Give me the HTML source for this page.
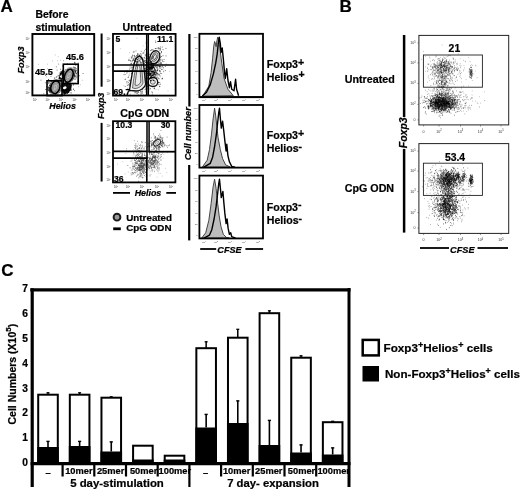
<!DOCTYPE html>
<html><head><meta charset="utf-8"><title>Figure</title>
<style>
html,body{margin:0;padding:0;background:#fff;}
body{width:520px;height:490px;overflow:hidden;}
svg{display:block;font-family:"Liberation Sans", Arial, Helvetica, sans-serif;}
text{stroke:#000;stroke-width:0.22px;}
text.t{stroke:none;}
</style></head><body>
<svg width="520" height="490" viewBox="0 0 520 490">
<rect width="520" height="490" fill="#fff"/>
<g id="panelC">
<text x="1.2" y="275.5" font-size="17" font-weight="bold" font-style="normal" text-anchor="start">C</text>
<line x1="32.2" y1="288.3" x2="32.2" y2="487" stroke="#000" stroke-width="3.2"/>
<line x1="30.3" y1="289.9" x2="350.5" y2="289.9" stroke="#000" stroke-width="3.2"/>
<line x1="349" y1="288" x2="349" y2="487" stroke="#000" stroke-width="3"/>
<line x1="30.6" y1="463.6" x2="350.5" y2="463.6" stroke="#000" stroke-width="3.3"/>
<text x="28.0" y="466.1" font-size="10.2" font-weight="bold" font-style="normal" text-anchor="end">0</text>
<text x="28.0" y="441.24" font-size="10.2" font-weight="bold" font-style="normal" text-anchor="end">1</text>
<text x="28.0" y="416.38" font-size="10.2" font-weight="bold" font-style="normal" text-anchor="end">2</text>
<text x="28.0" y="391.52000000000004" font-size="10.2" font-weight="bold" font-style="normal" text-anchor="end">3</text>
<text x="28.0" y="366.66" font-size="10.2" font-weight="bold" font-style="normal" text-anchor="end">4</text>
<text x="28.0" y="341.8" font-size="10.2" font-weight="bold" font-style="normal" text-anchor="end">5</text>
<text x="28.0" y="316.94000000000005" font-size="10.2" font-weight="bold" font-style="normal" text-anchor="end">6</text>
<text x="28.0" y="292.08000000000004" font-size="10.2" font-weight="bold" font-style="normal" text-anchor="end">7</text>
<text x="15.5" y="424.5" font-size="10.5" font-weight="bold" transform="rotate(-90 15.5 424.5)">Cell Numbers (X10<tspan font-size="8" dy="-4.4">5</tspan><tspan dy="4.4">)</tspan></text>
<line x1="48.0" y1="392.5" x2="48.0" y2="394.5" stroke="#000" stroke-width="1.5"/>
<line x1="46.5" y1="392.8" x2="49.5" y2="392.8" stroke="#000" stroke-width="1.3"/>
<rect x="38.20" y="394.70" width="19.60" height="68.80" fill="#fff" stroke="#000" stroke-width="2"/>
<rect x="37.20" y="447.00" width="21.60" height="16.50" fill="#000"/>
<line x1="48.0" y1="441" x2="48.0" y2="447" stroke="#000" stroke-width="1.6"/>
<line x1="46.4" y1="441.4" x2="49.6" y2="441.4" stroke="#000" stroke-width="1.4"/>
<line x1="79.63" y1="392.5" x2="79.63" y2="394.5" stroke="#000" stroke-width="1.5"/>
<line x1="78.13" y1="392.8" x2="81.13" y2="392.8" stroke="#000" stroke-width="1.3"/>
<rect x="69.83" y="394.70" width="19.60" height="68.80" fill="#fff" stroke="#000" stroke-width="2"/>
<rect x="68.83" y="446.00" width="21.60" height="17.50" fill="#000"/>
<line x1="79.63" y1="441" x2="79.63" y2="446" stroke="#000" stroke-width="1.6"/>
<line x1="78.03" y1="441.4" x2="81.22999999999999" y2="441.4" stroke="#000" stroke-width="1.4"/>
<line x1="111.26" y1="396.5" x2="111.26" y2="397.5" stroke="#000" stroke-width="1.5"/>
<line x1="109.76" y1="396.8" x2="112.76" y2="396.8" stroke="#000" stroke-width="1.3"/>
<rect x="101.46" y="397.70" width="19.60" height="65.80" fill="#fff" stroke="#000" stroke-width="2"/>
<rect x="100.46" y="451.50" width="21.60" height="12.00" fill="#000"/>
<line x1="111.26" y1="441.5" x2="111.26" y2="451.5" stroke="#000" stroke-width="1.6"/>
<line x1="109.66000000000001" y1="441.9" x2="112.86" y2="441.9" stroke="#000" stroke-width="1.4"/>
<rect x="133.09" y="445.70" width="19.60" height="17.80" fill="#fff" stroke="#000" stroke-width="2"/>
<rect x="132.09" y="459.50" width="21.60" height="4.00" fill="#000"/>
<rect x="164.72" y="455.70" width="19.60" height="7.80" fill="#fff" stroke="#000" stroke-width="2"/>
<rect x="163.72" y="459.50" width="21.60" height="4.00" fill="#000"/>
<line x1="206.15000000000003" y1="341.5" x2="206.15000000000003" y2="348" stroke="#000" stroke-width="1.5"/>
<line x1="204.65000000000003" y1="341.8" x2="207.65000000000003" y2="341.8" stroke="#000" stroke-width="1.3"/>
<rect x="196.35" y="348.20" width="19.60" height="115.30" fill="#fff" stroke="#000" stroke-width="2"/>
<rect x="195.35" y="427.50" width="21.60" height="36.00" fill="#000"/>
<line x1="206.15000000000003" y1="414" x2="206.15000000000003" y2="427.5" stroke="#000" stroke-width="1.6"/>
<line x1="204.55000000000004" y1="414.4" x2="207.75000000000003" y2="414.4" stroke="#000" stroke-width="1.4"/>
<line x1="237.78000000000003" y1="329" x2="237.78000000000003" y2="337.5" stroke="#000" stroke-width="1.5"/>
<line x1="236.28000000000003" y1="329.3" x2="239.28000000000003" y2="329.3" stroke="#000" stroke-width="1.3"/>
<rect x="227.98" y="337.70" width="19.60" height="125.80" fill="#fff" stroke="#000" stroke-width="2"/>
<rect x="226.98" y="423.00" width="21.60" height="40.50" fill="#000"/>
<line x1="237.78000000000003" y1="400.5" x2="237.78000000000003" y2="423" stroke="#000" stroke-width="1.6"/>
<line x1="236.18000000000004" y1="400.9" x2="239.38000000000002" y2="400.9" stroke="#000" stroke-width="1.4"/>
<line x1="269.41" y1="310.5" x2="269.41" y2="313" stroke="#000" stroke-width="1.5"/>
<line x1="267.91" y1="310.8" x2="270.91" y2="310.8" stroke="#000" stroke-width="1.3"/>
<rect x="259.61" y="313.20" width="19.60" height="150.30" fill="#fff" stroke="#000" stroke-width="2"/>
<rect x="258.61" y="445.00" width="21.60" height="18.50" fill="#000"/>
<line x1="269.41" y1="420" x2="269.41" y2="445" stroke="#000" stroke-width="1.6"/>
<line x1="267.81" y1="420.4" x2="271.01000000000005" y2="420.4" stroke="#000" stroke-width="1.4"/>
<line x1="301.04" y1="355.5" x2="301.04" y2="357.5" stroke="#000" stroke-width="1.5"/>
<line x1="299.54" y1="355.8" x2="302.54" y2="355.8" stroke="#000" stroke-width="1.3"/>
<rect x="291.24" y="357.70" width="19.60" height="105.80" fill="#fff" stroke="#000" stroke-width="2"/>
<rect x="290.24" y="452.50" width="21.60" height="11.00" fill="#000"/>
<line x1="301.04" y1="444.5" x2="301.04" y2="452.5" stroke="#000" stroke-width="1.6"/>
<line x1="299.44" y1="444.9" x2="302.64000000000004" y2="444.9" stroke="#000" stroke-width="1.4"/>
<line x1="332.67" y1="421" x2="332.67" y2="422" stroke="#000" stroke-width="1.5"/>
<line x1="331.17" y1="421.3" x2="334.17" y2="421.3" stroke="#000" stroke-width="1.3"/>
<rect x="322.87" y="422.20" width="19.60" height="41.30" fill="#fff" stroke="#000" stroke-width="2"/>
<rect x="321.87" y="454.50" width="21.60" height="9.00" fill="#000"/>
<line x1="332.67" y1="447.5" x2="332.67" y2="454.5" stroke="#000" stroke-width="1.6"/>
<line x1="331.07" y1="447.9" x2="334.27000000000004" y2="447.9" stroke="#000" stroke-width="1.4"/>
<line x1="62.6" y1="463" x2="62.6" y2="476.5" stroke="#000" stroke-width="2.2"/>
<line x1="94.3" y1="463" x2="94.3" y2="476.5" stroke="#000" stroke-width="2.2"/>
<line x1="126.0" y1="463" x2="126.0" y2="476.5" stroke="#000" stroke-width="2.2"/>
<line x1="157.7" y1="463" x2="157.7" y2="476.5" stroke="#000" stroke-width="2.2"/>
<line x1="189.4" y1="463" x2="189.4" y2="487" stroke="#000" stroke-width="2.2"/>
<line x1="221.1" y1="463" x2="221.1" y2="476.5" stroke="#000" stroke-width="2.2"/>
<line x1="252.79999999999998" y1="463" x2="252.79999999999998" y2="476.5" stroke="#000" stroke-width="2.2"/>
<line x1="284.5" y1="463" x2="284.5" y2="476.5" stroke="#000" stroke-width="2.2"/>
<line x1="316.2" y1="463" x2="316.2" y2="476.5" stroke="#000" stroke-width="2.2"/>
<text x="48.10" y="475.7" font-size="9.3" font-weight="bold" text-anchor="middle">–</text>
<text x="205.60" y="475.7" font-size="9.3" font-weight="bold" text-anchor="middle">–</text>
<text x="78.85" y="473.9" font-size="9.3" font-weight="bold" text-anchor="middle">10mer</text>
<text x="110.60" y="473.9" font-size="9.3" font-weight="bold" text-anchor="middle">25mer</text>
<text x="143.60" y="473.9" font-size="9.3" font-weight="bold" text-anchor="middle">50mer</text>
<text x="236.60" y="473.9" font-size="9.3" font-weight="bold" text-anchor="middle">10mer</text>
<text x="268.75" y="473.9" font-size="9.3" font-weight="bold" text-anchor="middle">25mer</text>
<text x="301.50" y="473.9" font-size="9.3" font-weight="bold" text-anchor="middle">50mer</text>
<text x="158.60" y="473.9" font-size="9.3" font-weight="bold">100mer</text>
<text x="317.40" y="473.9" font-size="9.3" font-weight="bold">100mer</text>
<text x="117" y="486.8" font-size="11.4" font-weight="bold" font-style="normal" text-anchor="middle">5 day-stimulation</text>
<text x="273" y="486.8" font-size="11.3" font-weight="bold" font-style="normal" text-anchor="middle">7 day- expansion</text>
<rect x="362.7" y="339.9" width="16.100000000000023" height="15.5" fill="#fff" stroke="#000" stroke-width="2.5"/>
<rect x="362.5" y="366" width="16.5" height="15.5" fill="#000"/>
<text x="383.5" y="351.5" font-size="11.7" font-weight="bold">Foxp3<tspan font-size="9" dy="-3.6">+</tspan><tspan dy="3.6">Helios</tspan><tspan font-size="9" dy="-3.6">+</tspan><tspan dy="3.6"> cells</tspan></text>
<text x="385" y="377.8" font-size="11.6" font-weight="bold">Non-Foxp3<tspan font-size="9" dy="-3.6">+</tspan><tspan dy="3.6">Helios</tspan><tspan font-size="9" dy="-3.6">+</tspan><tspan dy="3.6"> cells</tspan></text>
</g>
<g id="panelA">
<text x="0.4" y="12.4" font-size="17" font-weight="bold" font-style="normal" text-anchor="start">A</text>
<text x="35.5" y="17.8" font-size="10.4" font-weight="bold" font-style="normal" text-anchor="start">Before</text>
<text x="35.5" y="30.6" font-size="10.4" font-weight="bold" font-style="normal" text-anchor="start">stimulation</text>
<path d="M62.4 85.7h0.80M59.4 81.7h0.80M55.5 85.8h0.80M70.4 78.2h0.80M69.3 77.8h0.80M65.1 80.8h0.80M55.1 94.5h0.80M67.0 81.7h0.80M44.9 82.7h0.80M54.7 84.4h0.80M63.7 80.2h0.80M62.7 76.4h0.80M65.4 82.2h0.80M64.6 93.3h0.80M70.0 84.6h0.80M55.3 81.8h0.80M59.5 83.3h0.80M66.8 79.9h0.80M55.6 79.9h0.80M63.5 90.3h0.80M58.0 87.3h0.80M58.9 73.0h0.80M67.3 87.7h0.80M48.4 90.9h0.80M58.2 78.8h0.80M64.8 79.2h0.80M56.2 93.3h0.80M69.8 82.9h0.80M72.2 76.2h0.80M57.7 75.4h0.80M63.4 76.0h0.80M54.3 78.5h0.80M54.0 84.5h0.80M62.0 66.0h0.80M54.0 90.6h0.80M73.1 77.2h0.80M40.6 80.2h0.80M61.3 76.8h0.80M58.9 92.3h0.80M69.3 77.0h0.80M65.2 82.7h0.80M74.1 76.6h0.80M67.3 81.8h0.80M69.9 79.5h0.80M47.5 89.3h0.80M60.2 69.3h0.80M64.8 87.6h0.80M64.8 78.5h0.80M66.5 83.3h0.80M67.2 86.6h0.80M56.3 83.5h0.80M68.5 76.8h0.80M60.3 90.9h0.80M69.2 72.4h0.80M53.0 88.5h0.80M59.9 81.4h0.80M66.6 70.0h0.80M64.8 69.7h0.80M59.6 89.0h0.80M72.2 80.1h0.80M64.7 80.9h0.80M65.2 83.9h0.80M62.0 84.2h0.80M65.5 79.1h0.80M68.9 80.7h0.80M75.6 73.1h0.80M57.9 82.5h0.80M65.5 86.3h0.80M61.4 85.5h0.80M63.3 60.8h0.80M56.1 88.9h0.80M65.4 81.0h0.80M61.9 87.2h0.80M61.7 78.2h0.80M78.2 71.1h0.80M58.2 84.4h0.80M60.4 82.9h0.80M43.4 93.8h0.80M63.7 71.4h0.80M65.3 86.7h0.80M73.0 84.4h0.80M50.2 89.1h0.80M62.3 86.6h0.80M58.3 64.1h0.80M63.1 69.7h0.80M60.4 71.6h0.80M67.7 86.6h0.80M61.8 83.6h0.80M67.4 78.5h0.80M67.4 89.5h0.80M67.3 75.2h0.80M74.4 62.6h0.80M66.6 76.1h0.80M65.5 84.6h0.80M65.8 83.8h0.80M46.8 82.9h0.80M62.0 74.4h0.80M50.0 80.5h0.80M72.6 78.9h0.80M67.4 70.1h0.80M57.6 76.8h0.80M72.8 85.3h0.80M62.6 93.7h0.80M67.4 76.1h0.80M59.1 79.7h0.80M66.0 81.8h0.80M67.2 69.6h0.80M74.7 83.0h0.80M70.2 73.7h0.80M61.4 90.5h0.80M63.2 82.0h0.80M69.7 73.5h0.80M46.5 92.1h0.80M53.8 95.3h0.80M61.6 77.6h0.80M65.2 85.9h0.80M67.6 87.7h0.80M65.6 87.1h0.80M77.3 81.7h0.80M61.3 89.5h0.80M46.3 86.7h0.80M54.4 88.3h0.80M60.7 82.9h0.80M59.3 86.1h0.80M73.1 73.0h0.80M69.1 83.9h0.80M55.9 77.2h0.80M62.8 89.8h0.80M49.6 87.7h0.80M71.2 80.4h0.80M65.2 85.7h0.80M58.5 75.7h0.80M50.0 87.1h0.80M65.5 74.6h0.80M53.5 83.1h0.80M52.2 89.4h0.80M56.2 89.8h0.80M50.6 76.4h0.80M65.4 77.0h0.80M45.0 89.5h0.80M62.0 78.4h0.80M69.7 81.4h0.80M67.3 80.1h0.80M72.7 78.2h0.80M56.7 70.1h0.80M72.5 83.4h0.80M58.4 81.4h0.80M67.1 63.9h0.80M74.2 90.7h0.80M59.0 89.9h0.80M73.1 71.7h0.80M68.9 83.2h0.80M56.1 86.3h0.80M67.0 84.3h0.80M61.0 81.3h0.80M54.4 85.6h0.80M67.8 77.9h0.80M53.5 82.5h0.80M82.7 73.5h0.80M55.9 66.8h0.80M67.7 81.0h0.80M74.0 75.3h0.80M63.6 84.7h0.80M61.3 77.1h0.80M77.1 83.5h0.80M50.8 86.2h0.80M64.5 81.3h0.80M55.8 79.6h0.80M79.0 75.8h0.80M49.5 82.0h0.80M76.2 77.8h0.80M76.3 76.3h0.80M57.7 87.7h0.80M45.9 89.7h0.80M63.7 84.7h0.80M57.1 85.2h0.80M66.3 81.4h0.80M66.7 79.7h0.80M63.1 87.3h0.80M59.1 78.0h0.80M58.2 85.2h0.80M61.9 83.3h0.80M62.7 82.8h0.80M56.3 76.9h0.80M68.7 84.7h0.80M63.9 78.9h0.80M61.0 75.3h0.80M50.6 92.0h0.80M59.2 90.2h0.80M45.2 75.5h0.80M61.7 94.6h0.80M54.4 77.7h0.80M59.3 88.3h0.80M65.7 80.3h0.80" stroke="#444" stroke-width="0.80" stroke-opacity="1.0" fill="none"/>
<path d="M77.8 82.1h0.70M59.7 81.0h0.70M79.9 84.7h0.70M72.3 64.2h0.70M58.2 82.3h0.70M56.4 85.7h0.70M67.2 84.1h0.70M74.9 72.8h0.70M55.9 83.7h0.70M71.8 75.1h0.70M46.0 76.9h0.70M64.3 86.3h0.70M69.4 75.2h0.70M70.2 80.4h0.70M62.5 75.6h0.70M57.1 81.9h0.70M47.3 68.7h0.70M60.1 60.4h0.70M54.8 54.9h0.70M51.8 80.7h0.70M66.8 74.5h0.70M57.2 60.8h0.70M81.9 80.2h0.70M73.1 66.2h0.70M57.8 56.8h0.70M69.4 84.4h0.70M37.2 74.5h0.70M67.6 57.4h0.70M38.1 64.3h0.70M52.4 61.0h0.70M60.4 77.5h0.70M67.6 82.0h0.70M78.0 86.6h0.70M44.3 69.9h0.70M47.3 64.2h0.70M59.0 75.1h0.70M65.9 59.1h0.70M45.1 74.8h0.70" stroke="#888" stroke-width="0.70" stroke-opacity="1.0" fill="none"/>
<g transform="translate(55.4 87.2) rotate(15)"><ellipse rx="6.6" ry="8.4" fill="#555" opacity="0.55"/></g>
<g transform="translate(68.8 75.7) rotate(20)"><ellipse rx="6.0" ry="9.0" fill="#555" opacity="0.5"/></g>
<path d="M58.6 78.5 L60 73 L62.8 69.5 L64.4 71 L64 79.5 L61 80 Z" fill="#0a0a0a"/>
<path d="M61.5 83.5 L66 82.8 L72 84.5 L71.2 89 L68.5 93 L64 94.6 L61.6 91 Z" fill="#111"/>
<path d="M65.4 89.2h0.90M65.8 88.0h0.90M68.1 90.9h0.90M65.7 88.3h0.90M65.5 82.9h0.90M63.1 90.1h0.90M61.5 90.5h0.90M66.4 86.4h0.90M65.2 89.2h0.90M67.4 91.6h0.90M65.9 87.8h0.90M65.6 89.8h0.90M68.2 90.8h0.90M63.8 86.5h0.90M64.9 88.1h0.90M62.7 89.7h0.90M64.5 90.3h0.90M67.6 88.9h0.90M73.0 89.2h0.90M69.3 90.3h0.90M69.3 83.8h0.90M63.7 90.6h0.90M67.0 93.3h0.90M68.3 92.5h0.90M67.5 89.6h0.90M67.5 87.2h0.90M69.5 87.4h0.90M65.3 90.1h0.90M69.5 90.1h0.90M63.6 90.7h0.90M67.7 91.8h0.90M63.7 94.6h0.90M71.0 90.0h0.90M66.8 88.9h0.90M70.2 88.2h0.90M68.0 88.8h0.90M63.9 91.9h0.90M70.0 90.0h0.90M64.0 92.1h0.90M65.9 90.8h0.90M70.6 92.9h0.90M66.0 92.0h0.90M64.1 89.9h0.90M60.8 94.6h0.90M70.1 86.8h0.90M61.5 85.8h0.90M69.5 88.8h0.90M65.8 89.2h0.90M65.6 87.2h0.90M66.1 86.3h0.90M65.8 90.8h0.90M67.4 89.4h0.90M63.3 90.4h0.90M64.5 94.1h0.90M68.3 89.7h0.90M64.6 88.2h0.90M63.2 89.1h0.90" stroke="#000" stroke-width="0.90" stroke-opacity="1.0" fill="none"/>
<path d="M50.5 90.1h0.84M48.9 88.1h0.84M54.5 80.5h0.84M49.2 88.7h0.84M50.2 89.6h0.84M49.6 89.5h0.84M50.1 91.1h0.84M47.0 84.5h0.84M50.0 83.9h0.84M48.3 90.5h0.84M49.0 90.5h0.84M51.2 89.2h0.84M50.8 87.6h0.84M47.7 87.9h0.84M50.7 85.9h0.84M49.8 91.0h0.84M48.6 90.6h0.84M53.0 85.8h0.84M50.2 87.4h0.84M52.5 89.3h0.84M51.4 85.2h0.84M50.0 88.0h0.84M47.2 93.8h0.84M51.4 81.0h0.84M51.2 87.5h0.84M50.7 89.5h0.84M47.6 87.2h0.84M52.4 85.7h0.84M48.4 82.6h0.84M48.0 89.3h0.84M52.7 89.7h0.84M49.2 85.3h0.84M50.8 90.2h0.84M48.4 83.3h0.84M50.5 89.0h0.84M47.9 87.2h0.84M49.1 89.8h0.84M49.8 87.7h0.84M49.4 92.2h0.84M52.2 86.5h0.84M51.4 85.0h0.84M50.1 91.0h0.84M52.4 86.5h0.84M49.9 88.8h0.84M47.6 88.1h0.84M48.9 89.5h0.84M48.2 80.1h0.84M50.1 89.0h0.84M49.1 91.6h0.84M49.6 85.6h0.84M50.8 81.7h0.84M48.9 87.9h0.84M51.4 87.3h0.84M50.5 85.4h0.84M50.5 94.7h0.84M49.0 88.1h0.84M50.3 92.1h0.84M48.0 79.6h0.84M51.0 91.2h0.84M50.3 89.0h0.84M51.5 89.5h0.84M52.7 83.0h0.84M49.4 74.2h0.84M51.3 86.5h0.84M50.0 87.0h0.84" stroke="#111" stroke-width="0.84" stroke-opacity="1.0" fill="none"/>
<path d="M73.8 68.2h0.80M73.6 74.9h0.80M74.6 72.3h0.80M74.2 76.1h0.80M75.2 71.4h0.80M75.5 71.3h0.80M72.8 78.5h0.80M75.2 67.7h0.80M76.1 73.6h0.80M72.2 79.2h0.80M75.0 76.0h0.80M74.8 71.3h0.80M72.2 76.4h0.80M74.5 70.7h0.80M75.0 72.4h0.80M75.5 70.3h0.80M74.4 62.4h0.80M73.9 75.0h0.80M76.5 70.4h0.80M74.3 79.1h0.80M74.0 75.3h0.80M77.0 72.2h0.80M76.3 68.8h0.80M74.8 71.7h0.80M74.7 77.1h0.80M78.1 69.0h0.80M73.6 74.2h0.80M72.9 74.2h0.80M75.4 70.8h0.80M75.3 65.0h0.80M75.6 65.0h0.80M73.5 69.5h0.80M73.9 75.9h0.80M74.6 70.2h0.80M75.3 79.1h0.80M74.5 73.6h0.80M76.4 73.2h0.80M72.6 83.2h0.80M77.8 63.1h0.80M74.4 73.9h0.80M75.9 75.0h0.80M74.1 67.3h0.80M74.7 76.7h0.80M72.9 67.4h0.80M74.5 63.3h0.80M74.1 70.0h0.80M75.2 68.8h0.80M73.2 70.2h0.80M74.4 69.0h0.80M74.5 75.4h0.80" stroke="#222" stroke-width="0.80" stroke-opacity="1.0" fill="none"/>
<g transform="translate(55.4 87.2) rotate(15)">
<ellipse rx="4.4" ry="6.3" fill="#efefef" stroke="#000" stroke-width="1.7"/>
<ellipse rx="3.26" ry="4.79" fill="#a8a8a8" stroke="#555" stroke-width="0.5"/>
<ellipse rx="1.98" ry="3.15" fill="#c6c6c6" stroke="#666" stroke-width="0.4"/>
<ellipse rx="0.88" ry="1.64" fill="#9c9c9c"/>
</g>
<g transform="translate(68.8 75.7) rotate(20)">
<ellipse rx="3.9" ry="6.7" fill="#efefef" stroke="#000" stroke-width="1.7"/>
<ellipse rx="2.89" ry="5.09" fill="#a8a8a8" stroke="#555" stroke-width="0.5"/>
<ellipse rx="1.75" ry="3.35" fill="#c6c6c6" stroke="#666" stroke-width="0.4"/>
<ellipse rx="0.78" ry="1.74" fill="#9c9c9c"/>
</g>
<path d="M59.6 76.8 L61.6 74.2 L62 78.2 Z" fill="#fff"/>
<ellipse cx="64.8" cy="87.8" rx="1.9" ry="1.3" fill="#fff" transform="rotate(-20 64.8 87.8)"/>
<rect x="47.0" y="80.8" width="15.0" height="14.799999999999997" fill="none" stroke="#000" stroke-width="1.6"/>
<rect x="63.3" y="64.2" width="14.900000000000006" height="19.39999999999999" fill="none" stroke="#000" stroke-width="1.6"/>
<rect x="32.4" y="34.0" width="61.800000000000004" height="61.400000000000006" fill="none" stroke="#000" stroke-width="1.9"/>
<text x="66" y="60" font-size="9.2" font-weight="bold" font-style="normal" text-anchor="start">45.6</text>
<text x="35" y="74.6" font-size="9.2" font-weight="bold" font-style="normal" text-anchor="start">45.5</text>
<text x="29.5" y="40" font-size="2.6" text-anchor="end" fill="#222" class="t">10<tspan font-size="1.8" dy="-1">4</tspan></text>
<text x="29.5" y="54" font-size="2.6" text-anchor="end" fill="#222" class="t">10<tspan font-size="1.8" dy="-1">2</tspan></text>
<text x="29.5" y="68" font-size="2.6" text-anchor="end" fill="#222" class="t">10<tspan font-size="1.8" dy="-1">5</tspan></text>
<text x="29.5" y="82.5" font-size="2.6" text-anchor="end" fill="#222" class="t">10<tspan font-size="1.8" dy="-1">1</tspan></text>
<text x="29.5" y="94" font-size="2.6" text-anchor="end" fill="#222" class="t">10<tspan font-size="1.8" dy="-1">2</tspan></text>
<text x="35" y="100.5" font-size="2.6" text-anchor="middle" fill="#222" class="t">10<tspan font-size="1.8" dy="-1">1</tspan></text>
<text x="47.5" y="100.5" font-size="2.6" text-anchor="middle" fill="#222" class="t">10<tspan font-size="1.8" dy="-1">3</tspan></text>
<text x="61" y="100.5" font-size="2.6" text-anchor="middle" fill="#222" class="t">10<tspan font-size="1.8" dy="-1">3</tspan></text>
<text x="74.5" y="100.5" font-size="2.6" text-anchor="middle" fill="#222" class="t">10<tspan font-size="1.8" dy="-1">2</tspan></text>
<text x="88" y="100.5" font-size="2.6" text-anchor="middle" fill="#222" class="t">10<tspan font-size="1.8" dy="-1">2</tspan></text>
<text x="24.4" y="60" font-size="9.2" font-weight="bold" font-style="italic" text-anchor="middle" transform="rotate(-90 24.4 60)">Foxp3</text>
<text x="62.6" y="109.2" font-size="8.9" font-weight="bold" font-style="italic" text-anchor="middle">Helios</text>
<line x1="101.6" y1="33.5" x2="101.6" y2="86.7" stroke="#000" stroke-width="2"/>
<text x="103.8" y="105.8" font-size="8.9" font-weight="bold" font-style="italic" text-anchor="middle" transform="rotate(-90 103.8 105.8)">Foxp3</text>
<line x1="101.6" y1="122.9" x2="101.6" y2="181.5" stroke="#000" stroke-width="2"/>
<text x="147.3" y="31.2" font-size="10.6" font-weight="bold" font-style="normal" text-anchor="middle">Untreated</text>
<path d="M141.5 94.0h0.76M135.1 71.0h0.76M121.3 91.9h0.76M134.7 74.9h0.76M144.0 63.3h0.76M141.1 76.2h0.76M128.1 76.9h0.76M148.6 59.0h0.76M142.4 78.9h0.76M140.2 80.8h0.76M146.0 75.2h0.76M144.0 72.9h0.76M144.0 68.8h0.76M134.5 92.8h0.76M141.2 74.9h0.76M133.9 67.0h0.76M137.7 85.4h0.76M139.8 81.6h0.76M135.6 89.2h0.76M137.5 70.2h0.76M143.2 77.6h0.76M138.1 70.0h0.76M135.9 81.8h0.76M142.8 64.5h0.76M140.4 78.2h0.76M131.6 82.5h0.76M137.7 72.4h0.76M140.2 89.8h0.76M133.9 79.5h0.76M133.5 87.2h0.76M133.4 83.2h0.76M155.5 53.5h0.76M135.2 80.4h0.76M139.3 69.3h0.76M149.9 79.1h0.76M127.9 82.6h0.76M126.9 85.4h0.76M135.1 76.8h0.76M145.1 78.5h0.76M134.4 57.9h0.76M143.4 84.5h0.76M132.4 83.5h0.76M139.9 82.9h0.76M126.9 70.6h0.76M141.9 84.2h0.76M148.1 52.9h0.76M138.4 81.0h0.76M154.2 69.4h0.76M136.7 76.0h0.76M144.2 72.6h0.76M146.2 69.5h0.76M141.0 71.1h0.76M140.7 69.4h0.76M127.7 85.0h0.76M141.2 70.9h0.76M137.6 85.9h0.76M133.5 73.9h0.76M140.4 81.7h0.76M140.9 55.0h0.76M144.5 80.6h0.76M139.1 73.3h0.76M140.8 72.1h0.76M134.4 67.6h0.76M136.5 69.3h0.76M131.0 81.0h0.76M130.1 81.0h0.76M132.3 78.3h0.76M145.5 79.5h0.76M134.5 75.7h0.76M142.7 59.2h0.76M134.9 76.9h0.76M135.8 76.3h0.76M140.9 84.3h0.76M142.2 82.8h0.76M137.0 75.5h0.76M137.7 72.6h0.76M141.0 58.9h0.76M136.8 75.4h0.76M133.3 74.7h0.76M141.6 75.0h0.76M154.9 52.7h0.76M141.0 57.9h0.76M124.8 74.5h0.76M141.9 73.6h0.76M145.9 54.6h0.76M142.4 80.6h0.76M139.8 70.3h0.76M142.9 71.9h0.76M140.7 71.2h0.76M126.5 73.2h0.76M138.1 83.6h0.76M133.8 74.7h0.76M141.5 78.1h0.76M137.4 56.2h0.76M140.1 91.9h0.76M141.9 85.0h0.76M136.6 68.3h0.76M145.1 68.0h0.76M130.7 64.2h0.76M136.2 68.1h0.76M141.2 68.9h0.76M145.7 76.7h0.76M130.0 87.6h0.76M134.9 77.5h0.76M139.1 72.9h0.76M141.6 69.6h0.76M132.9 52.3h0.76M133.2 67.2h0.76M138.3 76.5h0.76M141.3 77.8h0.76M135.6 68.2h0.76M127.4 72.0h0.76M140.1 81.7h0.76M138.2 74.2h0.76M143.5 77.2h0.76M141.3 82.5h0.76M137.1 89.0h0.76M136.1 71.9h0.76M135.7 67.3h0.76M143.4 94.9h0.76M137.5 81.6h0.76M143.2 85.2h0.76M147.5 64.9h0.76M134.2 79.7h0.76M146.0 78.6h0.76M134.6 71.6h0.76M136.6 66.9h0.76M147.8 71.5h0.76M144.2 80.6h0.76M134.4 79.4h0.76M146.0 83.9h0.76M145.1 78.3h0.76M141.7 74.6h0.76M138.2 89.2h0.76M130.9 73.8h0.76M140.9 70.7h0.76M135.3 83.4h0.76M148.0 84.4h0.76M143.3 61.2h0.76M148.7 78.9h0.76M140.5 65.0h0.76M140.4 65.2h0.76M138.0 80.6h0.76M138.1 78.8h0.76M131.1 89.1h0.76M138.6 57.5h0.76M139.0 68.3h0.76M133.8 71.4h0.76M142.4 64.7h0.76M134.9 89.8h0.76M142.5 75.3h0.76M139.4 75.0h0.76M136.8 83.1h0.76M142.8 52.3h0.76M140.2 67.3h0.76M143.2 70.7h0.76M135.1 63.8h0.76M135.6 51.0h0.76M127.7 77.5h0.76M138.8 57.0h0.76M129.3 80.4h0.76M135.0 71.6h0.76M137.6 89.7h0.76M146.9 88.2h0.76M138.9 78.0h0.76M145.4 92.0h0.76M135.9 80.1h0.76M139.9 76.8h0.76M138.4 62.5h0.76M138.7 60.3h0.76M144.0 82.6h0.76M129.2 88.4h0.76M147.1 58.3h0.76M146.8 85.9h0.76M152.1 66.2h0.76M140.5 80.7h0.76M139.2 77.9h0.76M147.1 62.5h0.76M134.6 61.0h0.76M136.7 69.5h0.76M140.0 79.0h0.76M140.0 69.4h0.76M134.2 84.9h0.76M142.4 77.8h0.76M133.7 90.9h0.76M134.0 81.7h0.76M145.2 74.7h0.76M145.2 66.0h0.76M143.6 79.1h0.76M128.6 80.8h0.76M131.1 87.6h0.76M135.2 73.6h0.76M140.7 73.1h0.76M141.0 70.9h0.76M142.1 76.8h0.76M145.1 49.3h0.76M144.7 77.6h0.76M128.7 75.0h0.76M138.9 87.0h0.76M129.6 90.0h0.76M136.4 82.5h0.76M138.7 64.7h0.76M142.6 86.1h0.76M145.1 86.1h0.76M138.7 59.1h0.76M136.3 68.7h0.76M132.9 80.8h0.76M140.8 73.7h0.76M139.7 74.8h0.76M138.2 83.6h0.76M145.0 70.3h0.76M127.5 88.3h0.76M136.9 87.0h0.76M130.3 71.0h0.76M141.5 61.9h0.76M134.3 82.5h0.76M141.1 92.8h0.76M136.6 61.3h0.76M139.4 85.8h0.76M142.1 63.5h0.76M141.1 84.6h0.76M142.5 71.8h0.76M138.6 84.1h0.76M139.2 57.3h0.76M139.3 81.1h0.76M136.8 84.7h0.76M135.5 74.6h0.76M135.7 81.3h0.76M147.6 75.3h0.76M146.5 93.2h0.76M141.6 82.6h0.76M148.4 76.2h0.76M140.0 65.5h0.76M138.4 89.7h0.76M140.5 80.7h0.76M137.1 77.4h0.76M128.7 84.7h0.76M138.5 64.7h0.76M136.1 67.1h0.76M141.0 87.3h0.76M129.3 83.6h0.76M144.4 71.3h0.76M132.0 67.1h0.76M134.4 78.7h0.76M140.6 55.7h0.76M142.8 61.2h0.76M145.8 65.2h0.76M136.5 66.9h0.76M133.0 88.1h0.76M141.9 82.8h0.76M143.3 61.2h0.76M136.8 70.0h0.76M132.2 79.9h0.76M135.9 68.2h0.76M137.0 54.7h0.76M139.1 89.7h0.76M141.4 66.6h0.76M123.6 74.7h0.76M144.5 80.2h0.76M140.6 91.5h0.76M145.5 72.9h0.76M142.6 84.8h0.76M131.0 70.3h0.76M131.0 73.4h0.76M143.7 66.2h0.76M124.8 86.5h0.76M137.6 90.8h0.76M129.3 84.9h0.76M136.8 78.4h0.76M135.7 85.6h0.76M143.9 78.0h0.76M129.7 81.8h0.76M134.7 81.6h0.76M136.7 92.2h0.76M145.5 72.8h0.76M136.9 93.7h0.76M134.7 79.7h0.76M142.4 89.6h0.76M143.9 63.6h0.76M131.2 77.0h0.76M131.6 86.2h0.76M146.0 60.5h0.76M133.8 76.7h0.76M136.1 73.9h0.76M142.6 68.6h0.76M142.3 70.3h0.76M134.5 80.7h0.76M134.8 78.2h0.76M147.1 78.0h0.76M136.3 83.0h0.76M134.4 86.2h0.76M130.4 80.7h0.76M137.3 67.6h0.76M149.7 69.6h0.76M146.7 84.4h0.76M148.3 68.0h0.76M142.1 91.6h0.76M138.1 74.6h0.76M151.4 80.4h0.76M137.5 69.4h0.76M140.2 79.7h0.76M136.0 93.1h0.76M135.8 80.3h0.76M148.4 67.8h0.76M140.5 95.1h0.76M133.4 63.8h0.76M136.6 56.8h0.76M144.6 58.3h0.76M138.3 90.8h0.76M130.4 71.1h0.76M126.6 81.5h0.76M135.1 72.6h0.76M137.7 81.4h0.76M136.6 75.8h0.76M135.3 76.5h0.76M132.1 75.3h0.76M129.1 69.1h0.76M148.7 78.9h0.76M131.2 77.1h0.76M136.5 58.8h0.76M133.1 82.4h0.76M140.8 75.5h0.76M135.6 64.4h0.76M145.3 79.9h0.76M137.6 54.3h0.76M132.5 74.0h0.76M139.9 74.7h0.76M139.7 62.2h0.76M129.5 91.4h0.76M132.7 83.5h0.76M129.9 71.5h0.76M137.8 86.4h0.76M131.3 80.6h0.76M142.0 69.2h0.76M142.9 67.7h0.76M134.2 74.9h0.76M124.1 72.0h0.76M136.0 60.6h0.76M134.7 83.0h0.76M133.8 88.0h0.76M134.9 61.9h0.76M146.1 81.6h0.76M145.2 68.9h0.76M142.3 79.4h0.76M141.9 77.0h0.76M146.3 71.0h0.76M136.2 60.5h0.76M146.2 70.0h0.76M134.7 65.7h0.76M138.6 63.1h0.76M138.2 69.5h0.76M137.4 66.0h0.76M139.6 71.5h0.76M138.6 78.6h0.76M144.7 54.9h0.76M137.2 67.6h0.76M145.8 61.4h0.76M135.2 72.3h0.76M134.7 85.3h0.76M134.2 85.0h0.76M134.2 56.6h0.76M144.2 81.6h0.76M140.9 77.7h0.76M143.5 64.6h0.76M144.7 71.8h0.76M143.6 77.9h0.76M130.4 61.2h0.76M144.9 75.9h0.76M135.9 77.9h0.76M137.3 70.2h0.76M138.8 77.5h0.76M146.6 78.1h0.76M145.6 88.3h0.76M138.9 77.5h0.76M139.2 68.7h0.76M139.4 69.6h0.76M146.3 83.0h0.76M139.9 56.7h0.76M139.0 71.9h0.76M134.9 63.7h0.76M125.2 79.1h0.76M138.6 74.5h0.76M146.0 78.9h0.76M140.1 72.5h0.76M132.3 90.0h0.76M140.5 93.9h0.76M136.6 75.9h0.76M131.8 84.5h0.76M129.9 80.0h0.76M141.6 91.0h0.76M131.3 85.7h0.76M136.2 67.8h0.76M129.1 85.9h0.76M148.6 72.0h0.76M135.1 71.8h0.76M150.0 88.6h0.76M139.1 57.8h0.76M132.5 86.9h0.76M149.1 75.4h0.76M135.8 70.2h0.76M126.5 82.8h0.76M130.5 85.2h0.76M131.8 61.7h0.76M141.6 68.8h0.76M142.7 76.9h0.76M130.9 80.8h0.76M146.8 58.2h0.76M147.4 82.9h0.76M146.3 58.6h0.76M135.3 71.8h0.76M147.2 62.9h0.76M137.8 55.1h0.76M136.5 79.1h0.76M130.6 68.4h0.76M138.1 92.1h0.76M142.7 73.7h0.76M134.0 65.5h0.76M134.6 76.7h0.76M134.9 92.3h0.76M142.2 65.8h0.76M144.9 87.0h0.76M140.5 69.0h0.76M130.4 63.9h0.76M145.0 69.1h0.76M131.0 76.5h0.76M138.6 82.2h0.76M139.2 90.5h0.76M132.0 84.7h0.76M131.8 81.7h0.76M139.0 78.6h0.76M143.8 76.9h0.76M142.8 85.8h0.76M140.4 70.6h0.76M135.5 70.0h0.76M137.5 75.5h0.76M153.3 85.5h0.76M144.4 68.4h0.76M135.3 72.1h0.76M141.6 66.1h0.76M148.3 72.2h0.76M149.0 54.3h0.76M137.9 78.7h0.76M138.3 82.1h0.76M139.7 77.9h0.76M129.7 66.9h0.76M124.6 79.6h0.76M140.5 74.4h0.76M135.2 69.4h0.76M145.0 95.0h0.76M135.6 88.6h0.76M133.8 55.3h0.76M137.6 66.9h0.76M135.1 77.2h0.76M156.1 72.8h0.76M138.2 78.8h0.76M136.5 85.1h0.76M150.5 65.8h0.76M139.9 73.6h0.76M143.5 61.4h0.76M133.6 51.4h0.76M141.0 78.5h0.76M143.6 52.9h0.76M138.0 68.2h0.76M132.7 65.5h0.76M141.2 82.1h0.76M137.4 81.0h0.76M135.1 76.0h0.76M137.6 81.5h0.76M138.4 74.5h0.76M139.1 69.5h0.76M149.5 83.5h0.76M149.2 62.3h0.76M140.6 85.0h0.76M146.0 91.0h0.76M145.0 65.3h0.76M133.3 77.7h0.76M143.3 66.5h0.76M137.2 71.7h0.76M138.2 79.4h0.76M139.4 63.6h0.76M142.0 93.0h0.76M135.9 85.9h0.76M139.6 83.0h0.76M142.6 69.0h0.76M139.6 86.5h0.76M129.8 94.3h0.76" stroke="#333" stroke-width="0.76" stroke-opacity="1.0" fill="none"/>
<path d="M162.1 78.7h0.76M151.6 62.2h0.76M147.9 69.6h0.76M151.2 76.3h0.76M137.7 92.5h0.76M164.9 70.6h0.76M155.4 74.7h0.76M154.3 67.0h0.76M153.2 59.9h0.76M153.5 68.9h0.76M155.6 60.0h0.76M152.6 69.6h0.76M157.5 57.9h0.76M153.2 80.0h0.76M156.4 65.5h0.76M150.2 66.0h0.76M153.9 86.5h0.76M152.7 61.9h0.76M154.2 71.5h0.76M148.8 60.2h0.76M150.8 76.2h0.76M147.7 56.9h0.76M157.2 56.1h0.76M152.5 72.9h0.76M153.6 57.8h0.76M152.7 65.3h0.76M155.7 60.2h0.76M161.2 51.7h0.76M151.5 68.9h0.76M158.7 63.2h0.76M156.4 63.3h0.76M153.7 88.5h0.76M149.6 73.5h0.76M145.9 78.8h0.76M159.0 70.4h0.76M145.7 72.4h0.76M157.0 81.8h0.76M159.9 49.8h0.76M146.5 83.9h0.76M144.0 80.3h0.76M161.5 78.8h0.76M159.1 66.3h0.76M146.0 66.9h0.76M151.5 68.3h0.76M156.5 68.0h0.76M152.8 73.8h0.76M149.4 89.0h0.76M154.8 70.3h0.76M152.4 62.0h0.76M159.6 71.7h0.76M147.6 62.0h0.76M152.5 64.0h0.76M160.3 57.3h0.76M154.9 71.0h0.76M146.0 68.5h0.76M151.2 74.4h0.76M149.6 71.9h0.76M145.2 55.8h0.76M155.1 81.0h0.76M153.4 62.5h0.76M161.8 47.1h0.76M147.0 75.7h0.76M157.7 58.3h0.76M139.8 83.2h0.76M154.8 59.4h0.76M151.3 78.9h0.76M136.6 78.9h0.76M159.9 47.0h0.76M159.6 50.3h0.76M158.0 74.3h0.76M165.8 64.2h0.76M150.8 80.4h0.76M150.2 60.8h0.76M150.6 67.9h0.76M145.8 73.4h0.76M155.3 70.2h0.76M162.3 66.8h0.76M160.5 64.1h0.76M159.8 48.6h0.76M153.9 67.3h0.76M150.8 62.0h0.76M151.8 60.9h0.76M141.6 60.7h0.76M150.4 62.8h0.76M147.0 66.7h0.76M157.2 66.9h0.76M147.6 83.4h0.76M156.3 79.8h0.76M159.3 66.4h0.76M150.0 81.0h0.76M149.7 67.2h0.76M153.9 73.4h0.76M149.4 79.5h0.76M150.3 76.7h0.76M157.2 77.1h0.76M158.4 57.0h0.76M146.4 61.2h0.76M152.6 85.7h0.76M145.3 71.3h0.76M149.1 60.3h0.76M149.9 76.3h0.76M151.7 82.0h0.76M145.7 77.9h0.76M157.4 70.5h0.76M156.0 63.3h0.76M147.2 63.7h0.76M147.1 86.5h0.76M153.1 72.6h0.76M157.8 61.1h0.76M156.9 73.8h0.76M143.3 74.3h0.76M154.8 74.4h0.76M161.8 65.8h0.76M154.1 77.6h0.76M145.6 81.3h0.76M146.7 53.7h0.76M157.1 57.6h0.76M154.6 51.0h0.76M154.7 56.7h0.76M156.9 52.6h0.76M155.4 66.5h0.76M153.0 68.3h0.76M155.4 54.7h0.76M138.5 67.3h0.76M148.2 63.3h0.76M158.1 47.8h0.76M149.4 61.7h0.76M146.2 71.7h0.76M153.1 60.0h0.76M145.8 77.0h0.76M148.0 74.8h0.76M158.1 48.8h0.76M146.6 68.1h0.76M153.1 77.8h0.76M155.2 80.9h0.76M150.8 66.4h0.76M157.4 65.0h0.76M160.9 52.6h0.76M156.3 67.7h0.76M140.2 78.0h0.76M154.2 69.5h0.76M147.4 63.1h0.76M162.1 61.2h0.76M135.0 56.8h0.76M146.2 66.6h0.76M151.9 58.8h0.76M146.2 79.7h0.76M141.4 89.1h0.76M151.3 56.7h0.76M155.9 75.8h0.76M145.6 76.3h0.76M144.0 57.4h0.76M159.0 67.1h0.76M144.6 73.5h0.76M157.5 69.5h0.76M143.2 63.7h0.76M153.5 77.7h0.76M163.0 67.8h0.76M149.9 68.2h0.76M160.6 59.8h0.76M164.1 40.2h0.76M157.9 62.3h0.76M153.9 76.9h0.76M146.2 67.1h0.76M152.8 75.6h0.76M149.1 57.5h0.76M137.9 95.0h0.76M151.8 66.4h0.76M142.8 77.9h0.76M147.2 84.2h0.76M157.1 69.9h0.76M158.3 57.5h0.76M151.7 62.5h0.76M145.6 68.1h0.76M149.4 84.5h0.76M135.4 58.9h0.76M148.3 63.2h0.76M154.1 73.7h0.76M153.4 63.9h0.76M154.6 73.3h0.76M142.9 64.6h0.76M147.0 55.0h0.76M153.2 69.8h0.76M154.6 59.6h0.76M152.9 58.9h0.76M153.4 76.8h0.76M160.0 84.2h0.76M148.9 63.4h0.76M146.9 71.6h0.76M162.1 78.3h0.76M142.6 53.5h0.76M144.6 73.5h0.76M152.0 72.3h0.76M163.5 61.5h0.76M144.7 89.7h0.76M155.6 60.8h0.76M144.0 50.8h0.76M139.1 67.7h0.76M151.1 79.8h0.76M152.9 61.3h0.76M145.3 89.1h0.76M142.6 69.4h0.76M151.6 75.7h0.76M149.5 74.1h0.76M157.2 68.1h0.76M150.3 66.6h0.76M147.6 65.9h0.76M150.5 71.0h0.76M157.6 84.3h0.76M149.1 75.2h0.76M152.9 77.5h0.76M152.2 71.9h0.76M151.2 60.1h0.76M155.1 83.8h0.76M155.4 74.3h0.76M154.7 64.3h0.76M141.7 74.8h0.76M154.5 63.1h0.76M145.2 82.1h0.76M139.8 86.7h0.76M152.1 95.3h0.76M148.6 68.2h0.76M149.5 70.3h0.76M152.6 60.7h0.76M159.6 61.3h0.76M148.8 74.6h0.76M150.3 63.8h0.76M155.0 65.3h0.76M145.9 66.9h0.76M148.5 87.4h0.76M144.9 78.6h0.76M148.8 64.5h0.76M150.3 71.7h0.76M154.3 88.7h0.76M146.9 82.9h0.76M156.6 78.7h0.76M146.9 78.2h0.76M151.3 72.8h0.76M149.9 76.0h0.76M156.7 82.2h0.76M149.7 79.7h0.76M161.9 60.0h0.76M162.7 55.7h0.76M154.5 75.9h0.76M160.1 73.3h0.76M151.2 59.9h0.76M144.4 76.3h0.76M152.4 61.0h0.76M156.7 61.1h0.76M150.9 63.7h0.76M159.1 86.3h0.76M154.2 51.8h0.76M153.9 70.0h0.76M153.5 75.4h0.76M149.2 78.8h0.76M156.7 72.0h0.76M151.1 63.4h0.76M158.1 57.6h0.76M152.9 60.7h0.76M143.9 74.4h0.76M152.3 69.4h0.76M159.7 53.5h0.76M151.7 72.1h0.76M158.8 57.9h0.76M156.0 72.0h0.76M158.0 82.5h0.76M152.0 92.8h0.76M153.2 64.4h0.76M152.2 58.5h0.76M155.4 48.5h0.76M151.3 73.6h0.76M158.5 66.0h0.76M161.1 63.1h0.76M154.9 48.5h0.76M149.7 59.8h0.76M159.6 75.8h0.76M145.8 73.8h0.76M155.4 66.9h0.76M153.1 65.8h0.76M152.5 49.7h0.76M150.0 82.6h0.76M160.6 67.2h0.76M148.9 66.2h0.76M156.7 73.5h0.76M148.8 72.4h0.76M150.6 74.3h0.76M152.7 53.1h0.76M151.6 77.1h0.76M146.8 67.0h0.76M157.8 65.7h0.76M145.8 90.0h0.76M155.3 80.6h0.76M144.9 85.5h0.76M144.6 62.2h0.76M154.3 83.7h0.76M148.6 61.2h0.76M156.6 48.7h0.76M155.0 75.4h0.76M149.3 74.3h0.76M156.1 72.9h0.76M152.8 85.4h0.76M149.7 70.3h0.76M148.1 79.5h0.76M149.6 73.7h0.76M153.1 69.8h0.76M161.7 69.5h0.76M158.7 78.8h0.76M159.7 68.3h0.76M156.2 77.7h0.76M148.8 71.3h0.76M151.9 68.5h0.76M160.5 62.5h0.76M146.4 49.4h0.76M151.1 61.9h0.76M151.7 75.0h0.76M161.3 73.6h0.76M156.1 61.7h0.76M153.4 83.7h0.76M162.6 49.6h0.76M154.7 86.3h0.76M159.2 54.0h0.76M150.0 74.9h0.76M156.0 60.8h0.76M146.3 78.4h0.76M143.2 83.0h0.76M152.1 72.2h0.76M146.5 61.7h0.76M158.4 54.1h0.76M165.6 55.9h0.76M146.0 68.5h0.76M153.9 77.1h0.76M150.9 66.5h0.76M152.2 62.8h0.76M137.5 77.0h0.76M153.6 70.9h0.76M148.8 71.1h0.76M152.6 68.2h0.76M161.0 51.9h0.76M155.5 58.1h0.76M148.5 84.4h0.76M147.0 67.1h0.76M147.9 78.5h0.76M150.0 50.6h0.76M155.7 65.7h0.76M149.1 80.0h0.76M148.5 64.4h0.76M152.6 73.4h0.76M148.2 79.4h0.76M164.9 66.5h0.76M165.6 48.4h0.76M160.4 66.5h0.76M153.8 65.6h0.76M151.2 55.2h0.76M148.4 82.2h0.76M159.0 66.3h0.76M150.9 61.3h0.76M143.4 86.9h0.76M155.8 70.7h0.76M151.5 57.9h0.76M158.1 78.2h0.76M146.0 78.6h0.76M145.7 74.8h0.76M148.1 63.9h0.76M154.4 73.9h0.76M159.1 61.1h0.76M158.6 84.3h0.76M151.7 73.8h0.76M148.7 66.8h0.76M145.5 68.9h0.76M151.4 83.2h0.76M156.2 78.3h0.76M151.0 66.4h0.76M150.4 71.1h0.76M141.2 75.5h0.76M145.1 62.4h0.76M153.4 63.7h0.76M161.3 69.3h0.76M158.9 82.5h0.76M149.3 72.8h0.76M159.8 66.5h0.76M153.8 63.2h0.76M153.4 65.4h0.76M151.4 79.5h0.76M159.6 71.5h0.76M152.2 78.1h0.76M152.7 57.7h0.76M159.8 60.1h0.76M158.9 59.7h0.76M163.7 59.5h0.76M154.6 85.3h0.76M145.1 83.8h0.76M151.0 49.9h0.76M155.2 76.9h0.76M155.4 42.5h0.76M152.7 65.8h0.76M151.0 65.7h0.76M144.0 61.7h0.76M159.5 86.6h0.76M151.7 61.3h0.76M152.9 80.4h0.76M158.1 57.4h0.76M153.1 70.6h0.76M158.1 82.6h0.76M153.3 82.1h0.76M148.0 84.7h0.76M149.7 72.8h0.76M158.7 60.2h0.76M151.6 50.1h0.76M153.4 68.6h0.76M150.0 73.9h0.76M141.5 67.1h0.76M153.4 66.3h0.76M153.9 87.9h0.76M151.7 58.8h0.76M149.2 69.5h0.76M156.9 60.5h0.76M159.3 59.1h0.76M156.1 74.1h0.76M151.5 91.9h0.76M151.4 67.1h0.76M153.6 78.4h0.76M145.1 70.8h0.76M147.6 75.0h0.76M159.6 70.6h0.76M151.7 70.8h0.76M135.9 74.7h0.76M155.2 71.2h0.76M151.6 61.1h0.76M149.6 81.5h0.76M149.8 83.0h0.76M139.8 62.2h0.76M154.0 69.1h0.76M144.9 60.7h0.76M161.1 56.5h0.76M149.1 56.8h0.76M148.6 75.3h0.76M158.8 48.3h0.76M161.1 64.0h0.76M146.8 85.9h0.76M154.0 56.0h0.76M150.3 60.9h0.76M147.8 64.7h0.76M156.5 73.3h0.76M147.1 69.4h0.76M151.5 77.0h0.76M150.1 73.5h0.76M163.3 71.7h0.76M146.3 71.6h0.76M148.9 64.5h0.76M153.0 72.7h0.76M149.7 77.6h0.76M153.6 55.2h0.76M157.7 65.9h0.76M159.9 63.1h0.76M155.0 72.7h0.76M140.8 51.3h0.76M144.4 82.8h0.76M141.2 77.1h0.76M157.4 75.0h0.76M156.8 64.4h0.76M152.1 71.3h0.76M153.6 76.7h0.76M152.5 61.5h0.76M148.9 72.8h0.76M145.8 54.6h0.76M151.2 62.9h0.76M155.3 41.0h0.76M151.1 66.1h0.76M159.7 48.9h0.76M150.2 73.7h0.76M153.2 81.9h0.76M159.7 58.9h0.76M156.4 66.0h0.76M145.9 84.4h0.76M150.6 59.6h0.76M151.7 59.8h0.76M157.2 73.8h0.76M159.2 74.4h0.76M147.6 79.5h0.76M149.8 63.6h0.76M151.6 69.3h0.76M159.7 63.6h0.76M154.4 69.0h0.76M147.6 56.5h0.76M150.7 73.1h0.76M153.4 74.3h0.76M153.5 64.3h0.76M156.3 58.8h0.76M146.0 64.5h0.76M145.8 62.5h0.76M149.5 62.6h0.76M153.5 60.6h0.76M153.0 50.7h0.76M154.7 59.9h0.76M159.1 39.7h0.76M147.9 70.9h0.76M140.3 63.3h0.76M152.8 70.2h0.76" stroke="#222" stroke-width="0.76" stroke-opacity="1.0" fill="none"/>
<path d="M132.6 72.7h0.60M148.4 58.7h0.60M154.2 69.4h0.60M147.2 64.8h0.60M152.3 71.1h0.60M158.0 75.2h0.60M141.0 67.4h0.60M155.9 65.8h0.60M150.7 76.0h0.60M145.3 43.0h0.60M148.3 72.5h0.60M148.3 61.2h0.60M158.7 68.4h0.60M141.0 61.7h0.60M150.5 57.3h0.60M137.3 93.2h0.60M159.7 82.2h0.60M160.2 76.9h0.60M130.7 83.9h0.60M159.0 75.7h0.60M128.1 84.4h0.60M160.2 64.3h0.60M148.2 79.0h0.60M146.2 82.8h0.60M147.8 78.0h0.60M147.8 52.8h0.60M149.7 85.2h0.60M158.0 89.9h0.60M152.4 63.1h0.60M147.2 47.7h0.60M145.2 80.5h0.60M126.0 72.3h0.60M155.0 85.5h0.60M138.0 62.4h0.60M128.8 58.1h0.60M152.2 94.1h0.60M135.9 86.1h0.60M151.1 64.2h0.60M168.3 40.6h0.60M146.3 72.6h0.60M167.7 90.9h0.60M169.0 71.6h0.60M156.5 85.9h0.60M152.0 74.2h0.60M145.2 65.2h0.60M135.1 92.7h0.60M142.7 45.7h0.60M149.6 69.6h0.60M148.7 91.2h0.60M146.0 66.9h0.60M139.7 69.7h0.60M142.7 72.4h0.60M138.7 92.5h0.60M155.4 79.5h0.60M154.0 79.6h0.60M153.6 86.5h0.60M156.8 85.7h0.60M142.1 70.0h0.60M139.9 81.2h0.60M155.1 64.6h0.60M159.0 57.0h0.60M146.1 77.4h0.60M146.7 74.5h0.60M158.5 73.8h0.60M136.3 78.4h0.60M146.1 71.3h0.60M141.5 53.8h0.60M134.9 65.9h0.60M136.6 38.3h0.60M158.2 56.4h0.60M139.9 76.2h0.60M123.5 85.7h0.60M139.5 77.7h0.60M142.3 73.6h0.60M148.0 70.0h0.60M129.2 52.8h0.60M146.6 86.5h0.60M141.7 76.2h0.60M148.6 75.7h0.60M156.7 52.5h0.60M149.7 67.9h0.60M144.0 60.0h0.60M139.3 58.0h0.60M163.6 70.1h0.60M154.2 58.6h0.60M119.9 48.7h0.60M148.4 86.8h0.60M146.6 58.3h0.60M144.6 58.3h0.60M133.4 67.3h0.60M143.1 60.5h0.60M138.4 59.1h0.60M149.3 86.3h0.60M131.2 73.2h0.60M135.7 68.1h0.60M148.0 76.5h0.60M158.0 63.5h0.60M134.9 67.8h0.60M149.9 61.8h0.60M155.7 89.7h0.60M133.1 74.2h0.60M156.9 47.5h0.60M149.0 67.4h0.60M133.1 85.4h0.60M149.1 64.4h0.60M151.3 77.5h0.60M154.5 76.8h0.60M151.0 56.2h0.60M142.9 71.5h0.60M120.0 94.9h0.60M143.3 57.7h0.60M129.3 72.9h0.60M147.3 63.2h0.60M142.9 59.6h0.60M139.7 68.9h0.60M140.7 77.9h0.60M145.6 71.5h0.60M151.0 84.9h0.60M152.9 72.7h0.60M145.4 60.6h0.60M143.7 78.0h0.60M149.2 65.5h0.60M134.0 52.1h0.60M150.1 82.0h0.60M150.6 53.9h0.60M144.9 72.6h0.60M138.1 74.1h0.60M145.0 60.2h0.60M134.9 79.5h0.60M150.5 59.6h0.60M137.1 80.4h0.60M152.8 66.4h0.60M162.5 66.6h0.60M136.7 82.8h0.60M145.2 74.0h0.60" stroke="#777" stroke-width="0.60" stroke-opacity="1.0" fill="none"/>
<g fill="none" stroke="#333" stroke-width="0.7">
<path d="M129.5 90.5 C131 80 133 68 134.8 61.5 C136 56 140.5 54.5 142.6 59.5 C144.2 66 144.6 76 145.6 84 C145 88 140 91 136.5 91 Z" fill="#f4f4f4" stroke="#111" stroke-width="1.3"/>
<path d="M132.5 88 C133.5 80 135 70 136.4 64 C137.2 60 140 59.5 141 63 C142 69 142.4 77 143 83 C142 86.5 138 88.5 135 88.5 Z" fill="#d8d8d8"/>
<path d="M135 85 C135.6 79 136.6 72 137.6 67 C138.2 64.5 139.4 64.8 139.8 67 C140.4 72 140.6 78 140.8 82 C139.6 84.5 137.5 85.5 136 85.5 Z" fill="#eee"/>
<ellipse cx="154.8" cy="57.2" rx="4.7" ry="6.7" transform="rotate(22 154.8 57.2)" fill="#f4f4f4" stroke="#111" stroke-width="1.3"/>
<ellipse cx="154.8" cy="57" rx="2.8" ry="4.6" transform="rotate(22 154.8 57)" fill="#d4d4d4"/>
<ellipse cx="154.8" cy="57" rx="1.4" ry="2.6" transform="rotate(22 154.8 57)" fill="#eee"/>
<ellipse cx="152.9" cy="82" rx="4.8" ry="4.5" fill="#f8f8f8" stroke="#111" stroke-width="1.3"/>
<ellipse cx="152.8" cy="82" rx="2.5" ry="2.2" fill="#e4e4e4"/>
<ellipse cx="152" cy="71" rx="3" ry="4.4" fill="#ccc" stroke="#222" stroke-width="0.9"/>
</g>
<path d="M150.9 65.1h0.90M148.5 69.1h0.90M153.5 65.1h0.90M153.4 71.1h0.90M148.6 71.3h0.90M151.9 65.6h0.90M146.7 71.7h0.90M148.6 72.1h0.90M147.1 69.3h0.90M149.2 62.8h0.90M150.3 70.8h0.90M149.7 64.3h0.90M151.2 61.5h0.90M151.8 72.4h0.90M154.1 74.3h0.90M151.5 71.3h0.90M150.9 63.6h0.90M153.6 72.6h0.90M150.2 64.4h0.90M153.7 72.6h0.90M148.5 73.3h0.90M154.5 69.9h0.90M151.6 68.0h0.90M149.6 75.2h0.90M156.8 70.6h0.90M150.6 73.9h0.90M150.2 73.5h0.90M152.4 65.1h0.90M148.7 69.6h0.90M152.4 71.3h0.90M153.2 63.3h0.90M151.8 67.0h0.90M151.0 71.6h0.90M148.9 68.9h0.90M148.5 71.3h0.90M149.1 67.6h0.90M151.2 66.8h0.90M153.0 66.9h0.90M152.4 71.4h0.90M148.8 68.9h0.90M149.2 68.2h0.90M150.3 78.8h0.90M150.0 77.6h0.90M151.7 63.7h0.90M146.3 73.3h0.90M146.9 73.5h0.90M152.8 71.9h0.90M150.4 68.8h0.90M151.3 68.5h0.90M149.8 68.2h0.90M153.1 67.0h0.90M151.5 64.4h0.90M149.4 63.3h0.90M150.4 73.3h0.90M151.4 67.6h0.90M152.0 68.3h0.90M151.5 71.3h0.90M151.8 58.0h0.90M148.3 73.7h0.90M150.6 80.9h0.90M150.3 67.3h0.90M153.7 72.7h0.90M154.5 72.5h0.90M150.4 73.5h0.90M149.3 67.8h0.90M149.7 68.9h0.90M152.3 67.7h0.90M151.4 67.6h0.90M152.5 56.7h0.90M150.4 70.8h0.90M148.7 74.9h0.90M151.2 76.2h0.90M152.7 73.1h0.90M150.5 64.7h0.90M150.4 67.8h0.90M151.3 67.8h0.90M156.7 62.3h0.90M153.1 67.7h0.90M150.3 74.5h0.90M150.8 64.1h0.90M151.6 69.1h0.90M146.8 71.0h0.90M148.8 66.4h0.90M151.7 71.4h0.90M150.2 80.5h0.90M151.6 67.0h0.90M151.3 69.4h0.90M146.5 62.4h0.90M148.1 80.0h0.90M150.4 68.7h0.90M149.7 74.7h0.90M150.9 78.2h0.90M152.3 77.9h0.90M150.6 71.8h0.90M150.0 69.2h0.90M147.5 67.2h0.90M149.0 66.9h0.90M153.1 71.3h0.90M153.2 74.1h0.90M152.6 74.8h0.90M149.6 73.9h0.90M150.2 67.4h0.90M153.1 80.4h0.90M148.9 78.4h0.90M152.4 65.9h0.90M151.3 71.8h0.90M151.5 68.3h0.90M148.3 70.2h0.90M152.5 73.8h0.90M152.1 75.3h0.90" stroke="#000" stroke-width="0.90" stroke-opacity="1.0" fill="none"/>
<path d="M132.7 59.9h0.80M137.1 62.9h0.80M136.5 61.5h0.80M136.5 66.1h0.80M128.6 59.9h0.80M144.3 60.7h0.80M129.8 60.4h0.80M131.2 58.0h0.80M136.8 65.0h0.80M137.6 61.9h0.80M139.4 60.6h0.80M133.1 59.7h0.80M137.1 59.2h0.80M133.7 59.0h0.80M130.9 57.0h0.80M135.7 59.0h0.80M136.1 64.1h0.80M137.0 59.9h0.80M132.0 56.9h0.80M137.3 57.5h0.80M137.4 56.9h0.80M136.5 59.8h0.80M139.4 58.9h0.80M134.7 60.7h0.80M136.2 64.9h0.80M135.1 58.5h0.80M134.9 61.4h0.80M136.8 62.0h0.80M131.3 67.2h0.80M142.2 59.9h0.80M131.9 60.4h0.80M137.4 53.6h0.80M136.0 55.7h0.80M137.5 64.0h0.80M139.5 55.7h0.80M140.7 62.6h0.80M134.8 61.4h0.80M141.1 59.0h0.80M135.9 58.4h0.80M139.9 53.8h0.80M140.8 57.2h0.80M139.1 55.3h0.80M132.8 58.3h0.80M138.8 55.3h0.80M138.0 58.2h0.80M140.2 59.1h0.80M137.6 59.5h0.80M142.0 59.0h0.80M135.9 65.7h0.80M136.3 62.0h0.80M133.5 60.6h0.80M128.4 60.3h0.80M133.8 55.7h0.80M131.2 63.3h0.80M137.4 55.6h0.80M142.1 58.0h0.80M134.8 60.7h0.80M132.2 55.3h0.80M133.5 63.4h0.80M139.2 55.4h0.80" stroke="#111" stroke-width="0.80" stroke-opacity="1.0" fill="none"/>
<line x1="146.7" y1="33.9" x2="146.7" y2="95.6" stroke="#000" stroke-width="1.5"/>
<line x1="148.3" y1="33.9" x2="148.3" y2="95.6" stroke="#000" stroke-width="1.5"/>
<line x1="113.0" y1="65.0" x2="175.6" y2="65.0" stroke="#000" stroke-width="1.7"/>
<line x1="113.0" y1="71.2" x2="146.7" y2="71.2" stroke="#000" stroke-width="1.7"/>
<rect x="113.0" y="33.9" width="62.599999999999994" height="61.699999999999996" fill="none" stroke="#000" stroke-width="1.8"/>
<text x="115.4" y="41.7" font-size="8.6" font-weight="bold" font-style="normal" text-anchor="start">5</text>
<text x="173.2" y="41.7" font-size="8.6" font-weight="bold" font-style="normal" text-anchor="end">11.1</text>
<text x="113.6" y="95.0" font-size="8.6" font-weight="bold" font-style="normal" text-anchor="start">69.7</text>
<text x="110.5" y="40" font-size="2.6" text-anchor="end" fill="#222" class="t">10<tspan font-size="1.8" dy="-1">4</tspan></text>
<text x="110.5" y="54" font-size="2.6" text-anchor="end" fill="#222" class="t">10<tspan font-size="1.8" dy="-1">2</tspan></text>
<text x="110.5" y="68" font-size="2.6" text-anchor="end" fill="#222" class="t">10<tspan font-size="1.8" dy="-1">5</tspan></text>
<text x="110.5" y="82" font-size="2.6" text-anchor="end" fill="#222" class="t">10<tspan font-size="1.8" dy="-1">3</tspan></text>
<text x="110.5" y="95" font-size="2.6" text-anchor="end" fill="#222" class="t">10<tspan font-size="1.8" dy="-1">4</tspan></text>
<text x="116" y="101" font-size="2.6" text-anchor="middle" fill="#222" class="t">10<tspan font-size="1.8" dy="-1">3</tspan></text>
<text x="128" y="101" font-size="2.6" text-anchor="middle" fill="#222" class="t">10<tspan font-size="1.8" dy="-1">2</tspan></text>
<text x="142" y="101" font-size="2.6" text-anchor="middle" fill="#222" class="t">10<tspan font-size="1.8" dy="-1">5</tspan></text>
<text x="157" y="101" font-size="2.6" text-anchor="middle" fill="#222" class="t">10<tspan font-size="1.8" dy="-1">5</tspan></text>
<text x="171" y="101" font-size="2.6" text-anchor="middle" fill="#222" class="t">10<tspan font-size="1.8" dy="-1">3</tspan></text>
<text x="144.8" y="117" font-size="10.6" font-weight="bold" font-style="normal" text-anchor="middle">CpG ODN</text>
<path d="M145.2 166.1h0.72M142.4 165.7h0.72M143.2 160.0h0.72M137.7 160.6h0.72M138.4 168.0h0.72M134.0 172.4h0.72M138.6 161.4h0.72M142.8 167.9h0.72M140.3 159.1h0.72M138.2 155.8h0.72M143.9 171.6h0.72M147.4 169.1h0.72M141.0 169.3h0.72M144.5 164.4h0.72M139.6 176.7h0.72M135.3 156.2h0.72M135.9 168.2h0.72M145.6 164.2h0.72M143.2 165.3h0.72M142.3 162.4h0.72M140.4 165.0h0.72M142.6 177.7h0.72M132.7 166.4h0.72M139.4 170.1h0.72M143.9 170.0h0.72M144.7 160.6h0.72M132.0 172.5h0.72M146.3 160.9h0.72M144.9 169.6h0.72M129.8 167.8h0.72M135.3 170.4h0.72M138.6 160.5h0.72M134.6 162.6h0.72M145.3 162.3h0.72M130.8 174.8h0.72M147.1 170.1h0.72M139.7 158.2h0.72M133.4 166.6h0.72M146.8 160.4h0.72M140.8 163.5h0.72M138.9 167.4h0.72M149.5 163.3h0.72M142.7 171.4h0.72M139.5 164.0h0.72M134.0 169.6h0.72M139.1 161.1h0.72M141.7 160.5h0.72M136.7 162.6h0.72M146.6 165.1h0.72M144.2 157.7h0.72M130.8 173.1h0.72M140.6 156.5h0.72M139.4 168.1h0.72M134.6 158.9h0.72M142.5 160.3h0.72M142.6 170.7h0.72M142.7 163.1h0.72M141.0 161.6h0.72M139.6 166.6h0.72M138.3 169.9h0.72M151.4 164.2h0.72M141.0 169.6h0.72M143.3 164.3h0.72M137.5 169.9h0.72M142.4 168.2h0.72M136.6 167.7h0.72M143.9 164.7h0.72M140.7 177.0h0.72M132.4 166.7h0.72M137.3 156.8h0.72M139.0 167.7h0.72M142.0 158.9h0.72M135.4 160.9h0.72M141.4 160.6h0.72M132.6 173.1h0.72M137.3 163.5h0.72M138.9 161.5h0.72M141.0 163.5h0.72M144.2 159.2h0.72M132.5 174.2h0.72M139.4 169.0h0.72M144.6 168.9h0.72M142.3 156.8h0.72M133.1 168.9h0.72M142.6 168.6h0.72M136.2 152.3h0.72M137.6 157.9h0.72M142.2 159.7h0.72M147.5 163.0h0.72M137.3 169.1h0.72M142.8 160.5h0.72M141.7 175.9h0.72M135.9 162.7h0.72M138.3 153.8h0.72M142.2 169.2h0.72M143.9 168.1h0.72M132.5 163.2h0.72M139.1 158.2h0.72M135.3 168.2h0.72M137.2 175.2h0.72M144.4 155.2h0.72M142.7 172.4h0.72M141.9 158.6h0.72M149.0 159.4h0.72M142.2 154.8h0.72M137.3 154.9h0.72M143.6 172.2h0.72M140.3 157.4h0.72M139.8 167.0h0.72M135.6 157.6h0.72M139.3 168.7h0.72M140.3 167.5h0.72M138.2 150.7h0.72M142.7 160.3h0.72M140.4 162.9h0.72M143.3 161.3h0.72M146.3 166.3h0.72M141.9 168.8h0.72M144.2 168.0h0.72M134.2 160.2h0.72M147.5 169.0h0.72M142.2 168.0h0.72M138.7 160.8h0.72M136.6 170.7h0.72M140.0 174.8h0.72M140.4 175.6h0.72M143.6 159.0h0.72M147.1 168.2h0.72M145.1 167.1h0.72M139.0 165.6h0.72M137.3 157.7h0.72M137.5 161.5h0.72M135.1 163.3h0.72M139.5 176.2h0.72M148.0 166.2h0.72M144.3 164.5h0.72M142.1 165.1h0.72M138.2 165.0h0.72M134.0 166.2h0.72M140.5 158.9h0.72M138.4 167.7h0.72M137.2 167.0h0.72M141.1 173.9h0.72M136.2 163.5h0.72M140.9 173.5h0.72M140.7 169.3h0.72M135.2 160.6h0.72M147.5 164.8h0.72M150.1 162.8h0.72M141.1 156.2h0.72M142.8 167.0h0.72M148.5 167.6h0.72M141.0 157.2h0.72M139.1 170.1h0.72M142.2 172.3h0.72M144.1 165.5h0.72M142.8 166.4h0.72M133.2 173.2h0.72M143.2 159.6h0.72M141.7 166.9h0.72M143.0 173.7h0.72M127.5 165.5h0.72M147.8 161.1h0.72M132.6 165.0h0.72M141.5 167.2h0.72M136.5 161.5h0.72M140.5 169.2h0.72M149.1 168.4h0.72M140.6 151.7h0.72M145.0 165.2h0.72M141.1 159.5h0.72M145.5 155.9h0.72M140.8 165.7h0.72M140.3 172.3h0.72M140.0 165.4h0.72M145.7 157.3h0.72M139.2 165.1h0.72M145.3 161.4h0.72M143.4 167.8h0.72M136.1 155.7h0.72M134.5 164.6h0.72M140.5 169.1h0.72M144.5 162.7h0.72M144.0 170.3h0.72M141.9 168.0h0.72M134.8 165.9h0.72M137.6 157.6h0.72M138.9 165.5h0.72M140.6 163.2h0.72M136.2 165.2h0.72M139.0 156.7h0.72M139.3 173.0h0.72M140.0 158.9h0.72M144.3 175.5h0.72M139.5 163.6h0.72M138.1 181.3h0.72M139.9 170.5h0.72M144.3 155.4h0.72M137.4 157.4h0.72M142.2 165.9h0.72M148.1 165.0h0.72M141.7 165.7h0.72M138.5 177.8h0.72M140.0 173.3h0.72M146.5 162.8h0.72M143.7 163.5h0.72M140.8 166.0h0.72M141.1 162.5h0.72M147.2 164.8h0.72M141.5 174.8h0.72M141.9 171.1h0.72M145.0 172.1h0.72M149.1 158.6h0.72M148.5 166.8h0.72M134.0 160.0h0.72M134.8 163.7h0.72M135.5 158.3h0.72M141.5 166.1h0.72M137.5 163.1h0.72M140.0 165.3h0.72M140.7 163.8h0.72M145.9 156.9h0.72M138.3 165.3h0.72M139.5 161.6h0.72M138.5 165.8h0.72M145.8 165.0h0.72M139.0 166.7h0.72M141.7 154.2h0.72M142.0 163.2h0.72M137.4 168.0h0.72M141.3 161.9h0.72M133.5 153.8h0.72M140.7 164.4h0.72M142.1 166.6h0.72M139.9 157.7h0.72M136.2 163.3h0.72M134.9 168.2h0.72M137.0 154.1h0.72M141.7 155.1h0.72M148.3 160.9h0.72M140.6 163.6h0.72M139.1 154.6h0.72M131.9 168.2h0.72M142.3 177.7h0.72M133.9 166.9h0.72M139.5 169.6h0.72M137.6 168.5h0.72M143.5 169.1h0.72M146.6 165.2h0.72M147.6 162.4h0.72M150.4 151.3h0.72M141.4 160.6h0.72M139.4 170.7h0.72M143.4 166.1h0.72M149.1 158.3h0.72M135.5 172.6h0.72M144.2 153.9h0.72M143.2 158.8h0.72M145.3 172.5h0.72M136.8 171.6h0.72M136.0 169.4h0.72M143.0 164.8h0.72M135.0 162.3h0.72M131.7 160.0h0.72M131.5 170.1h0.72M139.2 150.8h0.72M142.5 167.5h0.72M136.1 176.2h0.72M143.6 166.0h0.72M141.1 148.2h0.72M141.4 170.7h0.72M139.6 156.8h0.72M142.2 155.8h0.72M139.7 169.2h0.72M146.4 167.7h0.72M140.5 169.3h0.72M146.6 164.4h0.72M136.3 159.6h0.72M136.3 159.1h0.72M139.6 166.8h0.72M141.1 165.5h0.72M138.6 167.0h0.72M143.3 169.9h0.72M147.0 164.7h0.72M137.6 174.1h0.72M140.9 167.4h0.72M138.0 170.0h0.72M140.0 159.1h0.72M140.7 162.5h0.72M144.4 163.6h0.72M141.2 163.9h0.72M142.6 161.8h0.72M146.6 158.1h0.72M139.7 160.8h0.72M143.1 165.8h0.72M142.9 163.6h0.72M138.8 158.3h0.72M139.7 161.8h0.72M141.3 167.2h0.72M144.6 165.2h0.72M138.6 158.6h0.72M140.4 167.0h0.72M148.3 167.6h0.72M145.7 176.7h0.72M134.8 170.8h0.72M143.7 173.3h0.72M139.4 170.2h0.72M138.6 164.2h0.72M138.6 174.8h0.72M138.6 170.1h0.72M141.6 161.2h0.72M140.8 168.8h0.72M136.9 167.9h0.72M138.5 159.6h0.72M141.7 163.9h0.72M138.3 155.2h0.72M140.3 166.4h0.72M138.4 165.6h0.72M133.8 165.9h0.72M141.9 166.9h0.72M137.9 164.9h0.72M139.8 171.0h0.72M141.4 166.6h0.72M136.6 169.1h0.72M145.9 163.3h0.72M142.8 167.2h0.72M141.7 157.9h0.72M149.8 156.2h0.72M142.2 163.2h0.72M145.7 163.6h0.72" stroke="#333" stroke-width="0.72" stroke-opacity="1.0" fill="none"/>
<path d="M142.3 167.9h0.60M145.6 158.8h0.60M147.4 166.1h0.60M149.9 158.9h0.60M141.6 159.9h0.60M135.3 165.0h0.60M145.3 174.3h0.60M139.4 166.1h0.60M151.1 162.1h0.60M142.5 164.1h0.60M136.5 155.1h0.60M150.9 164.4h0.60M141.4 153.1h0.60M142.9 172.4h0.60M132.8 155.9h0.60M150.8 174.4h0.60M154.4 158.6h0.60M146.8 157.0h0.60M146.1 160.1h0.60M143.6 173.7h0.60M144.7 161.1h0.60M142.4 165.1h0.60M137.9 164.6h0.60M146.8 175.4h0.60M125.6 153.5h0.60M132.2 170.0h0.60M161.4 164.5h0.60M143.0 172.1h0.60M122.6 161.6h0.60M117.2 164.2h0.60M138.0 159.1h0.60M144.7 158.4h0.60M150.8 163.0h0.60M138.4 170.4h0.60M135.4 172.9h0.60M149.7 164.1h0.60M149.9 175.8h0.60M152.9 163.0h0.60M141.6 171.8h0.60M130.3 158.2h0.60M145.8 167.5h0.60M156.8 177.0h0.60M144.6 166.5h0.60M131.5 161.5h0.60M144.1 161.2h0.60M142.5 167.8h0.60M134.5 158.5h0.60M127.9 172.1h0.60M133.6 149.5h0.60M148.1 161.3h0.60M149.7 160.1h0.60M158.8 168.7h0.60M143.2 163.9h0.60M140.4 169.4h0.60M157.8 159.7h0.60M133.4 167.7h0.60M150.4 151.2h0.60M136.5 155.1h0.60M146.4 167.0h0.60M136.2 154.1h0.60M147.4 146.8h0.60M147.1 161.8h0.60M157.2 170.9h0.60M137.4 160.8h0.60M139.8 157.3h0.60M142.6 170.6h0.60M130.1 161.2h0.60M153.8 168.9h0.60M135.6 156.6h0.60M135.3 150.3h0.60M151.1 163.5h0.60M136.5 151.7h0.60M139.0 159.0h0.60M155.6 159.4h0.60M142.9 171.4h0.60M147.3 161.6h0.60M124.8 174.0h0.60M146.7 159.6h0.60M141.3 155.5h0.60M134.9 151.3h0.60M145.9 167.1h0.60M143.4 169.1h0.60M146.2 164.0h0.60M135.1 167.6h0.60M151.3 168.0h0.60M151.8 159.3h0.60M134.3 172.8h0.60M137.4 164.9h0.60M140.5 163.2h0.60" stroke="#777" stroke-width="0.60" stroke-opacity="1.0" fill="none"/>
<path d="M153.1 157.4h0.72M146.2 167.3h0.72M155.8 151.6h0.72M151.6 154.5h0.72M153.4 148.3h0.72M153.7 167.6h0.72M152.0 163.1h0.72M156.4 154.9h0.72M158.7 153.3h0.72M152.0 158.1h0.72M157.2 161.3h0.72M153.7 156.4h0.72M153.6 160.2h0.72M154.4 166.6h0.72M155.7 160.5h0.72M151.5 167.0h0.72M154.0 160.1h0.72M157.5 168.0h0.72M155.2 159.9h0.72M150.5 164.3h0.72M151.1 164.0h0.72M150.9 160.0h0.72M154.5 160.9h0.72M153.8 161.8h0.72M150.9 154.4h0.72M151.3 167.9h0.72M153.8 155.8h0.72M151.3 159.7h0.72M157.5 158.2h0.72M155.0 161.2h0.72M153.2 155.6h0.72M153.6 156.7h0.72M156.6 152.6h0.72M156.2 164.0h0.72M153.8 167.0h0.72M156.8 152.8h0.72M153.2 162.0h0.72M152.3 154.6h0.72M154.3 162.5h0.72M152.3 158.7h0.72M152.4 157.2h0.72M152.3 164.7h0.72M148.8 157.5h0.72M158.1 162.4h0.72M153.1 163.8h0.72M151.4 154.1h0.72M149.6 152.6h0.72M153.4 163.9h0.72M152.7 156.8h0.72M154.1 162.9h0.72M155.9 151.8h0.72M154.0 148.5h0.72M154.9 156.4h0.72M150.1 166.2h0.72M157.0 162.9h0.72M154.1 160.9h0.72M151.7 159.4h0.72M160.0 157.3h0.72M151.2 160.3h0.72M155.4 164.2h0.72M150.6 158.8h0.72M153.7 154.4h0.72M154.1 157.9h0.72M155.8 162.5h0.72M150.9 159.9h0.72M152.9 157.0h0.72M151.0 164.4h0.72M153.7 152.2h0.72M150.3 163.1h0.72M160.9 156.7h0.72M152.6 158.3h0.72M148.8 160.9h0.72M153.0 161.2h0.72M160.5 160.2h0.72M155.1 164.1h0.72M152.0 157.0h0.72M157.5 164.1h0.72M154.8 155.3h0.72M155.6 162.9h0.72M158.8 167.8h0.72M155.6 161.7h0.72M154.1 157.6h0.72M154.1 161.3h0.72M154.4 165.2h0.72M154.8 157.8h0.72M154.5 167.3h0.72M150.5 161.3h0.72M154.6 162.7h0.72M155.0 159.9h0.72M151.6 167.3h0.72M159.9 154.9h0.72M145.3 160.4h0.72M151.8 157.3h0.72M148.2 160.6h0.72M153.7 157.6h0.72M154.0 171.2h0.72M156.9 166.1h0.72M151.6 162.6h0.72M152.3 165.0h0.72M155.2 160.2h0.72M155.7 157.2h0.72M154.5 167.1h0.72M151.8 162.2h0.72M147.5 163.1h0.72M157.0 156.1h0.72M158.6 161.6h0.72M149.3 152.9h0.72M156.3 159.3h0.72M158.1 153.9h0.72M152.2 164.2h0.72M150.7 162.6h0.72M152.0 161.3h0.72M152.4 170.0h0.72M148.9 162.6h0.72M158.4 155.9h0.72M151.6 170.2h0.72M159.2 147.7h0.72M154.2 152.4h0.72M155.0 157.0h0.72M152.4 156.0h0.72M154.7 158.1h0.72M150.8 158.4h0.72M155.4 156.5h0.72M158.3 153.4h0.72M155.0 158.5h0.72M158.8 158.2h0.72M152.6 153.7h0.72M158.9 163.9h0.72M150.4 157.9h0.72M149.1 166.1h0.72M156.5 151.3h0.72M153.2 164.1h0.72M153.0 162.1h0.72M152.9 160.8h0.72M154.7 157.0h0.72M154.3 160.9h0.72M153.9 157.0h0.72M150.1 160.5h0.72M158.1 149.9h0.72M150.6 165.6h0.72M156.8 157.4h0.72M158.4 156.5h0.72M149.3 168.0h0.72M152.3 158.8h0.72M149.3 154.6h0.72M149.9 158.7h0.72M146.9 163.5h0.72M152.9 157.1h0.72M150.8 162.9h0.72M158.4 159.2h0.72M156.9 168.1h0.72M157.2 162.1h0.72M148.3 162.0h0.72M152.0 160.6h0.72M147.9 157.6h0.72M154.9 156.0h0.72M152.8 167.5h0.72M154.7 157.1h0.72M162.6 152.0h0.72M150.2 161.2h0.72M153.6 149.6h0.72M153.5 163.8h0.72M149.7 165.9h0.72M153.9 165.5h0.72M148.7 159.0h0.72M156.5 169.8h0.72M157.4 160.8h0.72M154.5 157.4h0.72M157.4 157.6h0.72M155.6 151.0h0.72M147.2 166.9h0.72M153.4 161.0h0.72M146.7 158.5h0.72M161.1 154.7h0.72M146.3 157.8h0.72M152.0 158.7h0.72M150.8 153.3h0.72M149.0 162.1h0.72M152.5 163.6h0.72M149.6 161.9h0.72M152.0 160.1h0.72M156.2 160.7h0.72M153.8 152.5h0.72M152.9 163.5h0.72M151.5 159.3h0.72M149.2 153.0h0.72M153.5 166.0h0.72M153.9 152.4h0.72M153.6 152.9h0.72M150.8 168.3h0.72" stroke="#333" stroke-width="0.72" stroke-opacity="1.0" fill="none"/>
<path d="M156.8 161.8h0.60M161.1 160.0h0.60M157.0 164.6h0.60M157.6 151.5h0.60M159.2 169.9h0.60M141.6 141.7h0.60M149.7 174.7h0.60M155.1 168.3h0.60M158.3 170.0h0.60M151.2 158.4h0.60M157.2 167.8h0.60M158.4 165.7h0.60M152.1 171.7h0.60M157.8 171.4h0.60M140.0 170.9h0.60M140.6 164.7h0.60M151.1 163.9h0.60M152.2 160.6h0.60M156.1 165.7h0.60M150.3 143.1h0.60M150.4 167.3h0.60M150.0 166.4h0.60M152.8 155.6h0.60M161.9 176.1h0.60M154.4 162.6h0.60M160.7 152.5h0.60M149.8 171.9h0.60M160.3 159.1h0.60M150.4 165.8h0.60M146.7 159.1h0.60M153.6 143.5h0.60M158.5 169.0h0.60M161.3 151.6h0.60M147.4 156.6h0.60M147.3 179.3h0.60M149.2 160.5h0.60M156.2 166.6h0.60M163.6 154.4h0.60M160.2 164.2h0.60M148.0 164.2h0.60M146.7 175.9h0.60M150.7 171.0h0.60M162.7 158.1h0.60M149.7 164.0h0.60M148.8 170.1h0.60M156.0 156.9h0.60M150.9 168.8h0.60M146.4 176.4h0.60M150.3 161.4h0.60M149.5 175.9h0.60M159.9 173.3h0.60M158.9 163.7h0.60M165.1 168.3h0.60M157.6 167.6h0.60M159.4 165.2h0.60M154.0 150.3h0.60M167.3 152.6h0.60M142.1 157.3h0.60M166.6 172.7h0.60M151.4 165.1h0.60M154.9 147.2h0.60M153.0 165.3h0.60M162.0 153.4h0.60M141.5 150.4h0.60M157.0 163.6h0.60M155.9 164.2h0.60M152.8 152.1h0.60M157.7 166.1h0.60M158.5 173.0h0.60M147.6 144.3h0.60" stroke="#777" stroke-width="0.60" stroke-opacity="1.0" fill="none"/>
<path d="M146.9 147.0h0.72M153.5 142.6h0.72M155.2 145.5h0.72M167.2 147.4h0.72M157.9 140.6h0.72M156.5 145.3h0.72M151.2 145.7h0.72M159.2 146.7h0.72M157.3 142.0h0.72M150.8 142.1h0.72M155.5 139.4h0.72M162.0 141.7h0.72M153.5 145.0h0.72M163.8 144.2h0.72M161.6 142.9h0.72M156.9 145.4h0.72M151.4 144.4h0.72M161.9 146.6h0.72M160.5 139.5h0.72M161.9 146.7h0.72M151.6 143.2h0.72M154.5 137.8h0.72M147.8 143.7h0.72M164.7 145.0h0.72M156.5 139.7h0.72M154.1 143.8h0.72M163.5 142.3h0.72M162.5 137.6h0.72M161.5 145.6h0.72M151.4 147.0h0.72M153.5 147.5h0.72M156.1 150.8h0.72M154.6 141.7h0.72M158.5 143.0h0.72M163.0 143.4h0.72M156.6 149.6h0.72M153.8 135.9h0.72M155.8 139.4h0.72M158.5 143.1h0.72M158.3 141.6h0.72M155.6 144.5h0.72M160.9 141.7h0.72M158.5 140.1h0.72M159.9 137.7h0.72M158.1 147.2h0.72M158.3 140.4h0.72M157.3 139.8h0.72M148.8 145.7h0.72M169.1 145.1h0.72M152.4 142.8h0.72M162.4 138.7h0.72M150.3 141.2h0.72M148.0 144.1h0.72M155.4 142.3h0.72M158.3 141.1h0.72M157.3 141.7h0.72M160.7 145.1h0.72M158.2 141.1h0.72M157.0 139.2h0.72M152.7 149.4h0.72M159.6 146.0h0.72M159.3 149.7h0.72M158.0 142.8h0.72M153.3 141.8h0.72M159.9 136.9h0.72M148.8 147.2h0.72M156.4 145.1h0.72M158.7 141.8h0.72M155.7 147.6h0.72M154.9 144.2h0.72M161.0 143.3h0.72M159.2 140.8h0.72M159.6 142.9h0.72M162.0 142.6h0.72M162.5 145.2h0.72M156.8 138.3h0.72M160.9 141.3h0.72M159.0 150.9h0.72M161.8 139.1h0.72M158.7 140.4h0.72M150.9 141.0h0.72M164.4 145.4h0.72M156.2 149.0h0.72M155.1 140.0h0.72M156.6 145.2h0.72M153.3 141.6h0.72M154.4 146.1h0.72M153.9 138.0h0.72M156.3 140.9h0.72M160.5 142.2h0.72M166.4 145.8h0.72M156.9 148.1h0.72M160.2 144.1h0.72M155.3 140.5h0.72M158.6 144.7h0.72M157.3 146.1h0.72M156.7 138.1h0.72M162.2 144.1h0.72M148.1 146.4h0.72M156.9 138.2h0.72M162.4 140.9h0.72M152.1 145.0h0.72M148.8 150.1h0.72M150.9 152.5h0.72M157.2 143.4h0.72M155.7 141.0h0.72M155.7 142.0h0.72M162.2 140.1h0.72M159.4 134.0h0.72M161.4 145.6h0.72M157.1 142.8h0.72M159.1 146.0h0.72M159.8 144.1h0.72M156.8 142.6h0.72M149.2 143.2h0.72M154.9 136.5h0.72M158.8 144.5h0.72M155.2 150.5h0.72M158.9 151.4h0.72M151.5 149.7h0.72M154.7 141.0h0.72M160.3 144.2h0.72M157.5 141.5h0.72M166.7 137.1h0.72M158.1 149.1h0.72M155.5 144.8h0.72M151.7 145.0h0.72M167.8 145.7h0.72M161.1 145.5h0.72M157.2 140.7h0.72M159.4 138.3h0.72M149.2 146.2h0.72M155.6 144.9h0.72M156.7 145.2h0.72M155.0 136.8h0.72M156.4 147.7h0.72M155.2 138.8h0.72M152.5 143.2h0.72M157.9 143.8h0.72M154.4 142.9h0.72M158.9 140.5h0.72M159.5 141.3h0.72M158.2 147.0h0.72M153.7 143.7h0.72M158.9 140.7h0.72M158.4 135.5h0.72M153.0 142.0h0.72M161.9 143.1h0.72M156.6 144.5h0.72M158.1 146.0h0.72M158.6 148.0h0.72M153.9 142.9h0.72M150.9 137.9h0.72M155.7 145.0h0.72M154.2 145.3h0.72M162.7 142.6h0.72M154.9 142.9h0.72M158.0 144.4h0.72M162.1 140.5h0.72M156.4 148.5h0.72M159.1 146.6h0.72M155.4 143.9h0.72M160.6 137.4h0.72M155.4 141.7h0.72M157.8 138.8h0.72M157.2 141.3h0.72M157.3 143.0h0.72M155.1 146.8h0.72M156.4 144.7h0.72M160.6 130.4h0.72M154.3 144.6h0.72M157.5 140.2h0.72M151.4 143.7h0.72M154.9 142.8h0.72M158.9 147.0h0.72M163.6 146.8h0.72M158.0 147.2h0.72M155.0 141.9h0.72M157.8 138.4h0.72M159.7 140.9h0.72M163.5 143.7h0.72M155.3 142.3h0.72M155.4 142.2h0.72M158.7 136.9h0.72M153.3 133.9h0.72M160.2 147.5h0.72M158.5 141.7h0.72M155.9 143.8h0.72M155.0 137.6h0.72M151.5 145.7h0.72M151.3 145.0h0.72M149.2 151.6h0.72M156.7 143.0h0.72M158.7 148.6h0.72M162.2 141.1h0.72M156.2 151.0h0.72M157.9 141.1h0.72M151.5 144.4h0.72M157.8 143.6h0.72M149.7 146.2h0.72M159.5 144.6h0.72M163.4 142.5h0.72M161.8 141.2h0.72M161.6 144.8h0.72M161.4 143.9h0.72M155.4 147.7h0.72M154.2 141.6h0.72M152.6 144.3h0.72M156.2 140.5h0.72M153.7 146.6h0.72M154.1 140.9h0.72M157.4 140.5h0.72M155.2 140.9h0.72M161.2 138.0h0.72M160.5 139.3h0.72M151.6 150.9h0.72M154.4 140.9h0.72M154.0 145.9h0.72M159.9 135.9h0.72M152.1 140.5h0.72" stroke="#333" stroke-width="0.72" stroke-opacity="1.0" fill="none"/>
<path d="M140.6 150.7h0.66M137.1 149.5h0.66M134.7 151.4h0.66M139.2 145.5h0.66M140.3 152.7h0.66M135.7 143.8h0.66M134.9 144.0h0.66M139.3 148.6h0.66M138.8 148.1h0.66M144.8 146.6h0.66M133.9 140.6h0.66M140.6 145.5h0.66M138.4 148.7h0.66M141.6 142.8h0.66M135.2 147.7h0.66M138.9 150.9h0.66M137.2 141.3h0.66M144.8 142.6h0.66M135.1 148.7h0.66M134.7 155.0h0.66M140.6 149.1h0.66M137.5 154.2h0.66M141.9 145.3h0.66M145.1 142.4h0.66M136.9 148.4h0.66M140.1 144.6h0.66M146.6 151.9h0.66M135.3 148.6h0.66M136.6 146.2h0.66M143.9 147.9h0.66M139.0 147.8h0.66M134.2 151.2h0.66M136.1 151.4h0.66M137.4 146.1h0.66M146.2 148.1h0.66M136.6 145.9h0.66M142.2 153.1h0.66M142.3 146.3h0.66M134.5 145.5h0.66M139.0 148.2h0.66M136.6 151.3h0.66M135.2 145.4h0.66M141.7 148.9h0.66M137.7 150.4h0.66M133.2 152.4h0.66M149.3 153.4h0.66M140.0 153.4h0.66M139.7 151.5h0.66M138.6 148.1h0.66M141.9 142.3h0.66M138.6 152.7h0.66M126.4 148.7h0.66M143.6 148.5h0.66M140.4 151.7h0.66M141.0 141.8h0.66M135.3 146.6h0.66M140.1 146.2h0.66M139.0 152.5h0.66M126.3 151.0h0.66M143.7 149.3h0.66M139.6 147.7h0.66M141.1 148.2h0.66M136.2 149.8h0.66M135.8 147.4h0.66M137.9 144.0h0.66M142.2 147.3h0.66M134.3 147.3h0.66M133.3 151.8h0.66M141.8 153.5h0.66M137.0 149.6h0.66" stroke="#555" stroke-width="0.66" stroke-opacity="1.0" fill="none"/>
<ellipse cx="157.1" cy="142.8" rx="3.9" ry="2.5" transform="rotate(-40 157.1 142.8)" fill="#fff" stroke="#222" stroke-width="1.0"/>
<ellipse cx="157.1" cy="142.8" rx="2.1" ry="1.2" transform="rotate(-40 157.1 142.8)" fill="#e2e2e2" stroke="#555" stroke-width="0.5"/>
<line x1="147.0" y1="121.2" x2="147.0" y2="158" stroke="#000" stroke-width="1.5"/>
<line x1="149.1" y1="121.2" x2="149.1" y2="152.2" stroke="#000" stroke-width="1.5"/>
<line x1="113.0" y1="151.4" x2="147.6" y2="151.4" stroke="#000" stroke-width="1.7"/>
<line x1="113.0" y1="158.1" x2="147.6" y2="158.1" stroke="#000" stroke-width="1.6"/>
<line x1="146.8" y1="158" x2="146.8" y2="182.4" stroke="#000" stroke-width="1.6"/>
<line x1="148.4" y1="151.7" x2="175.4" y2="151.7" stroke="#000" stroke-width="1.8"/>
<rect x="113.0" y="121.2" width="62.400000000000006" height="61.2" fill="none" stroke="#000" stroke-width="1.8"/>
<text x="115.6" y="128.3" font-size="8.6" font-weight="bold" font-style="normal" text-anchor="start">10.3</text>
<text x="170.4" y="128.3" font-size="8.6" font-weight="bold" font-style="normal" text-anchor="end">30</text>
<text x="114.0" y="181.8" font-size="8.6" font-weight="bold" font-style="normal" text-anchor="start">36</text>
<text x="110.5" y="127" font-size="2.6" text-anchor="end" fill="#222" class="t">10<tspan font-size="1.8" dy="-1">3</tspan></text>
<text x="110.5" y="140" font-size="2.6" text-anchor="end" fill="#222" class="t">10<tspan font-size="1.8" dy="-1">4</tspan></text>
<text x="110.5" y="154" font-size="2.6" text-anchor="end" fill="#222" class="t">10<tspan font-size="1.8" dy="-1">2</tspan></text>
<text x="110.5" y="168" font-size="2.6" text-anchor="end" fill="#222" class="t">10<tspan font-size="1.8" dy="-1">5</tspan></text>
<text x="110.5" y="181" font-size="2.6" text-anchor="end" fill="#222" class="t">10<tspan font-size="1.8" dy="-1">1</tspan></text>
<text x="116" y="187.5" font-size="2.6" text-anchor="middle" fill="#222" class="t">10<tspan font-size="1.8" dy="-1">3</tspan></text>
<text x="128" y="187.5" font-size="2.6" text-anchor="middle" fill="#222" class="t">10<tspan font-size="1.8" dy="-1">2</tspan></text>
<text x="142" y="187.5" font-size="2.6" text-anchor="middle" fill="#222" class="t">10<tspan font-size="1.8" dy="-1">5</tspan></text>
<text x="157" y="187.5" font-size="2.6" text-anchor="middle" fill="#222" class="t">10<tspan font-size="1.8" dy="-1">5</tspan></text>
<text x="171" y="187.5" font-size="2.6" text-anchor="middle" fill="#222" class="t">10<tspan font-size="1.8" dy="-1">3</tspan></text>
<line x1="113" y1="192.9" x2="130" y2="192.9" stroke="#000" stroke-width="1.8"/>
<line x1="166.3" y1="192.9" x2="176" y2="192.9" stroke="#000" stroke-width="1.8"/>
<text x="148" y="196.2" font-size="8.9" font-weight="bold" font-style="italic" text-anchor="middle">Helios</text>
<circle cx="117.0" cy="217.2" r="3.4" fill="#999" stroke="#1a1a1a" stroke-width="1.9"/>
<text x="126.3" y="220.6" font-size="9.8" font-weight="bold" font-style="normal" text-anchor="start">Untreated</text>
<line x1="113.2" y1="228.8" x2="120.8" y2="228.8" stroke="#000" stroke-width="2.8"/>
<text x="126.3" y="230.9" font-size="9.8" font-weight="bold" font-style="normal" text-anchor="start">CpG ODN</text>
<line x1="189.4" y1="34" x2="189.4" y2="106.5" stroke="#000" stroke-width="2.2"/>
<text x="191.0" y="133.8" font-size="9.2" font-weight="bold" font-style="italic" text-anchor="middle" transform="rotate(-90 191.0 133.8)">Cell number</text>
<line x1="189.2" y1="165" x2="189.2" y2="240.4" stroke="#000" stroke-width="2.2"/>
<path d="M202.7 96.1 L208.8 86.2 L211.1 72.4 L212.6 58.6 L213.7 46.4 L214.6 41.5 L215.4 43.3 L216.1 46.7 L216.9 41.0 L217.7 37.2 L218.6 39.5 L219.5 44.8 L220.6 54.0 L221.8 63.2 L224.1 78.5 L227.9 89.2 L233.3 95.7 Z" fill="#bdbdbd" stroke="#333" stroke-width="0.9" stroke-linejoin="round"/>
<path d="M202.3 96.1 L206.5 92.3 L210.3 84.6 L213.4 73.9 L215.7 63.2 L217.2 54.0 L218.3 43.3 L219.2 37.2 L220.3 43.3 L221.0 52.5 L222.2 47.9 L223.3 58.6 L224.4 70.9 L225.3 78.5 L226.7 68.6 L227.9 80.0 L229.4 87.7 L230.5 81.6 L231.7 89.2 L234.0 90.8 L235.6 79.3 L236.6 89.2 L238.6 95.7" fill="none" stroke="#000" stroke-width="1.4" stroke-linejoin="round"/>
<line x1="199.4" y1="96.56878922393999" x2="263.0" y2="96.56878922393999" stroke="#000" stroke-width="0.9"/>
<rect x="199.4" y="33.8" width="63.599999999999994" height="63.400000000000006" fill="none" stroke="#000" stroke-width="1.8"/>
<text x="197.6" y="37.6" font-size="2.4" text-anchor="end" fill="#333" class="t">100</text>
<text x="197.6" y="49.1" font-size="2.4" text-anchor="end" fill="#333" class="t">80</text>
<text x="197.6" y="60.6" font-size="2.4" text-anchor="end" fill="#333" class="t">60</text>
<text x="197.6" y="72.0" font-size="2.4" text-anchor="end" fill="#333" class="t">40</text>
<text x="197.6" y="83.5" font-size="2.4" text-anchor="end" fill="#333" class="t">20</text>
<text x="197.6" y="95.0" font-size="2.4" text-anchor="end" fill="#333" class="t">0</text>
<text x="204" y="101.4" font-size="2.4" text-anchor="middle" fill="#222" class="t">10<tspan font-size="1.7" dy="-1">4</tspan></text>
<text x="216" y="101.4" font-size="2.4" text-anchor="middle" fill="#222" class="t">10<tspan font-size="1.7" dy="-1">3</tspan></text>
<text x="230" y="101.4" font-size="2.4" text-anchor="middle" fill="#222" class="t">10<tspan font-size="1.7" dy="-1">1</tspan></text>
<text x="244" y="101.4" font-size="2.4" text-anchor="middle" fill="#222" class="t">10<tspan font-size="1.7" dy="-1">4</tspan></text>
<text x="258" y="101.4" font-size="2.4" text-anchor="middle" fill="#222" class="t">10<tspan font-size="1.7" dy="-1">2</tspan></text>
<path d="M202.3 167.1 L207.2 160.2 L209.5 149.5 L211.5 134.2 L213.1 118.9 L214.6 108.2 L215.7 115.8 L216.9 126.6 L218.0 137.3 L220.3 149.5 L222.6 158.7 L225.6 164.8 L230.2 167.1 Z" fill="#bdbdbd" stroke="#333" stroke-width="0.9" stroke-linejoin="round"/>
<path d="M203.9 167.1 L210.3 163.3 L212.6 157.2 L214.6 146.5 L216.4 134.2 L217.7 122.0 L218.7 112.8 L219.5 108.2 L220.4 118.9 L221.3 128.1 L222.6 121.2 L223.8 131.1 L224.8 140.3 L226.1 151.0 L226.8 144.2 L227.9 155.6 L229.4 161.8 L231.7 166.4 L235.1 167.1" fill="none" stroke="#000" stroke-width="1.4" stroke-linejoin="round"/>
<line x1="199.4" y1="167.56878922394" x2="263.0" y2="167.56878922394" stroke="#000" stroke-width="0.9"/>
<rect x="199.4" y="105.0" width="63.599999999999994" height="62.599999999999994" fill="none" stroke="#000" stroke-width="1.8"/>
<text x="197.6" y="108.8" font-size="2.4" text-anchor="end" fill="#333" class="t">100</text>
<text x="197.6" y="120.1" font-size="2.4" text-anchor="end" fill="#333" class="t">80</text>
<text x="197.6" y="131.4" font-size="2.4" text-anchor="end" fill="#333" class="t">60</text>
<text x="197.6" y="142.8" font-size="2.4" text-anchor="end" fill="#333" class="t">40</text>
<text x="197.6" y="154.1" font-size="2.4" text-anchor="end" fill="#333" class="t">20</text>
<text x="197.6" y="165.4" font-size="2.4" text-anchor="end" fill="#333" class="t">0</text>
<text x="204" y="171.79999999999998" font-size="2.4" text-anchor="middle" fill="#222" class="t">10<tspan font-size="1.7" dy="-1">4</tspan></text>
<text x="216" y="171.79999999999998" font-size="2.4" text-anchor="middle" fill="#222" class="t">10<tspan font-size="1.7" dy="-1">3</tspan></text>
<text x="230" y="171.79999999999998" font-size="2.4" text-anchor="middle" fill="#222" class="t">10<tspan font-size="1.7" dy="-1">1</tspan></text>
<text x="244" y="171.79999999999998" font-size="2.4" text-anchor="middle" fill="#222" class="t">10<tspan font-size="1.7" dy="-1">4</tspan></text>
<text x="258" y="171.79999999999998" font-size="2.4" text-anchor="middle" fill="#222" class="t">10<tspan font-size="1.7" dy="-1">2</tspan></text>
<path d="M201.6 238.1 L205.7 232.8 L208.8 220.5 L211.1 203.7 L213.1 186.8 L214.6 179.2 L216.1 188.4 L217.7 203.7 L219.2 215.9 L221.0 226.6 L223.3 234.3 L226.4 237.4 L229.4 238.1 Z" fill="#bdbdbd" stroke="#333" stroke-width="0.9" stroke-linejoin="round"/>
<path d="M203.9 238.1 L209.5 235.1 L211.8 229.7 L214.1 219.0 L216.1 206.7 L217.7 193.0 L218.7 183.8 L219.5 179.2 L220.4 188.4 L221.3 197.6 L222.9 191.4 L223.8 202.1 L224.8 212.9 L226.1 223.6 L227.1 219.0 L228.1 228.2 L229.4 234.3 L230.7 232.8 L231.7 236.6 L235.6 238.1" fill="none" stroke="#000" stroke-width="1.4" stroke-linejoin="round"/>
<line x1="199.4" y1="238.56878922394" x2="263.0" y2="238.56878922394" stroke="#000" stroke-width="0.9"/>
<rect x="199.4" y="175.6" width="63.599999999999994" height="62.80000000000001" fill="none" stroke="#000" stroke-width="1.8"/>
<text x="197.6" y="179.4" font-size="2.4" text-anchor="end" fill="#333" class="t">100</text>
<text x="197.6" y="190.8" font-size="2.4" text-anchor="end" fill="#333" class="t">80</text>
<text x="197.6" y="202.1" font-size="2.4" text-anchor="end" fill="#333" class="t">60</text>
<text x="197.6" y="213.5" font-size="2.4" text-anchor="end" fill="#333" class="t">40</text>
<text x="197.6" y="224.8" font-size="2.4" text-anchor="end" fill="#333" class="t">20</text>
<text x="197.6" y="236.2" font-size="2.4" text-anchor="end" fill="#333" class="t">0</text>
<text x="204" y="242.6" font-size="2.4" text-anchor="middle" fill="#222" class="t">10<tspan font-size="1.7" dy="-1">4</tspan></text>
<text x="216" y="242.6" font-size="2.4" text-anchor="middle" fill="#222" class="t">10<tspan font-size="1.7" dy="-1">3</tspan></text>
<text x="230" y="242.6" font-size="2.4" text-anchor="middle" fill="#222" class="t">10<tspan font-size="1.7" dy="-1">1</tspan></text>
<text x="244" y="242.6" font-size="2.4" text-anchor="middle" fill="#222" class="t">10<tspan font-size="1.7" dy="-1">4</tspan></text>
<text x="258" y="242.6" font-size="2.4" text-anchor="middle" fill="#222" class="t">10<tspan font-size="1.7" dy="-1">2</tspan></text>
<text x="266.8" y="67.7" font-size="10.6" font-weight="bold">Foxp3<tspan dy="-2.2">+</tspan></text>
<text x="266.8" y="80.5" font-size="10.6" font-weight="bold">Helios<tspan dy="-2.2">+</tspan></text>
<text x="266.8" y="138.9" font-size="10.6" font-weight="bold">Foxp3<tspan dy="-2.2">+</tspan></text>
<text x="266.8" y="151.70000000000002" font-size="10.6" font-weight="bold">Helios<tspan dy="-2.2">-</tspan></text>
<text x="266.8" y="210.5" font-size="10.6" font-weight="bold">Foxp3<tspan dy="-2.2">-</tspan></text>
<text x="266.8" y="223.70000000000002" font-size="10.6" font-weight="bold">Helios<tspan dy="-2.2">-</tspan></text>
<line x1="200.2" y1="249" x2="216.2" y2="249" stroke="#000" stroke-width="1.8"/>
<line x1="245.4" y1="249" x2="263.1" y2="249" stroke="#000" stroke-width="1.8"/>
<text x="229.5" y="252.9" font-size="9.1" font-weight="bold" font-style="italic" text-anchor="middle">CFSE</text>
</g>
<g id="panelB">
<text x="339.6" y="12.4" font-size="17" font-weight="bold" font-style="normal" text-anchor="start">B</text>
<text x="344.8" y="83.2" font-size="10.7" font-weight="bold" font-style="normal" text-anchor="start">Untreated</text>
<text x="344.8" y="191.7" font-size="10.7" font-weight="bold" font-style="normal" text-anchor="start">CpG ODN</text>
<line x1="404.1" y1="35" x2="404.1" y2="117.1" stroke="#000" stroke-width="2.5"/>
<text x="406.6" y="132.8" font-size="10.5" font-weight="bold" font-style="italic" text-anchor="middle" transform="rotate(-90 406.6 132.8)">Foxp3</text>
<line x1="404.1" y1="148.9" x2="404.1" y2="232.6" stroke="#000" stroke-width="2.5"/>
<path d="M435.2 100.4h0.72M440.9 105.0h0.72M447.5 102.5h0.72M448.7 107.0h0.72M435.8 102.9h0.72M435.6 109.6h0.72M437.9 106.7h0.72M447.4 102.6h0.72M438.3 104.7h0.72M436.5 99.0h0.72M435.2 104.7h0.72M442.7 109.8h0.72M429.7 105.3h0.72M434.0 107.6h0.72M446.0 104.0h0.72M451.0 102.2h0.72M438.1 99.7h0.72M437.3 103.9h0.72M445.9 108.1h0.72M439.8 100.9h0.72M439.3 102.0h0.72M438.5 102.1h0.72M435.9 103.3h0.72M438.2 102.9h0.72M432.5 104.0h0.72M445.2 105.8h0.72M438.0 99.4h0.72M433.1 99.3h0.72M437.3 102.4h0.72M430.1 105.9h0.72M431.6 101.1h0.72M436.8 106.5h0.72M453.4 102.2h0.72M439.7 102.1h0.72M440.2 102.9h0.72M457.4 99.6h0.72M440.8 100.7h0.72M443.8 101.6h0.72M445.2 99.6h0.72M455.1 104.2h0.72M430.1 106.0h0.72M438.5 99.4h0.72M444.3 101.7h0.72M446.3 101.6h0.72M447.3 104.0h0.72M443.8 104.1h0.72M439.2 102.2h0.72M444.4 106.0h0.72M438.9 111.5h0.72M452.4 99.4h0.72M448.5 103.3h0.72M443.0 100.7h0.72M452.1 100.6h0.72M441.0 100.9h0.72M453.9 108.0h0.72M433.0 101.9h0.72M443.8 102.0h0.72M439.2 99.7h0.72M443.1 99.6h0.72M446.8 112.0h0.72M439.4 109.3h0.72M443.9 101.1h0.72M439.3 100.1h0.72M442.2 106.0h0.72M447.5 102.5h0.72M433.8 103.2h0.72M452.2 104.5h0.72M441.1 96.1h0.72M438.7 105.4h0.72M435.4 108.3h0.72M437.9 100.4h0.72M437.8 103.2h0.72M447.9 101.5h0.72M430.1 103.2h0.72M444.8 109.0h0.72M434.3 108.7h0.72M445.8 105.1h0.72M436.6 100.4h0.72M435.4 106.8h0.72M442.9 107.3h0.72M453.1 103.6h0.72M441.2 110.3h0.72M433.2 101.9h0.72M439.1 102.2h0.72M442.4 100.6h0.72M448.9 98.7h0.72M436.3 97.5h0.72M432.5 105.6h0.72M445.5 102.8h0.72M446.9 105.7h0.72M437.8 103.4h0.72M443.8 110.6h0.72M438.7 104.8h0.72M445.0 107.8h0.72M444.2 107.3h0.72M434.7 102.6h0.72M429.1 103.3h0.72M456.4 104.4h0.72M442.1 104.5h0.72M442.4 98.9h0.72M437.1 102.9h0.72M442.6 100.5h0.72M440.8 100.9h0.72M433.1 101.2h0.72M436.4 106.5h0.72M450.1 105.6h0.72M440.1 101.6h0.72M431.5 101.7h0.72M451.5 107.6h0.72M442.9 102.7h0.72M441.5 105.0h0.72M441.5 105.0h0.72M436.6 103.7h0.72M439.3 107.3h0.72M433.6 108.1h0.72M441.0 101.8h0.72M441.6 104.0h0.72M440.0 105.0h0.72M437.8 97.6h0.72M445.9 103.4h0.72M452.1 104.9h0.72M428.7 107.9h0.72M437.1 105.4h0.72M455.7 107.4h0.72M434.5 103.2h0.72M431.2 105.9h0.72M445.1 99.9h0.72M444.4 106.8h0.72M446.7 101.2h0.72M437.1 99.6h0.72M433.2 104.6h0.72M441.8 108.1h0.72M443.3 102.4h0.72M432.4 108.9h0.72M442.6 103.4h0.72M435.1 99.9h0.72M445.5 100.1h0.72M445.2 105.7h0.72M439.1 97.8h0.72M444.1 108.5h0.72M436.2 99.1h0.72M448.5 104.0h0.72M437.5 107.8h0.72M439.7 105.1h0.72M438.9 100.9h0.72M442.9 100.5h0.72M430.2 101.6h0.72M449.4 107.4h0.72M455.4 107.0h0.72M451.8 104.4h0.72M438.7 105.2h0.72M435.4 106.1h0.72M438.6 104.4h0.72M436.1 103.1h0.72M447.8 102.8h0.72M437.2 104.5h0.72M447.1 102.9h0.72M434.0 98.1h0.72M433.0 107.3h0.72M440.9 105.2h0.72M448.3 104.5h0.72M444.6 101.8h0.72M431.2 105.7h0.72M440.9 105.5h0.72M434.7 103.0h0.72M454.3 100.6h0.72M442.1 108.1h0.72M440.0 104.0h0.72M427.9 106.2h0.72M438.7 108.0h0.72M440.9 102.2h0.72M444.3 102.7h0.72M438.2 108.9h0.72M447.8 103.9h0.72M446.7 106.4h0.72M445.2 103.7h0.72M442.0 105.0h0.72M445.1 104.8h0.72M438.0 103.3h0.72M444.4 100.1h0.72M441.4 106.2h0.72M442.6 102.6h0.72M441.4 101.9h0.72M447.8 102.2h0.72M430.9 99.4h0.72M443.4 104.3h0.72M438.5 99.0h0.72M440.6 100.6h0.72M437.3 103.5h0.72M436.6 104.6h0.72M436.8 101.9h0.72M440.1 108.6h0.72M451.5 106.8h0.72M436.8 103.6h0.72M447.3 106.3h0.72M431.1 103.4h0.72M436.8 106.1h0.72M445.6 101.7h0.72M455.1 102.6h0.72M457.0 103.0h0.72M441.0 110.1h0.72M438.2 101.9h0.72M450.9 103.4h0.72M444.5 99.2h0.72M452.9 106.9h0.72M443.8 106.0h0.72M438.3 101.9h0.72M431.5 104.8h0.72M449.4 106.5h0.72M447.4 106.0h0.72M435.6 99.1h0.72M445.6 104.1h0.72M447.8 102.6h0.72M435.9 105.1h0.72M438.0 97.9h0.72M437.6 100.5h0.72M434.4 101.7h0.72M447.5 111.6h0.72M452.5 102.1h0.72M448.8 103.3h0.72M444.1 101.2h0.72M441.0 97.8h0.72M452.9 100.9h0.72M445.2 101.5h0.72M443.2 99.5h0.72M439.1 106.7h0.72M445.3 96.9h0.72M446.9 99.1h0.72M443.3 105.3h0.72M437.4 102.5h0.72M439.9 104.9h0.72M447.3 108.2h0.72M443.6 110.4h0.72M435.5 109.7h0.72M439.8 106.2h0.72M440.7 103.8h0.72M435.7 104.9h0.72M454.4 104.1h0.72M441.4 103.6h0.72M446.0 102.9h0.72M441.5 104.3h0.72M449.8 106.8h0.72M434.8 101.4h0.72M441.6 106.5h0.72M447.7 102.9h0.72M455.0 103.0h0.72M450.4 108.4h0.72M451.7 104.2h0.72M445.2 98.3h0.72M430.2 101.5h0.72M446.1 107.2h0.72M440.8 107.1h0.72M445.2 108.8h0.72M431.4 100.7h0.72M435.4 100.0h0.72M452.0 100.4h0.72M436.2 102.2h0.72M447.1 102.0h0.72M446.2 105.4h0.72M437.4 95.5h0.72M435.7 99.3h0.72M451.9 101.1h0.72M434.7 104.8h0.72M441.8 100.4h0.72M448.5 106.7h0.72M443.3 101.0h0.72M435.9 96.5h0.72M443.9 104.9h0.72M435.6 103.6h0.72M462.4 99.7h0.72M430.6 105.6h0.72M438.8 101.9h0.72M445.5 103.1h0.72M447.8 105.3h0.72M448.9 104.0h0.72M427.8 108.2h0.72M430.7 107.1h0.72M443.1 98.8h0.72M441.9 106.6h0.72M435.0 103.7h0.72M436.8 100.1h0.72M437.6 107.9h0.72M445.9 103.4h0.72M441.0 104.0h0.72M443.3 104.2h0.72M430.6 106.7h0.72M436.0 94.6h0.72M446.0 99.4h0.72M440.6 103.2h0.72M437.7 105.4h0.72M439.8 102.6h0.72M435.4 102.6h0.72M434.9 103.7h0.72M449.9 107.0h0.72M444.2 98.9h0.72M448.1 106.7h0.72M454.7 95.8h0.72M441.6 102.4h0.72M448.4 99.8h0.72M439.1 111.5h0.72M447.9 96.7h0.72M441.6 108.2h0.72M437.6 105.6h0.72M442.1 98.5h0.72M437.5 107.4h0.72M449.1 101.5h0.72M448.7 101.1h0.72M443.1 103.5h0.72M433.5 104.6h0.72M439.0 94.1h0.72M436.2 100.6h0.72M436.2 100.2h0.72M437.1 95.1h0.72M447.2 103.8h0.72M443.1 102.6h0.72M441.9 102.6h0.72M434.5 98.3h0.72M442.0 107.0h0.72M443.0 109.1h0.72M432.8 102.6h0.72M437.6 107.8h0.72M452.3 101.7h0.72M446.2 102.7h0.72M435.1 103.1h0.72M434.8 108.8h0.72M445.3 107.6h0.72M443.8 95.2h0.72M446.6 103.8h0.72M426.3 103.9h0.72M448.0 109.4h0.72M435.0 106.2h0.72M443.6 102.9h0.72M439.7 105.3h0.72M445.2 105.8h0.72M438.9 99.0h0.72M449.9 108.0h0.72M437.9 103.4h0.72M446.7 97.5h0.72M444.7 111.8h0.72M443.2 101.1h0.72M454.6 103.5h0.72M442.9 102.1h0.72M442.7 97.3h0.72M433.3 98.4h0.72M447.3 103.2h0.72M448.9 96.5h0.72M437.7 108.5h0.72M436.4 97.1h0.72M436.7 102.3h0.72M441.4 108.0h0.72M450.0 108.9h0.72M445.2 101.8h0.72M438.3 98.4h0.72M449.6 107.8h0.72M442.1 100.4h0.72M445.8 105.2h0.72M442.5 99.5h0.72M443.0 101.6h0.72M446.2 105.6h0.72M444.3 102.0h0.72M451.2 106.2h0.72M449.6 106.4h0.72M445.7 104.9h0.72M434.7 97.2h0.72M435.5 105.6h0.72M447.3 104.1h0.72M442.1 109.8h0.72M439.0 97.4h0.72M431.6 102.4h0.72M446.0 106.0h0.72M440.1 106.3h0.72M441.2 101.0h0.72M439.1 106.1h0.72M447.6 99.6h0.72M435.2 103.9h0.72M455.1 99.5h0.72M433.5 104.9h0.72M444.7 101.4h0.72M441.3 105.2h0.72M430.4 103.4h0.72M445.3 106.7h0.72M448.9 103.3h0.72M432.3 108.1h0.72M446.4 101.3h0.72M448.1 107.1h0.72M440.6 95.4h0.72M438.5 100.9h0.72M436.2 103.2h0.72M434.6 104.8h0.72M453.5 99.4h0.72M448.1 101.7h0.72M445.0 103.1h0.72M449.7 101.1h0.72M446.2 100.8h0.72M443.0 103.5h0.72M448.4 98.1h0.72M432.9 108.3h0.72M444.0 109.4h0.72M434.9 104.2h0.72M445.3 109.6h0.72M441.2 102.0h0.72M446.1 103.1h0.72M436.7 106.1h0.72M429.4 100.0h0.72M450.2 101.8h0.72M439.4 104.8h0.72M448.6 105.3h0.72M435.4 101.5h0.72M448.2 103.1h0.72M437.5 106.5h0.72M448.8 111.0h0.72M434.7 101.1h0.72M437.1 104.7h0.72M438.5 107.3h0.72M424.4 106.8h0.72M437.4 102.6h0.72M445.1 104.2h0.72M435.1 108.7h0.72M445.2 101.8h0.72M442.8 99.7h0.72M433.7 102.5h0.72M443.8 103.9h0.72M436.6 98.7h0.72M430.9 109.0h0.72M443.8 100.7h0.72M449.0 105.4h0.72M438.9 101.4h0.72M448.7 104.6h0.72M451.9 104.8h0.72M437.8 101.4h0.72M437.0 104.4h0.72M443.1 105.6h0.72M444.4 99.9h0.72M440.2 100.3h0.72M444.6 99.0h0.72M437.8 100.5h0.72M437.6 102.6h0.72M451.1 102.6h0.72M432.4 102.5h0.72M446.2 105.4h0.72M443.0 110.4h0.72M448.5 103.8h0.72M449.2 98.9h0.72M440.4 100.5h0.72M442.6 109.1h0.72M438.4 109.0h0.72M435.0 108.4h0.72M430.8 100.6h0.72M447.8 103.2h0.72M442.4 103.5h0.72M442.6 102.9h0.72M435.3 102.5h0.72M442.2 100.4h0.72M444.5 109.6h0.72M431.1 101.6h0.72M439.7 103.6h0.72M442.1 101.0h0.72M441.3 103.5h0.72M441.0 108.8h0.72M442.3 98.4h0.72M431.6 105.5h0.72M439.3 101.4h0.72M432.9 102.4h0.72M440.9 101.1h0.72M439.3 106.6h0.72M446.5 105.4h0.72M440.4 98.8h0.72M446.4 108.7h0.72M449.6 107.5h0.72M443.3 104.8h0.72M441.4 107.8h0.72M439.8 110.9h0.72M446.4 102.4h0.72M441.5 97.9h0.72M436.9 102.5h0.72M457.0 100.7h0.72M447.3 103.8h0.72M439.6 105.7h0.72M428.9 106.8h0.72M453.7 104.5h0.72M441.1 104.1h0.72M445.7 101.8h0.72M442.3 105.2h0.72M439.3 104.8h0.72M443.6 106.0h0.72M435.3 101.7h0.72M438.8 107.6h0.72M443.1 97.8h0.72M433.4 110.2h0.72M443.6 99.0h0.72M435.8 104.0h0.72M450.5 109.1h0.72M439.2 102.5h0.72M453.6 100.1h0.72M451.4 104.7h0.72M442.1 107.9h0.72M444.5 100.6h0.72M431.9 103.6h0.72M444.7 108.2h0.72M425.0 108.1h0.72M445.4 108.7h0.72M446.5 104.2h0.72M444.2 104.9h0.72M437.5 103.1h0.72M442.3 101.9h0.72M432.3 98.5h0.72M444.7 105.3h0.72M442.2 99.5h0.72M446.9 102.1h0.72M428.4 108.9h0.72M432.1 111.3h0.72M444.9 102.0h0.72M426.7 101.1h0.72M450.9 108.2h0.72M443.1 97.6h0.72M439.1 102.5h0.72M444.4 103.1h0.72M443.7 97.9h0.72M437.4 108.5h0.72M432.3 106.7h0.72M456.1 105.8h0.72M432.7 107.8h0.72M429.8 104.7h0.72M438.9 107.8h0.72M448.9 104.2h0.72M452.8 106.9h0.72M438.5 100.1h0.72M457.0 102.1h0.72M444.1 103.1h0.72M438.5 97.9h0.72M440.6 103.1h0.72M447.7 101.7h0.72M431.6 99.8h0.72M441.3 104.4h0.72M446.1 102.2h0.72M444.9 104.0h0.72M452.2 103.3h0.72M442.4 105.5h0.72M449.2 100.3h0.72M438.5 102.5h0.72M428.0 108.0h0.72M448.3 103.6h0.72M462.8 107.9h0.72M454.3 108.9h0.72M447.2 98.6h0.72M451.2 105.0h0.72M434.0 103.7h0.72M446.3 106.9h0.72M442.6 101.7h0.72M446.3 100.9h0.72M441.0 106.1h0.72M432.4 104.8h0.72M429.1 100.3h0.72M433.7 103.2h0.72M446.0 103.3h0.72M447.3 103.8h0.72M440.2 105.2h0.72M440.0 104.0h0.72M448.1 101.5h0.72M448.8 99.7h0.72M440.1 97.5h0.72M438.2 109.0h0.72M443.8 107.9h0.72M432.2 100.0h0.72M444.4 106.4h0.72M446.8 97.7h0.72M444.7 103.3h0.72M442.3 105.2h0.72M439.7 97.6h0.72M434.7 98.5h0.72M433.2 103.0h0.72M449.8 101.0h0.72M436.7 99.5h0.72M430.6 103.7h0.72M438.4 102.7h0.72M435.4 105.2h0.72M433.9 105.4h0.72M437.3 106.2h0.72M435.9 105.0h0.72M444.3 103.2h0.72M451.8 104.1h0.72M435.9 105.9h0.72M436.3 101.6h0.72M441.6 104.1h0.72M452.3 97.4h0.72M439.9 107.4h0.72M440.5 104.6h0.72M451.2 99.2h0.72M441.8 106.3h0.72M437.8 97.4h0.72M435.2 104.2h0.72M442.7 109.9h0.72M449.9 98.1h0.72M448.1 106.7h0.72M451.8 103.0h0.72M438.0 104.0h0.72M451.3 105.7h0.72M452.2 106.2h0.72M437.8 100.0h0.72M453.2 98.2h0.72M439.3 102.4h0.72M435.7 101.5h0.72M441.5 111.8h0.72M441.1 101.7h0.72M442.3 106.8h0.72M436.3 102.1h0.72M430.4 105.9h0.72M445.8 108.7h0.72M433.9 111.1h0.72M447.0 102.5h0.72M439.0 102.4h0.72M433.8 106.2h0.72M437.7 101.0h0.72M444.8 103.9h0.72M437.8 102.7h0.72M438.4 108.2h0.72M447.8 101.0h0.72M441.2 108.3h0.72M439.7 109.7h0.72M444.3 105.8h0.72M428.3 106.5h0.72M443.7 105.5h0.72M444.6 105.3h0.72M438.3 106.6h0.72M441.9 99.8h0.72M435.0 104.1h0.72M443.6 95.8h0.72M428.4 107.2h0.72M441.4 113.4h0.72M431.8 102.6h0.72M437.7 105.4h0.72M450.4 109.1h0.72M435.1 107.8h0.72M433.8 104.6h0.72M442.6 105.7h0.72M436.4 108.2h0.72M441.1 103.4h0.72M439.8 99.8h0.72M446.1 104.7h0.72M444.4 110.0h0.72M436.0 102.5h0.72M441.5 106.5h0.72M440.4 106.8h0.72M444.4 97.4h0.72M437.2 96.4h0.72M439.7 102.0h0.72M445.2 104.1h0.72M441.1 107.9h0.72M445.3 99.2h0.72M437.1 104.6h0.72M452.3 102.8h0.72M440.4 104.4h0.72M446.5 103.2h0.72M443.4 102.0h0.72M438.0 100.7h0.72M445.7 101.6h0.72M445.0 104.9h0.72M447.7 94.1h0.72M435.4 99.2h0.72M440.5 106.3h0.72M457.6 108.9h0.72M450.1 104.8h0.72M439.0 105.4h0.72M427.7 106.8h0.72M441.6 105.7h0.72M435.0 99.7h0.72M437.4 103.3h0.72M443.7 102.3h0.72M443.7 105.9h0.72M434.1 103.1h0.72M431.6 101.6h0.72M447.2 101.0h0.72M453.3 105.3h0.72M447.1 103.9h0.72M447.0 107.3h0.72M442.2 101.6h0.72M438.0 110.3h0.72M440.3 101.9h0.72M437.0 97.6h0.72M438.3 104.6h0.72M438.4 100.8h0.72M444.1 105.1h0.72M438.7 104.6h0.72M435.3 106.5h0.72M435.2 102.3h0.72M442.4 102.0h0.72M434.2 110.8h0.72M451.1 97.4h0.72M442.3 99.1h0.72M443.5 98.9h0.72M445.2 105.4h0.72M452.4 107.7h0.72M438.6 106.8h0.72M438.6 103.1h0.72M438.3 97.3h0.72M445.3 96.4h0.72M440.0 105.3h0.72M442.2 98.0h0.72M437.4 105.9h0.72M448.5 109.1h0.72M430.0 105.1h0.72M438.4 106.2h0.72M430.8 103.0h0.72M446.0 101.2h0.72M439.2 100.1h0.72M448.6 98.8h0.72M435.7 102.3h0.72M439.5 110.9h0.72M443.2 100.6h0.72M445.2 104.7h0.72M443.3 103.3h0.72M444.4 99.4h0.72M433.9 102.0h0.72M434.5 106.0h0.72M453.8 107.8h0.72M444.3 104.7h0.72M437.1 98.9h0.72M445.0 98.3h0.72M443.4 103.0h0.72M446.3 103.7h0.72M442.2 101.5h0.72M430.6 102.3h0.72M445.9 107.2h0.72M450.3 100.0h0.72M435.6 106.0h0.72M438.6 112.5h0.72M443.5 98.2h0.72M438.0 109.0h0.72M429.9 104.0h0.72M432.7 109.1h0.72M438.7 99.9h0.72M430.7 101.0h0.72M425.3 101.8h0.72M455.4 103.8h0.72M439.8 99.4h0.72M443.7 101.8h0.72M436.1 108.4h0.72M444.3 100.4h0.72M450.9 103.3h0.72M444.7 104.0h0.72M449.0 105.7h0.72M439.3 106.0h0.72M439.0 104.0h0.72M451.9 99.8h0.72M434.9 102.1h0.72M438.3 108.1h0.72M431.4 111.5h0.72M451.6 101.9h0.72M442.7 102.2h0.72M445.8 105.8h0.72M446.3 106.2h0.72M453.8 102.9h0.72M445.9 102.8h0.72M441.7 104.3h0.72M441.2 104.7h0.72M436.1 103.0h0.72M437.7 99.4h0.72M437.0 101.8h0.72M440.6 98.0h0.72M439.9 99.5h0.72M436.3 104.2h0.72M448.6 104.5h0.72M438.4 102.0h0.72M450.0 97.8h0.72M448.7 98.2h0.72M437.5 103.7h0.72M440.1 109.3h0.72M444.6 103.3h0.72M447.6 103.6h0.72M436.4 107.4h0.72M451.0 108.0h0.72M434.0 110.2h0.72M438.8 106.2h0.72M449.1 111.9h0.72M431.2 99.9h0.72M449.0 105.2h0.72M439.5 93.2h0.72M444.3 102.8h0.72M424.9 112.9h0.72M425.6 101.5h0.72M441.5 104.3h0.72M446.3 102.6h0.72M435.8 102.2h0.72M428.1 99.6h0.72M454.1 101.1h0.72M441.0 110.2h0.72M448.2 103.9h0.72M446.2 102.6h0.72M435.7 107.0h0.72M442.4 109.1h0.72M439.8 102.2h0.72M443.7 102.8h0.72M439.5 100.4h0.72M443.1 104.6h0.72M453.2 103.4h0.72M430.3 105.1h0.72M456.1 101.9h0.72M436.4 102.9h0.72M423.3 102.3h0.72M440.3 98.2h0.72M445.2 100.4h0.72M429.7 101.0h0.72M445.5 110.3h0.72M449.5 104.2h0.72M438.2 102.6h0.72M447.7 101.7h0.72M444.2 106.9h0.72M435.7 101.4h0.72M444.4 103.5h0.72M440.7 101.6h0.72M441.1 110.0h0.72M450.2 97.8h0.72M441.8 103.8h0.72M441.7 98.6h0.72M440.7 104.0h0.72M437.2 104.6h0.72M426.0 98.2h0.72M442.1 104.9h0.72M440.4 101.9h0.72M442.7 107.3h0.72M447.2 103.2h0.72M438.5 107.2h0.72M445.0 106.6h0.72M439.7 100.5h0.72M442.7 101.3h0.72M448.8 106.5h0.72M427.6 105.8h0.72M450.0 107.2h0.72M438.5 100.5h0.72M447.7 107.1h0.72M441.9 99.4h0.72M431.8 104.4h0.72M436.2 101.1h0.72M444.3 107.2h0.72M428.3 101.1h0.72M449.8 103.4h0.72M439.3 105.8h0.72M434.2 99.2h0.72M441.6 109.0h0.72M448.0 103.5h0.72M448.0 102.1h0.72M434.0 97.6h0.72M443.2 106.7h0.72M443.9 103.4h0.72M438.9 107.3h0.72M441.2 98.4h0.72M450.2 101.2h0.72M444.0 103.5h0.72M448.2 104.4h0.72M449.3 104.2h0.72M438.6 101.7h0.72M445.7 100.6h0.72M447.4 102.7h0.72M435.6 100.4h0.72M440.6 109.7h0.72M446.4 103.6h0.72M435.7 110.2h0.72M439.7 103.5h0.72M438.8 108.2h0.72M442.6 101.9h0.72M442.7 100.0h0.72M434.8 102.9h0.72M423.1 107.6h0.72M454.2 99.6h0.72M440.6 97.9h0.72M442.6 104.2h0.72M446.2 98.8h0.72M437.7 101.2h0.72M439.9 111.6h0.72M440.2 103.4h0.72M438.3 106.3h0.72M457.9 107.6h0.72M451.3 99.7h0.72M448.3 103.6h0.72M449.5 107.2h0.72M445.7 97.6h0.72M442.4 101.7h0.72M444.4 103.6h0.72M448.2 97.8h0.72M436.8 103.2h0.72M443.5 102.1h0.72M441.3 103.7h0.72M448.2 103.1h0.72M443.0 97.1h0.72M424.8 98.3h0.72M443.8 95.4h0.72M444.1 103.2h0.72M441.5 100.9h0.72M438.8 106.4h0.72M443.8 103.4h0.72M438.4 104.2h0.72M449.1 103.4h0.72M439.2 99.3h0.72M442.1 100.3h0.72M432.3 106.6h0.72M437.5 96.3h0.72M436.9 110.0h0.72M440.8 98.8h0.72M434.5 106.0h0.72M444.1 104.3h0.72" stroke="#000" stroke-width="0.72" stroke-opacity="1.0" fill="none"/>
<path d="M441.9 104.9h0.60M460.7 104.9h0.60M442.2 93.8h0.60M448.8 111.2h0.60M451.0 94.6h0.60M446.0 109.7h0.60M437.1 104.9h0.60M457.1 111.6h0.60M426.8 91.7h0.60M448.1 106.1h0.60M440.2 101.9h0.60M439.6 109.1h0.60M420.0 103.5h0.60M430.1 98.0h0.60M427.4 96.6h0.60M443.7 102.2h0.60M463.4 100.7h0.60M447.7 104.1h0.60M446.8 110.7h0.60M445.5 102.9h0.60M442.8 102.0h0.60M443.4 107.9h0.60M444.2 102.4h0.60M443.5 106.5h0.60M438.9 107.5h0.60M437.8 106.1h0.60M464.8 103.4h0.60M443.1 95.0h0.60M452.0 102.1h0.60M453.9 98.1h0.60M449.6 112.7h0.60M448.4 100.1h0.60M429.9 101.9h0.60M451.1 105.5h0.60M431.9 95.9h0.60M433.4 96.0h0.60M441.0 103.6h0.60M464.9 103.2h0.60M459.8 92.2h0.60M460.7 106.7h0.60M448.8 106.9h0.60M450.7 113.3h0.60M452.7 91.7h0.60M425.0 111.5h0.60M443.1 109.8h0.60M440.3 98.1h0.60M440.3 103.9h0.60M446.0 98.3h0.60M449.8 105.7h0.60M434.0 95.4h0.60M422.7 100.2h0.60M444.1 97.9h0.60M437.5 101.2h0.60M444.3 105.4h0.60M453.0 104.6h0.60M456.2 96.3h0.60M450.6 104.2h0.60M432.7 98.0h0.60M448.8 102.4h0.60M430.3 98.7h0.60M460.6 107.0h0.60M444.9 110.0h0.60M434.1 101.0h0.60M454.4 100.0h0.60M431.9 105.5h0.60M461.4 87.0h0.60M445.7 94.6h0.60M440.8 93.6h0.60M472.3 98.0h0.60M444.5 97.8h0.60M433.2 99.3h0.60M446.3 112.4h0.60M447.1 111.3h0.60M432.4 102.4h0.60M439.2 92.7h0.60M484.5 100.6h0.60M446.7 97.5h0.60M437.7 95.9h0.60M455.1 99.6h0.60M442.4 103.1h0.60M430.7 103.4h0.60M442.1 104.6h0.60M439.8 102.2h0.60M449.6 107.7h0.60M436.5 107.8h0.60M433.3 100.9h0.60M445.4 102.9h0.60M442.0 107.5h0.60M436.3 111.0h0.60M424.4 102.5h0.60M449.9 102.1h0.60M446.9 107.5h0.60M435.2 105.5h0.60M455.6 100.6h0.60M434.7 95.7h0.60M448.7 97.2h0.60M471.0 105.4h0.60M429.8 100.3h0.60M460.6 106.0h0.60M432.9 108.1h0.60M438.8 115.1h0.60M438.0 105.5h0.60M450.1 99.4h0.60M442.3 108.9h0.60M449.4 101.6h0.60M448.8 112.4h0.60M454.1 104.8h0.60M447.6 92.7h0.60M445.5 99.1h0.60M452.0 98.4h0.60M448.9 95.8h0.60M453.7 97.7h0.60M443.7 105.4h0.60M440.5 102.0h0.60M455.5 112.5h0.60M424.4 96.6h0.60M451.3 107.6h0.60M438.8 102.6h0.60M441.9 115.5h0.60M441.8 94.9h0.60M427.1 94.4h0.60M458.2 99.7h0.60M465.2 105.8h0.60M448.2 105.8h0.60M452.6 107.5h0.60M433.4 98.7h0.60M438.0 102.6h0.60M441.3 94.7h0.60M436.5 112.6h0.60M467.1 96.9h0.60M448.1 101.8h0.60M434.8 106.2h0.60M443.2 111.9h0.60M449.0 100.2h0.60M453.2 97.8h0.60M453.6 106.0h0.60M424.8 100.8h0.60M447.5 106.5h0.60M445.7 101.9h0.60M440.2 100.3h0.60M444.0 95.7h0.60M451.0 100.1h0.60M449.7 99.0h0.60M448.5 102.8h0.60M453.7 104.7h0.60M454.1 101.0h0.60M443.4 100.5h0.60M430.4 101.3h0.60M455.8 106.6h0.60M434.8 103.8h0.60M452.2 93.9h0.60M447.8 104.0h0.60M452.1 103.5h0.60M425.1 90.1h0.60M465.6 99.7h0.60M457.8 109.5h0.60M445.0 95.2h0.60M458.9 101.8h0.60M449.6 104.8h0.60M454.4 108.0h0.60M428.6 93.7h0.60M445.5 102.1h0.60M452.5 101.2h0.60M442.0 114.0h0.60M458.9 108.9h0.60M455.3 97.3h0.60M443.1 101.6h0.60M432.1 96.9h0.60M445.7 94.8h0.60M449.9 104.8h0.60M441.4 100.0h0.60M450.5 104.8h0.60M448.0 94.8h0.60M426.4 114.1h0.60M436.9 99.8h0.60M424.2 97.3h0.60M436.0 106.7h0.60M439.5 99.1h0.60M435.6 99.4h0.60M426.9 103.6h0.60M457.0 102.9h0.60M438.2 109.5h0.60M449.3 95.9h0.60M437.8 98.4h0.60M443.5 109.2h0.60M436.3 101.1h0.60M445.2 95.0h0.60M438.8 105.6h0.60M456.3 90.9h0.60M451.7 100.3h0.60M458.0 105.7h0.60M465.4 103.8h0.60M439.7 97.1h0.60M428.4 105.3h0.60M449.6 106.8h0.60M447.8 93.2h0.60M439.6 100.6h0.60M445.7 106.5h0.60M459.4 103.7h0.60M421.6 96.0h0.60M420.8 97.5h0.60M431.0 103.4h0.60M441.6 108.6h0.60M455.7 99.3h0.60M454.3 102.1h0.60M449.0 109.9h0.60M431.5 101.6h0.60M460.7 97.5h0.60M446.3 102.8h0.60M439.5 94.3h0.60M436.5 96.2h0.60M455.8 103.5h0.60M451.6 95.0h0.60M449.5 102.8h0.60M455.4 97.8h0.60M452.8 110.1h0.60M463.6 96.5h0.60M431.8 93.4h0.60M454.5 105.5h0.60M447.7 96.9h0.60M457.6 111.4h0.60M443.6 101.3h0.60M456.9 105.0h0.60M458.6 99.6h0.60M447.7 100.0h0.60M437.8 100.3h0.60M440.9 105.0h0.60M440.7 102.4h0.60M435.2 94.8h0.60M459.5 96.2h0.60M463.7 107.5h0.60M419.1 98.2h0.60M439.5 102.1h0.60M442.1 98.5h0.60M457.6 101.3h0.60M454.5 98.0h0.60M436.5 109.8h0.60M440.9 95.5h0.60M442.2 108.2h0.60M442.3 97.8h0.60M450.9 107.8h0.60M441.8 100.1h0.60M440.0 117.9h0.60M442.0 112.3h0.60M442.4 104.4h0.60M421.9 103.0h0.60M444.6 100.1h0.60M439.6 94.0h0.60M427.8 103.0h0.60M437.1 101.5h0.60M442.1 99.0h0.60M436.1 112.9h0.60M432.0 99.0h0.60M440.8 95.2h0.60M433.6 107.1h0.60M454.1 102.8h0.60M479.2 106.9h0.60M457.4 97.2h0.60M455.8 111.9h0.60M439.9 112.6h0.60M435.3 95.4h0.60M443.5 97.3h0.60M450.9 95.5h0.60M444.9 90.5h0.60M443.7 108.2h0.60M441.2 103.8h0.60M455.9 95.6h0.60M430.2 102.5h0.60M447.0 100.4h0.60M433.5 109.1h0.60M431.4 100.5h0.60M443.6 106.3h0.60M439.2 97.2h0.60M465.9 97.1h0.60M452.7 101.1h0.60M438.9 101.7h0.60M441.3 103.8h0.60M444.8 96.3h0.60M439.8 115.7h0.60M464.1 105.8h0.60M446.6 100.2h0.60M459.1 99.4h0.60M435.1 106.1h0.60M433.5 97.4h0.60M459.8 92.6h0.60M443.3 102.7h0.60M446.8 93.5h0.60M441.6 100.0h0.60M464.9 107.9h0.60M435.8 107.1h0.60M451.1 101.3h0.60M441.4 100.4h0.60M427.3 98.3h0.60M454.2 110.5h0.60M464.2 99.8h0.60M450.7 87.9h0.60M441.1 94.6h0.60M453.0 92.3h0.60M432.7 95.5h0.60M448.3 106.9h0.60M434.1 112.6h0.60M445.8 97.1h0.60M447.8 101.9h0.60M453.1 104.0h0.60M467.8 108.9h0.60M437.1 106.6h0.60M452.3 96.1h0.60M435.9 97.3h0.60M441.7 109.2h0.60M438.0 102.4h0.60M451.9 107.7h0.60M447.5 95.9h0.60M468.0 107.1h0.60M458.8 111.5h0.60M459.3 104.4h0.60M449.2 105.7h0.60M427.7 106.8h0.60M433.5 104.5h0.60M433.1 106.2h0.60M438.8 116.6h0.60M446.1 105.0h0.60M434.2 100.3h0.60M443.4 100.3h0.60M439.3 96.9h0.60M452.3 99.8h0.60M435.2 104.1h0.60M435.3 101.0h0.60M438.5 96.6h0.60M441.6 97.2h0.60M430.5 104.1h0.60M440.9 93.4h0.60M439.8 103.1h0.60M448.7 104.2h0.60M446.8 105.5h0.60M438.7 97.3h0.60M450.7 99.6h0.60M444.2 105.8h0.60M454.3 109.2h0.60M436.6 99.8h0.60M450.1 93.6h0.60M430.4 105.6h0.60M437.4 96.6h0.60M452.8 105.1h0.60M454.0 100.1h0.60M441.0 100.0h0.60M447.3 90.1h0.60M436.6 106.1h0.60M435.6 101.6h0.60M445.4 105.0h0.60M438.9 95.4h0.60M471.1 97.8h0.60M462.6 91.7h0.60M445.3 100.9h0.60M464.6 113.9h0.60M454.7 96.1h0.60M435.4 97.6h0.60M438.5 103.5h0.60M435.6 100.6h0.60M460.0 110.4h0.60M423.9 96.5h0.60M440.1 109.6h0.60M440.5 113.1h0.60M448.0 110.4h0.60M434.8 100.2h0.60M455.1 105.3h0.60M423.9 100.4h0.60M446.0 105.7h0.60M437.2 112.2h0.60M445.7 110.5h0.60M448.5 102.5h0.60M440.7 95.2h0.60M453.5 106.4h0.60M454.2 99.8h0.60M433.2 99.8h0.60M440.7 101.9h0.60M454.7 96.7h0.60M438.8 106.0h0.60M453.9 114.9h0.60M449.8 97.1h0.60M432.9 97.4h0.60M444.9 103.5h0.60M443.4 98.4h0.60M442.1 101.6h0.60M450.5 102.5h0.60M435.4 95.2h0.60M460.1 101.5h0.60M442.2 101.9h0.60M456.3 100.2h0.60M446.0 100.6h0.60M450.4 96.1h0.60M446.3 108.0h0.60M456.9 105.6h0.60M447.3 111.2h0.60M451.8 110.1h0.60M431.2 95.6h0.60M452.8 100.5h0.60M439.5 96.5h0.60M460.2 95.1h0.60M445.3 93.9h0.60M442.3 115.1h0.60M470.4 99.1h0.60M433.2 111.5h0.60M434.9 91.6h0.60M447.9 95.7h0.60M428.5 108.5h0.60M436.3 95.8h0.60M446.0 100.9h0.60M456.3 102.6h0.60M461.3 108.6h0.60M463.3 108.5h0.60M444.9 105.2h0.60M444.4 93.0h0.60M431.5 106.3h0.60" stroke="#222" stroke-width="0.60" stroke-opacity="1.0" fill="none"/>
<path d="M435.0 67.4h0.64M436.5 68.6h0.64M441.4 65.8h0.64M437.6 59.0h0.64M443.0 62.6h0.64M440.9 69.0h0.64M448.7 70.3h0.64M451.3 62.1h0.64M446.6 73.7h0.64M444.9 63.3h0.64M444.9 65.6h0.64M438.8 71.7h0.64M441.5 63.3h0.64M438.6 75.2h0.64M437.6 70.2h0.64M443.6 72.1h0.64M441.0 64.0h0.64M438.8 63.6h0.64M457.8 68.4h0.64M440.7 72.5h0.64M446.4 66.9h0.64M446.2 68.7h0.64M449.2 74.0h0.64M440.8 67.5h0.64M441.5 72.3h0.64M444.8 70.6h0.64M447.9 65.2h0.64M443.4 73.0h0.64M448.0 70.8h0.64M441.0 66.2h0.64M437.6 66.6h0.64M442.2 62.1h0.64M449.4 64.7h0.64M444.1 69.9h0.64M439.4 60.6h0.64M448.3 69.2h0.64M441.1 72.0h0.64M447.8 63.9h0.64M442.1 60.8h0.64M441.1 73.1h0.64M437.7 70.8h0.64M433.8 66.5h0.64M448.1 74.3h0.64M445.3 70.5h0.64M452.7 58.2h0.64M432.6 74.9h0.64M457.0 69.9h0.64M443.0 68.6h0.64M442.8 65.2h0.64M442.5 67.1h0.64M446.5 70.2h0.64M448.3 69.9h0.64M436.9 73.0h0.64M427.0 68.1h0.64M444.5 65.6h0.64M453.6 63.4h0.64M435.8 65.7h0.64M445.0 70.7h0.64M443.2 70.2h0.64M438.5 65.3h0.64M443.4 62.4h0.64M443.7 66.1h0.64M446.6 63.7h0.64M439.5 65.4h0.64M440.5 63.7h0.64M441.1 62.4h0.64M445.7 70.2h0.64M442.5 66.9h0.64M437.4 63.9h0.64M441.3 64.1h0.64M435.7 68.3h0.64M442.5 66.0h0.64M437.9 67.4h0.64M438.6 66.0h0.64M443.7 70.4h0.64M447.0 65.3h0.64M449.6 63.1h0.64M441.6 72.6h0.64M456.4 68.1h0.64M440.5 66.2h0.64M435.5 67.0h0.64M440.1 64.7h0.64M449.6 64.6h0.64M452.5 70.9h0.64M446.3 65.3h0.64M439.6 59.9h0.64M444.2 66.6h0.64M444.9 65.0h0.64M445.4 61.8h0.64M429.9 69.4h0.64M448.8 55.4h0.64M450.1 66.3h0.64M441.7 61.7h0.64M436.8 70.4h0.64M438.3 67.5h0.64M441.7 75.3h0.64M447.8 62.5h0.64M439.8 63.2h0.64M434.5 65.0h0.64M449.0 67.8h0.64M446.5 67.1h0.64M440.1 67.9h0.64M442.1 75.1h0.64M453.0 69.1h0.64M446.1 59.9h0.64M441.9 76.9h0.64M438.0 70.8h0.64M449.7 66.1h0.64M441.3 65.8h0.64M447.2 67.7h0.64M451.3 72.2h0.64M442.5 77.7h0.64M440.8 65.2h0.64M441.2 64.2h0.64M440.1 67.3h0.64M447.7 61.5h0.64M434.5 64.6h0.64M440.8 69.4h0.64M438.0 73.4h0.64M439.5 66.8h0.64M442.9 72.1h0.64M444.3 67.7h0.64M439.4 68.3h0.64M444.9 66.3h0.64M442.5 60.5h0.64M439.5 72.2h0.64M450.8 67.3h0.64M430.1 74.7h0.64M441.6 77.6h0.64M440.2 71.5h0.64M439.0 72.9h0.64M449.3 63.5h0.64M450.1 78.7h0.64M441.3 62.9h0.64M444.2 66.1h0.64M433.9 63.5h0.64M444.0 61.7h0.64M448.8 69.3h0.64M441.5 73.0h0.64M437.2 70.3h0.64M434.7 66.3h0.64M446.3 65.5h0.64M441.9 70.1h0.64M451.4 72.7h0.64M445.2 66.6h0.64M434.2 74.3h0.64M453.4 59.2h0.64M447.6 67.4h0.64M446.7 68.8h0.64M441.4 67.6h0.64M442.3 72.1h0.64M441.1 65.5h0.64M446.3 70.1h0.64M445.1 68.7h0.64M451.1 71.9h0.64M443.8 66.8h0.64M446.4 60.3h0.64M439.5 64.9h0.64M443.6 66.1h0.64M456.8 70.5h0.64M444.9 76.3h0.64M442.5 66.4h0.64M449.7 70.8h0.64M447.9 72.3h0.64M440.5 65.0h0.64M438.4 68.0h0.64M448.3 63.5h0.64M439.5 62.4h0.64M454.1 70.7h0.64M443.8 62.9h0.64M436.6 65.1h0.64M442.8 62.7h0.64M441.2 72.3h0.64M442.6 68.0h0.64M430.5 66.5h0.64M441.7 64.9h0.64M434.6 67.3h0.64M436.7 65.5h0.64M433.4 67.2h0.64M447.8 64.3h0.64M444.4 61.7h0.64M445.9 69.7h0.64M440.3 71.0h0.64M437.5 67.8h0.64M452.3 67.5h0.64M436.1 72.1h0.64M445.6 66.5h0.64M432.1 60.3h0.64M433.8 73.4h0.64M444.2 64.3h0.64M449.2 73.3h0.64M437.7 69.5h0.64M433.1 69.1h0.64M453.0 62.1h0.64M442.9 65.1h0.64M442.0 67.9h0.64M444.2 71.1h0.64M445.5 71.7h0.64M448.4 71.9h0.64M438.7 69.2h0.64M440.4 64.3h0.64M453.8 68.7h0.64M442.8 59.4h0.64M441.2 70.6h0.64M441.4 65.5h0.64M451.0 66.4h0.64M440.6 67.2h0.64M441.2 71.7h0.64M445.8 67.3h0.64M440.5 66.7h0.64M452.3 66.4h0.64M446.3 61.5h0.64M444.4 70.3h0.64M449.9 68.8h0.64M445.9 68.9h0.64M448.7 75.6h0.64M443.7 64.4h0.64M446.0 67.2h0.64M446.2 70.6h0.64M443.4 65.9h0.64M444.3 62.7h0.64M444.1 64.1h0.64M445.1 68.1h0.64M441.3 62.9h0.64M442.8 64.9h0.64M441.7 70.3h0.64M448.0 62.6h0.64M447.9 72.9h0.64M449.0 68.7h0.64M442.0 74.4h0.64M440.7 61.6h0.64M443.1 68.7h0.64M436.6 62.9h0.64M453.9 68.0h0.64M447.0 65.3h0.64M433.9 66.9h0.64M450.3 65.0h0.64M432.3 66.9h0.64M441.0 67.7h0.64M436.6 66.4h0.64M439.4 71.0h0.64M443.4 71.0h0.64M442.3 59.3h0.64M431.3 69.7h0.64M447.6 71.0h0.64M442.1 60.6h0.64M439.7 69.2h0.64M450.5 66.3h0.64M439.3 64.6h0.64M448.4 71.0h0.64M432.1 72.3h0.64M437.3 61.9h0.64M433.4 64.8h0.64M455.9 77.6h0.64M435.4 65.0h0.64M443.5 69.2h0.64M439.8 61.4h0.64M440.2 64.9h0.64M432.3 68.2h0.64M434.2 60.8h0.64M451.3 71.3h0.64M450.9 68.1h0.64M440.2 67.3h0.64M434.7 70.5h0.64M444.1 66.4h0.64M431.8 67.2h0.64M451.9 73.3h0.64M447.6 66.2h0.64M443.4 69.8h0.64M443.7 71.7h0.64M438.7 58.5h0.64M428.6 64.0h0.64M434.6 70.2h0.64M448.7 67.6h0.64M445.7 67.9h0.64M443.6 65.8h0.64M440.2 72.3h0.64M441.0 67.4h0.64M449.4 71.4h0.64M440.3 68.6h0.64M436.8 68.1h0.64M444.4 67.6h0.64M443.5 69.0h0.64M428.0 64.4h0.64M443.0 65.7h0.64M437.0 66.7h0.64M451.8 66.7h0.64M438.8 65.7h0.64M435.7 69.5h0.64M436.9 71.2h0.64M447.8 69.8h0.64M448.5 67.3h0.64M432.5 67.3h0.64M446.2 61.6h0.64M435.6 71.9h0.64M445.1 72.9h0.64M446.4 67.9h0.64M445.0 70.9h0.64M442.4 66.8h0.64M444.4 66.4h0.64" stroke="#111" stroke-width="0.64" stroke-opacity="1.0" fill="none"/>
<path d="M471.5 64.8h0.56M430.1 61.2h0.56M457.2 67.2h0.56M447.8 68.5h0.56M449.1 60.1h0.56M447.0 66.1h0.56M457.6 74.3h0.56M432.8 63.4h0.56M452.1 78.2h0.56M454.2 69.0h0.56M457.9 53.9h0.56M440.5 63.3h0.56M435.2 73.9h0.56M449.1 71.9h0.56M444.7 74.2h0.56M454.4 66.1h0.56M456.0 63.6h0.56M464.8 61.1h0.56M443.1 62.6h0.56M446.6 79.0h0.56M438.2 82.2h0.56M461.1 72.6h0.56M439.9 76.2h0.56M456.3 69.7h0.56M472.5 65.4h0.56M432.0 68.5h0.56M452.3 81.7h0.56M427.4 71.1h0.56M459.6 65.4h0.56M441.3 61.7h0.56M454.3 75.7h0.56M452.4 71.7h0.56M456.7 69.2h0.56M453.8 75.6h0.56M460.0 73.5h0.56M447.0 74.9h0.56M429.7 57.9h0.56M463.4 70.9h0.56M434.9 66.0h0.56M444.6 70.5h0.56M438.0 76.8h0.56M428.0 89.3h0.56M434.6 81.4h0.56M453.3 58.4h0.56M433.1 70.4h0.56M449.1 67.1h0.56M446.3 71.1h0.56M433.9 70.4h0.56M470.4 65.6h0.56M435.3 74.6h0.56M460.5 77.2h0.56M439.4 69.5h0.56M448.3 68.6h0.56M450.4 77.5h0.56M452.0 69.9h0.56M444.0 82.3h0.56M433.0 83.8h0.56M454.1 70.6h0.56M438.2 82.6h0.56M459.2 76.3h0.56M468.5 57.6h0.56M447.2 67.9h0.56M438.3 70.5h0.56M451.9 73.6h0.56M444.7 60.9h0.56M452.2 74.2h0.56M469.0 76.4h0.56M446.3 62.1h0.56M475.5 65.3h0.56M448.3 75.2h0.56M451.6 79.2h0.56M435.0 65.2h0.56M448.0 61.5h0.56M439.5 79.6h0.56M449.3 69.3h0.56M440.0 70.3h0.56M445.8 62.6h0.56M454.7 61.2h0.56M460.0 67.7h0.56M421.4 59.3h0.56M449.3 64.0h0.56M465.8 79.6h0.56M469.0 76.2h0.56M460.8 65.8h0.56M460.3 67.0h0.56M445.6 60.6h0.56M446.8 72.8h0.56M445.5 62.3h0.56M456.0 76.3h0.56M445.2 75.4h0.56M456.9 63.2h0.56M445.8 57.1h0.56M434.9 73.0h0.56M436.6 72.7h0.56M450.1 55.7h0.56M440.8 80.5h0.56M446.3 70.9h0.56M438.5 58.9h0.56M428.8 90.0h0.56M444.1 64.0h0.56M447.4 56.5h0.56M461.4 81.9h0.56M437.9 72.2h0.56M436.3 76.0h0.56M436.9 69.0h0.56M460.4 73.6h0.56M442.6 59.4h0.56M428.7 78.4h0.56M451.8 70.4h0.56M459.9 71.0h0.56M438.2 69.3h0.56M445.1 69.9h0.56M473.5 74.0h0.56M449.1 68.3h0.56M438.7 63.1h0.56M425.5 66.8h0.56M429.5 57.1h0.56M435.8 55.9h0.56M461.2 78.7h0.56M435.5 84.3h0.56M453.4 52.4h0.56M446.4 63.0h0.56M427.0 68.2h0.56M458.8 73.1h0.56M430.1 65.4h0.56M437.8 78.0h0.56M445.1 63.2h0.56M436.1 56.2h0.56M436.8 76.3h0.56M425.1 71.3h0.56M444.9 75.7h0.56M433.5 76.4h0.56M463.2 86.0h0.56M428.2 69.8h0.56M443.8 70.9h0.56M435.2 76.0h0.56M471.9 80.5h0.56M435.6 66.0h0.56M454.1 70.9h0.56M437.7 78.7h0.56M451.8 77.2h0.56M444.2 79.0h0.56M441.0 62.2h0.56M446.0 60.2h0.56M459.9 75.1h0.56M427.5 71.2h0.56M455.4 67.5h0.56M450.7 65.9h0.56M445.3 69.4h0.56M451.4 63.2h0.56M433.6 72.3h0.56M440.5 73.6h0.56M440.5 60.8h0.56M454.2 71.9h0.56M454.2 67.6h0.56M442.1 78.9h0.56M427.4 82.2h0.56M451.7 69.6h0.56M447.1 74.2h0.56M437.5 71.9h0.56M435.5 57.0h0.56M448.3 70.7h0.56M453.2 73.9h0.56M453.8 75.5h0.56M434.4 78.5h0.56M475.7 66.0h0.56M432.1 74.8h0.56M456.2 77.1h0.56M463.0 60.3h0.56M450.2 73.3h0.56M459.9 63.7h0.56M446.3 67.4h0.56M444.3 69.0h0.56M444.4 57.6h0.56M445.6 70.5h0.56M441.8 45.1h0.56M438.4 65.4h0.56M436.4 81.3h0.56M456.3 68.7h0.56M452.7 93.1h0.56M435.3 73.3h0.56M439.4 80.4h0.56M458.3 69.1h0.56M452.8 64.4h0.56M428.5 75.9h0.56M464.1 67.9h0.56M440.2 57.4h0.56M469.8 61.6h0.56M435.3 68.6h0.56M459.4 70.4h0.56M445.8 70.1h0.56M455.4 69.7h0.56M447.8 69.5h0.56M433.7 79.4h0.56M438.4 60.7h0.56M441.2 70.2h0.56M455.1 59.7h0.56M432.0 71.3h0.56M450.3 62.3h0.56M433.5 71.2h0.56M444.4 58.6h0.56M436.3 80.4h0.56M434.3 77.4h0.56M429.1 80.4h0.56M463.7 65.5h0.56M438.5 74.4h0.56M432.3 73.9h0.56M459.5 71.9h0.56M449.6 68.9h0.56M457.1 64.2h0.56M463.6 69.8h0.56M442.4 58.5h0.56M441.2 71.7h0.56M459.8 58.7h0.56M444.6 65.2h0.56M432.8 70.0h0.56M437.6 76.1h0.56M425.0 56.3h0.56M451.8 67.6h0.56M447.4 63.2h0.56M434.4 64.8h0.56M445.4 64.1h0.56M441.4 64.0h0.56M448.6 62.0h0.56M423.0 51.5h0.56M445.8 70.7h0.56M456.6 64.8h0.56M433.4 59.5h0.56M454.4 65.6h0.56M456.9 69.4h0.56M443.0 56.9h0.56M438.5 75.5h0.56M439.3 74.8h0.56M427.8 77.1h0.56M476.8 77.8h0.56M449.6 61.3h0.56M440.2 65.4h0.56M448.1 55.8h0.56M436.5 75.6h0.56M447.6 75.2h0.56M455.4 62.0h0.56M431.1 73.3h0.56M446.4 70.6h0.56M437.0 77.2h0.56M451.5 78.0h0.56M442.1 74.9h0.56M445.4 63.4h0.56M445.1 58.4h0.56M444.0 71.3h0.56M453.7 62.6h0.56M431.3 64.9h0.56M423.1 65.4h0.56M474.9 71.0h0.56M437.6 65.2h0.56M465.5 61.8h0.56M444.7 69.4h0.56M437.9 64.9h0.56M427.5 64.1h0.56" stroke="#444" stroke-width="0.56" stroke-opacity="1.0" fill="none"/>
<path d="M449.0 97.4h0.60M441.1 91.7h0.60M444.8 86.9h0.60M441.8 95.8h0.60M445.4 84.2h0.60M441.3 93.5h0.60M439.5 80.2h0.60M441.1 82.0h0.60M448.8 88.9h0.60M442.1 81.8h0.60M449.6 89.5h0.60M452.9 93.3h0.60M441.4 81.6h0.60M441.1 87.5h0.60M446.5 89.9h0.60M450.4 73.8h0.60M442.6 74.6h0.60M437.3 81.2h0.60M439.2 78.2h0.60M434.9 95.1h0.60M440.9 93.7h0.60M437.0 67.4h0.60M439.5 93.1h0.60M439.7 89.2h0.60M437.1 97.2h0.60M444.7 94.4h0.60M441.1 96.3h0.60M442.9 82.1h0.60M439.3 86.4h0.60M437.9 76.4h0.60M443.2 91.7h0.60M441.0 92.7h0.60M450.4 75.8h0.60M443.8 78.3h0.60M439.3 87.4h0.60M430.6 90.9h0.60M446.7 90.3h0.60M445.7 100.5h0.60M440.7 94.8h0.60M449.8 89.9h0.60M433.6 84.7h0.60M441.0 73.0h0.60M442.2 92.1h0.60M441.2 84.5h0.60M449.9 81.1h0.60M437.8 86.3h0.60M448.1 90.8h0.60M442.9 82.0h0.60M448.7 93.1h0.60M433.8 88.7h0.60M430.4 98.0h0.60M445.6 80.9h0.60M436.0 83.6h0.60M433.7 90.5h0.60M439.9 71.8h0.60M442.4 95.5h0.60M436.1 83.1h0.60M451.6 87.5h0.60M439.7 87.5h0.60M446.4 77.9h0.60M442.0 72.9h0.60M434.6 73.6h0.60M446.7 88.5h0.60M446.2 95.7h0.60M442.7 87.9h0.60M444.5 89.7h0.60M437.2 83.8h0.60M441.7 86.3h0.60M438.7 84.9h0.60M443.9 87.5h0.60M445.5 92.6h0.60M445.3 93.7h0.60M446.7 97.2h0.60M445.6 81.0h0.60M454.2 95.0h0.60M448.8 91.8h0.60M442.7 76.8h0.60M444.7 83.1h0.60M440.5 68.9h0.60M450.3 76.6h0.60M437.0 89.7h0.60M445.3 79.6h0.60M442.5 88.0h0.60M443.3 90.2h0.60M446.4 83.0h0.60M434.4 103.3h0.60M440.6 78.0h0.60M446.3 90.7h0.60M439.4 104.8h0.60M430.7 96.3h0.60M442.3 88.5h0.60M444.1 84.1h0.60M444.1 75.5h0.60M440.5 100.8h0.60M429.6 95.9h0.60M431.3 79.2h0.60M446.9 82.7h0.60M439.6 74.0h0.60M441.9 84.6h0.60M439.3 73.5h0.60M443.3 89.4h0.60M448.2 90.1h0.60M450.1 95.6h0.60M428.3 99.4h0.60M442.0 77.6h0.60M444.7 93.7h0.60M434.7 76.1h0.60M445.9 81.5h0.60M449.8 87.7h0.60M439.7 75.3h0.60M445.5 72.2h0.60M436.0 75.5h0.60M451.0 99.7h0.60M441.4 82.9h0.60M446.0 96.0h0.60M438.4 103.7h0.60M441.5 95.1h0.60M430.6 85.6h0.60M439.0 101.9h0.60M441.4 75.8h0.60M452.3 80.5h0.60M442.5 76.0h0.60M445.9 87.5h0.60M441.0 82.8h0.60M439.6 80.2h0.60M435.4 95.7h0.60M447.0 74.8h0.60M436.6 89.3h0.60M453.9 84.3h0.60M440.9 84.0h0.60M443.7 84.6h0.60M447.9 93.9h0.60M445.3 98.6h0.60M441.3 81.6h0.60M457.4 70.5h0.60M434.7 67.1h0.60M444.3 77.4h0.60M447.8 69.1h0.60M441.8 82.8h0.60M437.1 95.0h0.60M440.5 89.6h0.60M439.8 87.2h0.60M440.2 86.6h0.60M442.0 80.5h0.60M444.7 84.5h0.60M437.6 77.6h0.60M444.7 96.7h0.60M435.9 82.6h0.60M444.8 94.4h0.60M446.1 76.5h0.60M442.7 93.2h0.60M443.7 84.2h0.60M436.6 87.3h0.60M442.2 86.2h0.60M450.0 95.5h0.60M438.5 87.9h0.60M440.9 86.8h0.60M450.7 93.3h0.60M442.7 80.7h0.60M441.7 88.9h0.60M440.0 94.8h0.60M442.6 76.5h0.60M452.8 62.7h0.60M441.1 85.0h0.60M447.5 94.9h0.60M449.8 98.5h0.60M444.1 86.9h0.60M447.6 85.8h0.60M436.2 82.3h0.60M445.8 90.9h0.60M436.9 95.6h0.60M444.1 73.9h0.60M444.8 94.1h0.60M445.2 83.5h0.60M438.5 95.0h0.60M443.6 85.9h0.60M440.5 77.7h0.60M433.1 83.2h0.60M448.1 92.1h0.60M439.1 98.3h0.60M441.4 77.9h0.60M447.4 97.1h0.60M440.5 76.2h0.60M442.2 66.5h0.60M442.8 98.2h0.60M443.9 80.1h0.60M446.1 82.0h0.60M448.9 83.1h0.60M452.7 83.2h0.60M443.5 78.5h0.60M436.1 88.8h0.60M444.3 78.2h0.60M445.3 82.7h0.60M439.7 85.4h0.60M444.5 91.8h0.60M448.7 89.1h0.60M438.8 80.5h0.60M444.4 76.4h0.60M441.6 82.9h0.60M442.0 87.5h0.60M447.7 99.1h0.60M446.9 94.1h0.60M437.1 94.3h0.60M449.0 75.1h0.60M455.2 81.4h0.60M430.5 100.2h0.60M442.8 79.6h0.60M439.6 94.6h0.60M443.8 83.0h0.60M448.3 78.5h0.60M438.2 81.5h0.60M438.7 91.5h0.60M441.3 77.5h0.60M440.2 70.1h0.60M443.3 86.8h0.60M445.6 84.1h0.60M444.5 78.5h0.60M442.6 87.2h0.60M436.4 90.7h0.60M443.2 86.4h0.60M440.1 102.1h0.60M442.5 79.8h0.60M438.2 90.7h0.60M441.4 79.7h0.60M438.9 93.5h0.60M442.9 94.4h0.60M442.4 76.5h0.60M446.8 88.6h0.60M439.2 83.5h0.60M437.6 92.6h0.60M440.4 89.8h0.60M443.8 83.9h0.60M444.4 84.0h0.60M436.6 82.7h0.60M436.6 92.0h0.60M445.8 81.3h0.60M445.6 88.0h0.60M447.4 78.5h0.60M442.6 78.1h0.60M439.1 97.0h0.60M432.4 78.7h0.60M444.9 92.2h0.60M438.6 69.7h0.60M433.9 88.9h0.60M448.0 93.3h0.60M438.8 96.8h0.60M441.6 90.9h0.60M441.5 98.7h0.60M439.9 68.8h0.60M440.9 87.5h0.60M443.9 80.3h0.60M441.3 76.9h0.60M441.3 86.7h0.60M443.7 99.1h0.60M432.5 90.1h0.60M444.7 76.7h0.60M442.9 85.9h0.60M437.5 91.8h0.60M452.0 91.4h0.60M446.4 94.5h0.60M441.9 93.8h0.60M438.5 87.4h0.60M446.0 96.4h0.60M441.1 83.7h0.60M444.8 85.4h0.60M443.2 92.4h0.60M438.7 93.0h0.60M444.4 83.9h0.60M436.3 81.0h0.60M442.3 93.5h0.60M432.7 91.7h0.60M443.5 77.0h0.60M446.8 89.2h0.60M444.7 78.2h0.60M437.0 93.2h0.60M449.5 88.9h0.60M441.5 82.4h0.60M434.0 93.8h0.60M442.0 95.8h0.60M438.9 94.4h0.60M438.9 90.7h0.60M449.3 80.4h0.60M447.0 85.9h0.60M437.8 87.6h0.60M445.7 80.3h0.60M441.2 81.5h0.60M438.7 84.3h0.60M446.6 82.1h0.60M448.7 83.0h0.60M439.1 94.5h0.60M449.5 80.8h0.60M445.4 76.8h0.60M440.5 83.0h0.60M446.0 76.0h0.60M440.0 80.5h0.60M443.0 76.2h0.60M435.9 108.4h0.60M443.6 74.1h0.60M446.6 75.6h0.60M433.2 99.2h0.60M448.7 79.3h0.60M437.1 89.8h0.60M452.6 90.7h0.60M445.8 76.6h0.60M433.7 89.1h0.60M447.5 87.1h0.60M442.5 96.9h0.60M438.3 94.7h0.60M446.6 81.1h0.60M443.1 86.9h0.60M445.4 78.3h0.60M441.3 86.7h0.60M442.6 86.2h0.60M443.7 84.5h0.60M440.0 94.2h0.60M439.3 83.5h0.60M438.2 76.9h0.60M444.7 85.7h0.60M441.8 89.6h0.60M441.6 91.4h0.60M451.4 88.7h0.60M441.2 99.1h0.60M446.0 72.9h0.60M449.1 87.7h0.60M446.7 76.9h0.60M438.3 80.9h0.60M445.2 77.1h0.60M439.0 93.5h0.60M439.3 86.9h0.60M438.1 72.6h0.60M442.1 85.0h0.60M435.4 93.7h0.60M446.5 93.0h0.60M440.0 77.0h0.60M442.1 87.3h0.60M441.6 81.4h0.60M437.6 80.2h0.60M442.1 82.2h0.60M450.7 83.8h0.60M444.7 82.3h0.60M441.6 78.3h0.60M440.1 74.2h0.60M432.3 96.5h0.60M437.3 89.4h0.60M441.9 81.5h0.60M446.1 81.6h0.60M444.6 83.1h0.60M447.3 93.5h0.60M442.8 94.6h0.60M445.0 98.2h0.60M441.9 73.9h0.60M443.5 87.9h0.60M440.7 84.4h0.60M441.2 76.2h0.60M450.9 79.9h0.60M437.2 73.6h0.60M438.4 85.7h0.60M449.7 90.7h0.60M438.9 76.2h0.60M437.0 85.3h0.60M446.7 82.2h0.60M450.3 101.1h0.60M443.3 69.0h0.60M447.8 85.2h0.60M445.8 93.7h0.60M437.6 86.5h0.60M443.4 80.1h0.60M445.9 85.0h0.60M440.5 100.7h0.60M443.3 98.8h0.60M441.7 94.1h0.60M438.8 87.1h0.60M447.8 69.0h0.60M445.1 83.9h0.60M447.8 87.4h0.60M442.1 75.9h0.60M456.9 80.2h0.60M440.9 80.3h0.60M441.0 87.7h0.60M435.9 94.3h0.60" stroke="#222" stroke-width="0.60" stroke-opacity="1.0" fill="none"/>
<path d="M457.7 104.1h0.56M441.4 96.4h0.56M457.4 97.3h0.56M454.1 102.1h0.56M463.6 93.3h0.56M442.7 105.0h0.56M457.1 107.3h0.56M467.6 99.3h0.56M447.4 97.5h0.56M453.6 108.5h0.56M445.1 106.3h0.56M446.4 96.1h0.56M447.5 95.2h0.56M456.1 102.5h0.56M454.8 104.7h0.56M475.3 101.1h0.56M449.8 98.8h0.56M459.1 97.5h0.56M470.1 107.9h0.56M477.6 103.6h0.56M436.5 99.1h0.56M465.8 94.5h0.56M454.7 106.2h0.56M461.2 92.3h0.56M454.8 78.8h0.56M459.9 91.6h0.56M459.5 91.8h0.56M451.8 96.4h0.56M484.4 91.8h0.56M449.5 96.3h0.56M469.3 105.5h0.56M466.1 97.8h0.56M461.1 94.7h0.56M458.3 94.4h0.56M447.2 93.2h0.56M476.9 102.7h0.56M453.3 99.2h0.56M456.0 108.3h0.56M459.7 95.6h0.56M465.9 102.2h0.56M453.9 94.7h0.56M461.2 88.8h0.56M451.9 106.9h0.56M467.5 107.6h0.56M456.0 95.9h0.56M457.5 96.7h0.56M471.2 98.4h0.56M471.8 95.1h0.56M463.2 111.1h0.56M453.4 95.5h0.56M454.7 88.9h0.56M457.3 95.6h0.56M479.3 96.7h0.56M441.2 106.4h0.56M468.3 99.7h0.56M462.4 104.9h0.56M455.0 100.3h0.56M461.2 111.3h0.56M472.3 101.1h0.56M448.1 106.0h0.56M459.4 108.0h0.56M460.4 101.2h0.56M465.7 95.0h0.56M454.1 115.7h0.56M452.3 106.4h0.56M465.9 105.6h0.56M471.9 90.8h0.56M468.3 85.9h0.56M460.4 102.3h0.56M468.9 107.4h0.56M451.7 98.1h0.56M458.5 95.2h0.56M452.7 95.4h0.56M470.0 109.3h0.56M466.5 111.5h0.56M460.7 92.5h0.56M454.2 101.4h0.56M468.9 108.3h0.56M452.0 106.5h0.56M455.2 104.1h0.56M467.9 110.1h0.56M455.3 101.6h0.56M463.6 97.1h0.56M460.7 104.1h0.56M445.5 95.6h0.56M480.1 103.1h0.56M455.0 87.4h0.56M451.5 103.5h0.56M465.8 103.0h0.56M465.1 95.8h0.56" stroke="#555" stroke-width="0.56" stroke-opacity="1.0" fill="none"/>
<path d="M472.2 69.9h0.64M471.2 72.0h0.64M469.3 74.7h0.64M470.5 74.3h0.64M471.9 73.0h0.64M470.2 72.1h0.64M470.7 76.0h0.64M471.5 76.3h0.64M471.5 70.8h0.64M471.6 74.9h0.64M470.7 73.7h0.64M470.5 69.6h0.64M470.7 74.4h0.64M470.5 67.3h0.64M470.1 75.2h0.64M471.0 75.2h0.64M470.1 71.6h0.64M469.9 70.8h0.64M471.2 72.9h0.64M470.4 73.3h0.64M469.6 71.7h0.64M469.5 69.1h0.64M469.6 70.0h0.64M472.2 75.8h0.64M471.9 71.2h0.64M471.3 69.9h0.64M470.3 73.2h0.64M469.4 73.1h0.64M471.3 67.7h0.64M468.6 71.9h0.64M470.7 72.9h0.64M469.8 73.9h0.64M470.9 70.9h0.64M472.2 73.2h0.64M471.4 77.0h0.64M470.4 72.1h0.64M469.3 72.1h0.64M471.2 78.5h0.64M471.3 73.1h0.64M469.7 70.6h0.64M469.2 69.3h0.64M470.9 73.3h0.64M470.0 72.1h0.64M470.1 74.1h0.64M471.3 71.3h0.64M470.4 69.7h0.64M470.4 77.8h0.64M470.8 74.6h0.64M471.3 76.1h0.64M470.5 70.5h0.64M471.7 74.8h0.64M470.2 75.2h0.64M470.8 72.5h0.64M472.4 73.9h0.64M471.1 71.8h0.64M471.0 75.1h0.64M471.2 70.8h0.64M471.2 72.3h0.64M471.1 72.1h0.64M468.9 68.8h0.64M470.4 67.4h0.64M469.5 77.4h0.64M471.4 71.5h0.64M471.1 67.3h0.64M471.0 74.9h0.64M471.0 69.5h0.64M471.6 71.3h0.64M470.3 73.1h0.64M470.5 77.4h0.64M470.7 77.7h0.64" stroke="#222" stroke-width="0.64" stroke-opacity="1.0" fill="none"/>
<rect x="423.4" y="55" width="59.0" height="32.2" fill="none" stroke="#222" stroke-width="0.9"/>
<rect x="418.9" y="35.4" width="89.80000000000001" height="89.5" fill="none" stroke="#222" stroke-width="1.0"/>
<text x="454.4" y="52.4" font-size="10.4" font-weight="bold" font-style="normal" text-anchor="middle">21</text>
<path d="M451.1 173.6h0.70M448.4 179.2h0.70M457.1 184.6h0.70M463.8 176.1h0.70M445.8 189.2h0.70M443.0 180.5h0.70M458.1 174.6h0.70M446.3 175.7h0.70M451.6 180.7h0.70M448.2 181.9h0.70M443.6 177.4h0.70M451.2 187.8h0.70M448.2 179.3h0.70M456.3 179.3h0.70M456.3 180.0h0.70M455.4 179.8h0.70M442.8 175.3h0.70M451.0 187.2h0.70M459.7 177.6h0.70M463.6 174.1h0.70M443.3 183.1h0.70M439.2 183.0h0.70M450.7 181.7h0.70M441.1 180.7h0.70M454.1 178.8h0.70M454.6 179.1h0.70M450.5 177.6h0.70M440.2 178.3h0.70M451.4 175.7h0.70M436.5 172.2h0.70M456.4 178.0h0.70M443.8 184.4h0.70M447.3 172.4h0.70M445.7 175.1h0.70M447.3 175.0h0.70M448.8 181.0h0.70M444.9 178.1h0.70M447.5 182.6h0.70M444.0 182.3h0.70M456.0 178.1h0.70M442.5 177.6h0.70M437.6 176.6h0.70M441.1 178.3h0.70M446.1 181.3h0.70M449.1 180.9h0.70M448.1 180.2h0.70M441.5 181.9h0.70M456.3 183.9h0.70M440.2 180.8h0.70M438.5 182.3h0.70M447.2 177.0h0.70M443.9 178.0h0.70M448.4 174.8h0.70M448.8 180.1h0.70M451.6 178.8h0.70M448.4 189.2h0.70M454.6 180.4h0.70M440.0 181.7h0.70M451.9 167.3h0.70M447.4 180.7h0.70M448.6 179.4h0.70M447.5 185.1h0.70M450.7 177.8h0.70M447.0 188.2h0.70M443.2 176.7h0.70M450.4 179.7h0.70M450.2 185.0h0.70M455.3 180.9h0.70M448.7 178.7h0.70M447.0 183.4h0.70M440.7 174.4h0.70M445.6 174.8h0.70M443.9 184.3h0.70M434.7 181.5h0.70M440.4 177.9h0.70M444.9 174.6h0.70M439.4 179.3h0.70M430.3 169.7h0.70M446.0 183.8h0.70M459.7 177.7h0.70M443.5 177.8h0.70M451.3 183.1h0.70M442.6 181.1h0.70M448.2 184.0h0.70M445.9 178.1h0.70M443.2 173.2h0.70M450.1 182.1h0.70M455.3 180.2h0.70M445.6 175.0h0.70M441.3 175.8h0.70M450.5 179.4h0.70M434.4 178.6h0.70M446.7 174.4h0.70M448.3 181.3h0.70M442.1 173.1h0.70M446.5 180.2h0.70M446.9 185.8h0.70M449.3 174.6h0.70M453.2 176.2h0.70M452.6 179.4h0.70M456.0 174.6h0.70M452.9 180.9h0.70M442.9 182.1h0.70M462.3 180.6h0.70M443.7 178.3h0.70M456.4 180.1h0.70M457.5 176.1h0.70M456.5 172.1h0.70M447.4 177.7h0.70M445.4 184.4h0.70M444.8 180.5h0.70M459.8 182.6h0.70M445.9 175.8h0.70M436.1 180.7h0.70M453.9 183.9h0.70M449.9 188.5h0.70M453.2 168.8h0.70M443.0 182.5h0.70M446.0 182.7h0.70M464.2 175.6h0.70M462.0 178.6h0.70M439.4 179.4h0.70M454.0 176.4h0.70M458.2 175.2h0.70M447.3 183.1h0.70M447.1 176.5h0.70M448.3 181.9h0.70M459.1 185.0h0.70M460.0 178.9h0.70M438.2 178.8h0.70M445.9 174.6h0.70M445.3 178.7h0.70M448.8 183.0h0.70M442.8 184.0h0.70M448.7 182.2h0.70M456.1 173.6h0.70M458.3 175.8h0.70M450.9 183.8h0.70M454.2 172.1h0.70M449.5 184.0h0.70M447.7 178.7h0.70M448.9 186.2h0.70M445.1 174.9h0.70M441.7 176.7h0.70M447.0 180.5h0.70M448.0 171.4h0.70M438.8 182.0h0.70M453.0 173.0h0.70M454.3 168.3h0.70M462.8 181.6h0.70M438.2 181.3h0.70M448.3 177.0h0.70M446.2 178.0h0.70M447.9 175.0h0.70M445.0 181.5h0.70M451.7 173.1h0.70M445.4 185.9h0.70M452.9 186.3h0.70M440.1 174.4h0.70M435.1 170.5h0.70M446.2 174.4h0.70M441.7 175.9h0.70M447.3 182.7h0.70M452.0 171.3h0.70M457.7 177.5h0.70M442.3 178.9h0.70M446.0 172.9h0.70M458.1 176.5h0.70M444.8 181.4h0.70M458.9 181.1h0.70M442.9 180.9h0.70M455.4 180.7h0.70M452.5 176.9h0.70M448.1 171.6h0.70M444.0 174.0h0.70M448.5 185.6h0.70M434.5 173.2h0.70M442.7 178.6h0.70M455.7 175.6h0.70M443.6 184.4h0.70M450.8 181.3h0.70M453.7 175.7h0.70M449.9 176.1h0.70M444.0 179.6h0.70M451.2 173.4h0.70M443.7 181.7h0.70M449.5 181.9h0.70M446.5 175.5h0.70M453.3 181.7h0.70M430.8 182.8h0.70M443.8 181.9h0.70M458.3 177.8h0.70M442.5 180.1h0.70M449.1 181.5h0.70M439.8 180.1h0.70M454.0 182.1h0.70M452.4 184.3h0.70M443.4 184.4h0.70M449.8 174.6h0.70M446.6 180.2h0.70M450.6 185.0h0.70M449.7 176.7h0.70M462.1 177.5h0.70M443.4 183.1h0.70M445.9 175.5h0.70M441.9 184.2h0.70M441.9 179.5h0.70M445.7 178.2h0.70M443.4 179.7h0.70M452.3 183.7h0.70M446.3 173.9h0.70M439.3 179.0h0.70M433.0 184.9h0.70M448.7 179.6h0.70M439.8 176.2h0.70M443.9 182.0h0.70M446.0 181.7h0.70M451.7 170.5h0.70M447.0 184.6h0.70M445.3 179.6h0.70M447.7 173.6h0.70M462.1 178.4h0.70M452.5 177.0h0.70M457.2 184.1h0.70M455.8 183.2h0.70M452.9 185.1h0.70M451.0 179.6h0.70M453.5 175.1h0.70M432.7 182.6h0.70M449.4 175.9h0.70M446.8 174.8h0.70M443.3 179.9h0.70M449.3 182.7h0.70M447.9 181.8h0.70M452.7 175.9h0.70M438.0 176.0h0.70M446.9 176.7h0.70M462.2 176.0h0.70M451.5 175.7h0.70M452.8 173.5h0.70M454.4 179.8h0.70M446.0 173.8h0.70M458.9 176.5h0.70M457.5 168.4h0.70M441.0 187.0h0.70M459.6 179.1h0.70M454.7 181.7h0.70M446.3 179.6h0.70M441.4 173.1h0.70M449.3 182.3h0.70M449.5 173.7h0.70M453.8 179.4h0.70M453.2 177.8h0.70M446.8 183.7h0.70M457.0 173.8h0.70M441.6 183.3h0.70M450.7 179.3h0.70M442.4 183.5h0.70M449.7 180.0h0.70M450.9 176.8h0.70M451.0 179.6h0.70M453.0 180.7h0.70M440.5 175.9h0.70M446.8 184.2h0.70M444.5 184.0h0.70M455.2 182.9h0.70M462.5 179.0h0.70M450.5 184.4h0.70M451.0 183.4h0.70M447.7 185.3h0.70M450.7 170.7h0.70M455.2 178.2h0.70M443.0 177.7h0.70M446.7 184.1h0.70M450.6 178.8h0.70M448.4 175.1h0.70M444.5 177.0h0.70M447.1 173.9h0.70M446.0 183.5h0.70M451.3 179.1h0.70M450.7 178.0h0.70M441.1 182.9h0.70M462.5 181.3h0.70M452.8 189.9h0.70M441.0 181.4h0.70M446.4 177.8h0.70M438.2 178.7h0.70M451.0 172.1h0.70M447.1 176.9h0.70M442.3 181.8h0.70M458.7 180.9h0.70M454.9 182.4h0.70M448.1 181.6h0.70M456.7 177.2h0.70M447.6 173.0h0.70M436.9 175.5h0.70M454.1 180.7h0.70M450.1 184.8h0.70M437.5 185.1h0.70M449.0 182.5h0.70M457.1 175.5h0.70M443.1 180.8h0.70M448.1 176.5h0.70M447.7 175.9h0.70M449.3 177.4h0.70M459.1 174.5h0.70M452.1 179.4h0.70M458.3 174.8h0.70M445.6 186.6h0.70M444.4 177.4h0.70M446.1 174.8h0.70M456.1 185.7h0.70M447.6 175.8h0.70M440.1 182.0h0.70M445.2 181.5h0.70M433.5 177.2h0.70M452.4 180.9h0.70M430.7 180.3h0.70M449.3 179.0h0.70M446.4 177.1h0.70M449.4 181.3h0.70M428.8 179.0h0.70M454.3 178.1h0.70M456.1 175.0h0.70M460.4 183.3h0.70M446.0 191.1h0.70M457.5 186.0h0.70M441.1 178.6h0.70M451.4 183.6h0.70M449.0 173.4h0.70M456.1 178.3h0.70M451.2 177.7h0.70M447.8 173.1h0.70M452.7 176.3h0.70M437.5 180.9h0.70M448.3 183.2h0.70M453.6 173.8h0.70M447.4 179.1h0.70M449.1 174.5h0.70M449.0 183.3h0.70M456.2 185.4h0.70M453.2 168.1h0.70M446.8 176.7h0.70M430.4 185.8h0.70M454.2 179.0h0.70M450.7 181.2h0.70M447.2 185.0h0.70M459.9 182.6h0.70M445.0 180.2h0.70M454.6 182.2h0.70M444.2 183.2h0.70M453.0 181.6h0.70M445.9 178.9h0.70M436.6 178.9h0.70M445.7 177.8h0.70M446.8 177.7h0.70M449.0 179.5h0.70M444.7 178.5h0.70M447.9 181.2h0.70M451.2 177.5h0.70M443.4 171.9h0.70M440.7 180.8h0.70M442.8 186.0h0.70M447.5 177.4h0.70M447.5 176.7h0.70M444.6 179.3h0.70M439.5 179.6h0.70M447.9 175.1h0.70M454.9 180.6h0.70M455.2 176.1h0.70M440.8 173.9h0.70M438.7 170.8h0.70M458.2 177.0h0.70M449.7 176.7h0.70M447.6 185.9h0.70M437.7 174.8h0.70M449.3 175.1h0.70M452.8 184.7h0.70M454.1 182.3h0.70M447.5 183.4h0.70M443.5 173.9h0.70M446.9 178.0h0.70M456.1 174.8h0.70M455.6 175.7h0.70M440.6 171.7h0.70M448.3 172.8h0.70M449.8 179.2h0.70M446.0 170.7h0.70M445.3 181.0h0.70M437.4 182.0h0.70M448.6 176.7h0.70M449.8 181.9h0.70M448.4 175.7h0.70M453.4 176.1h0.70M450.7 183.3h0.70M456.6 186.0h0.70M454.9 179.7h0.70M447.2 179.9h0.70M451.8 192.0h0.70M452.6 175.4h0.70M458.0 172.1h0.70M454.7 173.5h0.70M441.7 176.8h0.70M446.7 173.2h0.70M452.4 178.5h0.70M456.9 174.6h0.70M437.2 182.0h0.70M447.1 183.3h0.70M434.0 173.6h0.70M449.1 187.5h0.70M440.8 170.7h0.70M445.7 185.2h0.70M458.3 173.1h0.70M444.7 171.0h0.70M443.3 174.8h0.70M451.2 184.0h0.70M463.3 177.5h0.70M453.6 180.0h0.70M449.3 187.4h0.70M452.9 185.8h0.70M450.4 182.8h0.70M451.7 178.6h0.70M444.2 177.3h0.70M448.6 177.4h0.70M446.4 176.0h0.70M453.8 178.0h0.70M447.8 178.1h0.70M456.7 176.7h0.70M457.3 175.3h0.70M458.0 181.7h0.70M445.5 181.0h0.70M455.6 174.9h0.70M447.1 180.4h0.70M447.2 177.8h0.70M448.6 180.4h0.70M453.3 185.4h0.70M446.5 191.8h0.70M446.5 186.8h0.70M447.7 172.7h0.70M445.8 177.5h0.70M455.2 170.2h0.70M444.6 178.4h0.70M452.6 180.7h0.70M453.8 178.3h0.70M447.1 184.3h0.70M459.2 180.7h0.70M449.5 175.3h0.70M461.6 180.8h0.70M452.4 172.0h0.70M452.3 189.6h0.70M447.5 178.1h0.70M458.0 178.2h0.70M453.7 187.5h0.70M441.3 175.4h0.70M452.7 179.5h0.70M448.8 178.3h0.70M449.3 180.6h0.70M445.6 177.8h0.70M450.0 174.3h0.70M451.3 169.5h0.70M452.5 178.5h0.70M441.2 184.9h0.70M441.3 188.0h0.70M444.0 184.3h0.70M448.1 186.0h0.70M447.1 183.5h0.70M446.5 170.9h0.70M450.9 181.1h0.70M451.0 186.3h0.70M444.0 172.8h0.70M450.1 176.0h0.70M447.9 179.0h0.70M443.5 183.8h0.70M447.8 186.8h0.70M450.1 183.6h0.70M446.7 176.1h0.70M445.3 175.2h0.70M451.3 179.6h0.70M441.9 172.3h0.70M443.2 171.1h0.70M443.1 172.4h0.70M452.9 174.0h0.70M444.9 178.5h0.70M448.7 180.9h0.70M453.2 181.8h0.70M446.4 184.5h0.70M450.8 175.9h0.70M457.8 173.9h0.70M451.4 184.5h0.70M449.2 180.5h0.70M449.3 181.9h0.70M449.9 179.0h0.70M452.9 170.8h0.70M450.1 177.7h0.70M460.6 180.3h0.70M444.5 181.9h0.70M446.2 173.8h0.70M446.8 181.2h0.70M455.8 183.6h0.70M449.9 178.3h0.70M449.8 184.3h0.70M447.8 184.1h0.70M443.6 179.0h0.70M453.3 182.1h0.70M449.8 176.8h0.70M437.5 177.1h0.70M443.3 177.3h0.70M458.2 175.7h0.70M453.7 178.9h0.70M441.8 179.5h0.70M453.1 173.8h0.70M441.4 177.4h0.70M453.0 176.4h0.70M451.1 181.0h0.70M448.6 181.0h0.70M456.3 178.2h0.70M450.5 174.4h0.70M444.1 178.6h0.70M453.5 176.1h0.70M440.0 183.0h0.70M463.0 167.8h0.70M442.0 179.5h0.70M451.5 174.9h0.70M450.6 183.8h0.70M446.9 182.2h0.70M449.3 175.0h0.70M444.8 176.4h0.70M456.6 184.0h0.70M450.0 172.2h0.70M445.5 177.3h0.70M436.8 178.9h0.70M450.3 173.3h0.70M445.9 177.0h0.70M459.8 181.9h0.70M453.2 179.4h0.70M440.7 183.0h0.70M444.4 170.7h0.70M453.0 177.5h0.70M448.5 181.2h0.70M447.1 180.8h0.70M456.4 177.6h0.70M446.4 179.1h0.70M452.5 177.3h0.70M449.0 176.0h0.70M448.1 181.4h0.70M443.6 178.2h0.70M439.7 176.0h0.70M449.0 181.3h0.70M442.3 178.6h0.70M442.9 180.4h0.70M450.1 180.9h0.70M447.2 172.8h0.70M445.1 173.2h0.70M444.4 178.8h0.70M455.1 176.2h0.70M443.8 179.9h0.70M436.0 187.6h0.70M439.2 183.4h0.70M454.5 183.2h0.70M447.9 182.2h0.70M446.4 183.2h0.70M444.6 175.5h0.70M450.8 177.0h0.70M452.6 175.3h0.70M450.1 174.7h0.70M447.9 188.3h0.70M442.0 173.7h0.70M438.8 178.0h0.70M458.3 177.1h0.70M454.1 178.2h0.70M444.7 187.7h0.70M455.0 171.0h0.70M442.6 180.8h0.70M452.4 178.0h0.70M450.4 181.3h0.70M446.4 183.3h0.70M443.4 182.3h0.70M454.0 179.9h0.70M446.4 178.9h0.70M435.1 180.1h0.70M439.9 170.3h0.70M453.1 175.0h0.70M450.7 179.2h0.70M437.9 175.1h0.70M446.9 181.0h0.70M448.9 173.5h0.70M445.3 179.5h0.70M440.9 177.1h0.70M445.2 169.8h0.70M458.9 182.8h0.70M445.7 183.1h0.70M442.2 185.6h0.70M446.3 179.6h0.70M445.0 179.4h0.70M450.5 179.1h0.70M443.5 182.3h0.70M451.9 179.0h0.70M454.8 175.8h0.70M456.2 178.3h0.70M457.6 177.1h0.70M447.0 179.9h0.70M455.1 185.2h0.70M445.8 175.9h0.70M453.1 184.4h0.70M452.7 177.6h0.70M456.2 178.9h0.70M449.5 181.7h0.70M445.1 169.2h0.70M449.8 182.1h0.70M451.1 181.4h0.70M449.5 183.5h0.70M449.2 185.5h0.70M448.8 182.5h0.70M445.2 180.3h0.70M451.1 179.6h0.70M457.8 179.2h0.70M455.3 180.5h0.70M455.1 175.1h0.70M446.3 183.2h0.70M443.6 180.7h0.70" stroke="#000" stroke-width="0.70" stroke-opacity="1.0" fill="none"/>
<path d="M451.5 183.4h0.60M450.2 185.7h0.60M443.7 184.8h0.60M441.0 178.9h0.60M430.7 181.3h0.60M429.6 182.2h0.60M448.1 174.5h0.60M446.7 184.0h0.60M442.6 175.7h0.60M444.9 184.8h0.60M455.0 195.4h0.60M426.9 184.4h0.60M450.2 177.6h0.60M449.1 196.4h0.60M447.1 191.4h0.60M456.3 179.0h0.60M423.6 190.0h0.60M460.9 169.9h0.60M444.1 177.2h0.60M448.0 182.4h0.60M457.1 177.9h0.60M464.7 170.2h0.60M448.1 200.5h0.60M445.1 186.3h0.60M441.4 204.8h0.60M454.7 179.6h0.60M427.5 183.5h0.60M453.1 167.9h0.60M441.3 185.9h0.60M422.8 180.7h0.60M430.6 172.7h0.60M449.9 189.9h0.60M457.3 177.5h0.60M450.9 169.8h0.60M431.7 185.8h0.60M442.2 175.0h0.60M427.9 180.4h0.60M467.6 168.1h0.60M435.9 189.8h0.60M427.4 177.7h0.60M446.7 189.8h0.60M445.3 194.6h0.60M445.7 181.2h0.60M450.3 184.4h0.60M431.5 175.4h0.60M443.7 184.4h0.60M434.1 177.1h0.60M438.8 184.4h0.60M441.8 186.2h0.60M449.8 175.7h0.60M443.1 173.4h0.60M447.1 187.6h0.60M436.4 169.7h0.60M451.0 180.0h0.60M445.7 185.2h0.60M449.7 188.4h0.60M441.6 166.7h0.60M441.3 179.9h0.60M442.0 184.7h0.60M443.6 191.0h0.60M439.9 182.0h0.60M442.5 196.7h0.60M436.7 175.1h0.60M442.3 187.3h0.60M446.1 180.8h0.60M431.8 167.6h0.60M443.9 180.3h0.60M463.1 184.6h0.60M450.1 188.7h0.60M437.3 173.5h0.60M442.4 192.3h0.60M455.6 177.9h0.60M433.9 188.5h0.60M456.7 174.4h0.60M461.7 176.6h0.60M453.3 180.6h0.60M442.8 177.8h0.60M452.8 186.3h0.60M453.9 180.0h0.60M437.7 196.9h0.60M462.7 180.7h0.60M434.8 192.4h0.60M447.3 182.4h0.60M454.3 184.4h0.60M447.1 195.8h0.60M427.6 186.5h0.60M436.4 182.5h0.60M444.3 183.8h0.60M422.4 186.8h0.60M468.8 179.1h0.60M454.8 186.4h0.60M448.9 178.5h0.60M452.2 183.9h0.60M460.2 187.8h0.60M439.0 161.7h0.60M460.8 185.4h0.60M447.7 177.8h0.60M470.6 191.3h0.60M447.0 179.4h0.60M451.6 191.5h0.60M451.1 188.6h0.60M448.6 184.5h0.60M433.6 182.9h0.60M446.5 181.5h0.60M443.6 184.1h0.60M440.3 180.6h0.60M433.1 198.1h0.60M437.2 173.6h0.60M440.7 179.1h0.60M435.4 165.0h0.60M462.2 189.1h0.60M442.3 185.9h0.60M435.0 170.7h0.60M449.3 186.0h0.60M439.2 182.0h0.60M456.4 183.2h0.60M447.8 186.0h0.60M425.4 173.0h0.60M433.4 183.7h0.60M439.8 168.8h0.60M454.8 180.7h0.60M455.8 196.0h0.60M429.7 173.1h0.60M456.7 191.8h0.60M449.9 184.5h0.60M452.9 186.6h0.60M433.4 187.2h0.60M455.8 179.2h0.60M436.9 178.6h0.60M440.2 185.7h0.60M453.7 182.2h0.60M443.0 169.6h0.60M441.8 175.1h0.60M440.5 184.4h0.60M447.6 206.4h0.60M437.3 178.3h0.60M434.6 180.2h0.60M443.2 189.0h0.60M426.6 188.3h0.60M452.4 178.3h0.60M439.2 183.4h0.60M451.2 180.9h0.60M444.4 182.1h0.60M435.2 183.9h0.60M451.7 182.4h0.60M434.7 182.0h0.60M444.9 184.2h0.60M441.8 187.8h0.60M456.8 187.7h0.60M448.3 190.5h0.60M445.6 180.9h0.60M431.8 182.1h0.60M458.0 175.4h0.60M453.7 173.2h0.60M448.9 194.7h0.60M446.4 173.9h0.60M448.8 181.0h0.60M453.9 178.4h0.60M428.8 178.7h0.60M451.8 189.1h0.60M448.7 182.2h0.60M452.8 180.7h0.60M441.5 183.6h0.60M456.8 178.6h0.60M450.9 177.6h0.60M438.7 183.2h0.60M432.7 176.1h0.60M434.1 177.9h0.60M436.9 198.1h0.60M452.0 182.5h0.60M432.7 165.7h0.60M450.3 177.7h0.60M456.4 179.3h0.60M433.0 177.6h0.60M430.8 172.3h0.60M453.0 178.4h0.60M452.8 178.2h0.60M443.6 178.2h0.60M440.5 177.5h0.60M460.8 181.6h0.60M426.6 193.6h0.60M458.4 189.7h0.60M444.9 181.0h0.60M441.2 182.9h0.60M450.6 182.0h0.60M437.8 175.4h0.60M462.5 193.6h0.60M433.6 177.6h0.60M445.5 186.0h0.60M444.8 183.7h0.60M449.5 189.8h0.60M432.9 189.5h0.60M450.3 185.7h0.60M430.9 180.5h0.60M443.3 186.4h0.60M452.7 186.7h0.60M433.0 190.6h0.60M446.6 188.4h0.60M445.8 177.2h0.60M472.0 186.5h0.60M453.5 178.9h0.60M443.7 189.6h0.60M450.3 193.9h0.60M457.8 174.7h0.60M430.6 189.9h0.60M451.9 180.3h0.60M443.0 178.2h0.60M463.8 180.9h0.60M432.1 188.2h0.60M445.0 184.4h0.60M442.1 181.8h0.60M427.1 185.7h0.60M439.0 179.4h0.60M449.0 190.7h0.60M424.4 181.1h0.60M451.3 188.9h0.60M436.8 184.2h0.60M449.8 188.3h0.60M439.7 180.8h0.60M440.8 189.7h0.60M456.7 179.0h0.60M444.5 183.5h0.60M436.9 181.3h0.60M454.5 187.3h0.60M439.1 177.7h0.60M444.7 172.1h0.60M448.9 182.9h0.60M432.5 180.5h0.60M439.2 180.2h0.60M437.1 191.2h0.60M436.2 187.2h0.60M447.9 191.8h0.60M445.3 182.1h0.60M446.5 169.4h0.60M469.8 180.6h0.60M442.7 174.5h0.60M444.5 192.9h0.60M438.3 185.0h0.60M456.1 188.4h0.60M441.8 170.4h0.60M449.9 185.9h0.60M442.6 179.2h0.60M463.3 171.5h0.60M440.7 178.0h0.60M430.2 177.4h0.60M437.9 190.4h0.60M428.4 172.9h0.60M448.4 171.7h0.60M425.8 177.9h0.60M433.8 175.6h0.60M444.2 185.1h0.60M439.4 180.2h0.60M452.9 181.1h0.60M453.1 178.2h0.60M450.7 190.6h0.60M432.0 202.0h0.60M442.6 179.8h0.60M444.2 185.2h0.60M433.8 182.3h0.60M440.0 191.6h0.60M428.6 186.4h0.60M442.7 177.1h0.60M447.2 180.5h0.60M446.2 183.7h0.60M457.8 179.4h0.60M462.5 164.1h0.60M464.0 190.2h0.60M461.4 183.4h0.60M448.6 175.4h0.60M459.2 174.4h0.60M437.9 182.1h0.60M448.1 184.3h0.60M434.2 179.8h0.60M450.7 190.0h0.60M453.4 184.8h0.60M443.2 178.5h0.60M440.7 181.5h0.60M451.1 178.7h0.60M466.3 175.5h0.60M453.9 180.7h0.60M444.4 179.6h0.60M461.1 180.1h0.60M451.3 182.9h0.60M453.3 186.0h0.60M462.3 177.3h0.60M437.6 193.3h0.60M458.5 182.6h0.60M443.0 183.8h0.60M458.8 177.0h0.60M460.3 181.7h0.60M442.2 179.5h0.60M424.9 184.2h0.60M432.7 178.4h0.60M436.9 183.7h0.60M453.0 182.4h0.60M447.7 184.8h0.60M461.8 185.9h0.60M461.5 181.7h0.60M449.3 177.8h0.60M451.7 176.4h0.60M450.5 177.9h0.60M442.3 190.2h0.60M447.3 187.3h0.60M443.4 169.8h0.60M460.5 180.9h0.60M439.4 188.4h0.60M434.5 177.2h0.60M457.2 177.5h0.60M457.1 180.1h0.60M443.7 182.6h0.60M440.8 189.2h0.60M456.7 182.5h0.60M451.9 185.7h0.60M462.6 171.6h0.60M456.0 188.1h0.60M442.7 182.2h0.60M442.4 190.3h0.60M434.4 186.1h0.60M458.6 185.9h0.60M441.0 179.1h0.60M424.7 175.3h0.60M456.7 175.9h0.60M429.5 180.5h0.60M431.0 185.1h0.60M437.1 188.4h0.60M444.7 172.8h0.60M438.1 177.8h0.60M437.4 190.3h0.60M435.8 184.5h0.60M440.0 186.0h0.60M431.6 171.8h0.60M450.9 191.5h0.60M432.0 180.0h0.60M440.8 175.9h0.60M455.5 182.4h0.60M432.0 180.7h0.60M459.1 177.4h0.60M440.7 176.7h0.60M447.4 178.5h0.60M454.7 176.6h0.60M431.3 185.1h0.60M448.6 183.7h0.60M440.1 179.2h0.60M451.0 206.7h0.60M437.8 180.9h0.60M441.3 185.8h0.60M445.9 185.8h0.60M462.1 180.3h0.60M442.9 184.6h0.60M466.8 179.8h0.60M462.7 189.9h0.60M436.0 184.7h0.60M459.1 182.5h0.60M447.5 196.4h0.60M449.4 196.3h0.60M436.9 193.0h0.60M440.8 166.1h0.60M437.6 179.0h0.60M445.4 187.1h0.60M452.7 185.6h0.60M438.4 193.9h0.60M457.8 182.4h0.60M440.1 181.8h0.60M443.6 177.5h0.60M445.7 177.7h0.60M452.3 177.8h0.60M450.7 184.2h0.60M447.5 185.6h0.60M435.6 199.1h0.60M438.9 187.0h0.60M446.1 179.3h0.60M463.2 189.4h0.60M443.1 185.8h0.60M452.7 192.6h0.60M456.0 181.0h0.60M443.3 174.4h0.60M448.5 187.8h0.60" stroke="#333" stroke-width="0.60" stroke-opacity="1.0" fill="none"/>
<path d="M444.2 211.2h0.70M447.0 204.2h0.70M439.8 214.0h0.70M460.0 210.5h0.70M440.5 200.7h0.70M447.7 211.2h0.70M454.5 192.0h0.70M456.3 208.1h0.70M447.1 209.5h0.70M444.4 205.3h0.70M452.0 196.3h0.70M445.7 210.6h0.70M437.4 206.1h0.70M454.6 209.4h0.70M450.2 211.5h0.70M447.5 209.3h0.70M442.0 205.8h0.70M456.3 199.4h0.70M445.4 199.2h0.70M443.5 202.3h0.70M439.7 208.6h0.70M441.2 210.4h0.70M456.1 191.1h0.70M445.5 194.0h0.70M445.7 209.4h0.70M447.5 214.7h0.70M447.2 196.3h0.70M454.5 201.2h0.70M445.9 209.1h0.70M441.6 207.7h0.70M454.4 196.5h0.70M437.4 204.3h0.70M445.5 199.1h0.70M433.9 212.8h0.70M448.5 198.8h0.70M449.5 206.7h0.70M447.2 198.7h0.70M445.2 210.1h0.70M436.9 200.5h0.70M451.6 219.6h0.70M449.9 206.6h0.70M440.5 204.5h0.70M445.0 209.9h0.70M445.0 222.6h0.70M453.5 193.3h0.70M440.0 207.1h0.70M451.7 209.6h0.70M431.5 196.7h0.70M453.7 210.8h0.70M460.2 212.1h0.70M448.9 216.7h0.70M444.0 203.7h0.70M440.9 208.6h0.70M448.7 213.0h0.70M454.2 211.0h0.70M453.0 205.5h0.70M441.2 211.7h0.70M451.9 215.5h0.70M445.5 204.1h0.70M444.4 209.3h0.70M446.1 205.9h0.70M447.8 205.2h0.70M448.2 203.3h0.70M438.0 205.1h0.70M456.6 202.0h0.70M451.3 215.6h0.70M443.4 208.7h0.70M434.0 210.7h0.70M454.7 208.2h0.70M435.6 203.4h0.70M442.4 207.8h0.70M447.9 204.5h0.70M444.7 201.9h0.70M449.5 208.3h0.70M448.3 203.9h0.70M449.1 205.2h0.70M448.0 206.1h0.70M442.8 200.1h0.70M436.3 198.4h0.70M448.9 227.7h0.70M437.5 201.9h0.70M446.3 229.6h0.70M445.3 199.7h0.70M448.7 220.3h0.70M431.3 199.6h0.70M453.1 199.7h0.70M445.8 203.1h0.70M450.5 197.8h0.70M448.1 208.4h0.70M449.4 209.8h0.70M447.2 195.8h0.70M444.6 201.0h0.70M449.3 205.6h0.70M447.2 214.0h0.70M445.8 217.7h0.70M450.9 197.6h0.70M443.2 214.8h0.70M443.7 214.6h0.70M443.4 206.3h0.70M452.0 197.0h0.70M446.8 204.2h0.70M447.3 217.9h0.70M449.0 198.4h0.70M451.6 204.2h0.70M447.3 214.4h0.70M444.7 213.1h0.70M447.4 201.3h0.70M444.7 198.4h0.70M452.8 208.1h0.70M451.6 199.9h0.70M451.0 199.4h0.70M447.9 206.9h0.70M443.2 209.0h0.70M446.6 201.5h0.70M442.4 198.7h0.70M453.8 208.0h0.70M444.4 211.4h0.70M441.7 199.6h0.70M448.3 217.1h0.70M448.0 208.0h0.70M455.8 197.2h0.70M462.9 200.0h0.70M446.0 198.5h0.70M439.8 205.5h0.70M459.6 201.0h0.70M443.1 208.7h0.70M440.9 205.4h0.70M450.8 193.1h0.70M444.8 205.1h0.70M443.6 206.3h0.70M436.7 204.2h0.70M443.6 200.4h0.70M453.2 219.8h0.70M450.7 201.5h0.70M454.1 210.2h0.70M442.0 210.9h0.70M443.3 210.7h0.70M451.4 214.4h0.70M440.7 206.2h0.70M446.4 199.2h0.70M448.6 211.4h0.70M438.9 203.5h0.70M440.4 198.9h0.70M440.6 215.8h0.70M442.8 204.5h0.70M451.7 213.6h0.70M454.0 193.7h0.70M450.5 195.8h0.70M443.0 204.3h0.70M443.3 219.6h0.70M445.5 214.5h0.70M445.4 206.6h0.70M449.2 209.8h0.70M449.1 195.9h0.70M449.1 209.1h0.70M449.6 206.7h0.70M448.6 198.7h0.70M452.5 199.2h0.70M454.0 213.5h0.70M446.1 205.1h0.70M450.6 205.1h0.70M440.0 208.8h0.70M439.8 204.1h0.70M456.1 212.2h0.70M444.0 206.6h0.70M442.9 206.9h0.70M438.6 211.4h0.70M446.5 203.1h0.70M443.1 223.9h0.70M444.0 203.9h0.70M443.3 203.8h0.70M453.5 211.3h0.70M448.7 209.3h0.70M440.3 191.5h0.70M454.6 211.6h0.70M447.6 208.8h0.70M447.5 207.1h0.70M445.0 192.7h0.70M449.5 207.3h0.70M451.7 209.0h0.70M444.9 210.9h0.70M447.4 204.2h0.70M444.4 204.3h0.70M444.8 204.1h0.70M451.7 225.7h0.70M445.8 214.2h0.70M435.7 186.3h0.70M443.8 206.0h0.70M442.4 198.3h0.70M441.8 203.7h0.70M447.2 204.8h0.70M439.9 204.6h0.70M454.6 201.3h0.70M446.8 213.5h0.70M442.1 203.3h0.70M462.0 215.0h0.70M443.6 208.0h0.70M446.9 207.9h0.70M448.9 205.1h0.70M434.4 200.8h0.70M447.2 198.2h0.70M444.7 216.6h0.70M447.7 202.8h0.70M447.1 213.7h0.70M437.2 199.0h0.70M442.8 204.2h0.70M445.9 203.3h0.70M447.0 207.6h0.70M440.1 203.0h0.70M439.7 208.8h0.70M447.8 211.2h0.70M441.7 203.6h0.70M434.4 207.1h0.70M437.7 209.2h0.70M452.2 209.9h0.70M449.8 208.5h0.70M448.4 213.0h0.70M453.2 220.0h0.70M445.0 212.3h0.70M451.1 209.7h0.70M447.8 198.9h0.70M452.3 201.3h0.70M442.9 201.5h0.70M449.4 200.8h0.70M448.9 210.6h0.70M446.9 204.8h0.70M449.6 215.4h0.70M443.9 200.3h0.70M443.2 201.4h0.70M445.1 206.0h0.70M434.0 216.4h0.70M442.0 204.3h0.70M435.8 194.4h0.70M440.9 208.5h0.70M451.0 195.4h0.70M447.6 216.7h0.70M444.9 212.9h0.70M448.1 201.1h0.70M451.8 203.1h0.70M448.3 204.4h0.70M445.2 208.0h0.70M453.5 196.2h0.70M440.4 207.7h0.70M451.6 205.8h0.70M445.4 210.4h0.70M454.9 201.2h0.70M437.8 205.2h0.70M450.5 198.6h0.70M452.5 213.0h0.70M450.6 201.6h0.70M439.4 211.2h0.70M447.8 211.4h0.70M439.1 188.1h0.70M452.4 213.4h0.70M444.9 207.0h0.70M448.8 211.8h0.70M445.4 203.7h0.70M441.1 213.6h0.70M446.9 185.2h0.70M448.2 203.3h0.70M439.5 203.7h0.70M439.5 204.1h0.70M443.4 210.3h0.70M440.9 195.4h0.70M443.1 198.2h0.70M450.4 205.7h0.70M437.4 201.4h0.70M446.2 206.7h0.70M436.5 206.2h0.70M448.0 213.3h0.70M452.3 206.2h0.70M439.4 204.6h0.70M449.9 201.1h0.70M453.2 200.9h0.70M440.3 212.3h0.70M445.9 209.0h0.70M444.8 207.2h0.70M443.2 219.1h0.70M449.9 206.2h0.70M448.9 212.3h0.70M443.6 208.1h0.70M447.5 203.4h0.70M442.2 205.7h0.70M444.8 204.4h0.70M435.9 207.5h0.70M449.9 207.5h0.70M455.6 212.5h0.70M444.5 202.7h0.70M449.1 204.6h0.70M437.7 207.8h0.70M444.8 205.6h0.70M449.7 208.2h0.70M457.3 202.3h0.70M445.9 209.0h0.70M444.0 203.7h0.70M455.8 197.7h0.70M448.3 195.8h0.70M448.2 194.7h0.70M440.1 214.2h0.70M454.7 207.8h0.70M431.8 213.5h0.70M447.7 199.9h0.70M444.5 198.6h0.70M445.9 206.4h0.70M447.1 212.0h0.70M442.9 192.9h0.70M440.1 199.0h0.70M444.4 204.2h0.70M446.2 215.7h0.70M446.5 200.1h0.70M444.7 201.4h0.70M445.1 210.7h0.70M440.3 211.5h0.70M456.0 216.7h0.70M455.1 207.6h0.70M439.1 219.8h0.70M446.1 208.5h0.70M444.5 201.0h0.70M449.7 198.1h0.70M439.0 210.5h0.70M444.4 201.6h0.70M449.1 216.0h0.70M444.9 206.1h0.70M449.4 213.0h0.70M452.0 211.3h0.70M442.8 210.4h0.70M446.4 196.2h0.70M453.0 210.6h0.70M453.8 206.6h0.70M450.3 206.5h0.70M447.3 212.8h0.70M446.7 210.9h0.70M446.2 214.8h0.70M449.9 196.5h0.70M455.3 209.8h0.70M443.7 203.0h0.70M457.1 207.6h0.70M449.1 210.8h0.70M443.2 218.1h0.70M457.7 202.1h0.70M452.5 196.7h0.70M444.6 207.4h0.70M446.7 210.6h0.70M448.6 209.4h0.70M445.7 208.9h0.70M443.4 219.5h0.70M446.7 214.9h0.70M447.0 206.1h0.70M445.4 198.8h0.70M457.6 209.6h0.70M447.1 204.1h0.70M453.3 204.9h0.70M443.9 203.6h0.70M454.7 209.0h0.70M445.6 202.9h0.70M453.3 208.8h0.70M444.6 212.7h0.70M451.1 200.7h0.70M452.6 213.9h0.70M445.1 198.6h0.70M452.3 204.8h0.70M445.3 205.2h0.70M445.0 212.3h0.70M440.6 210.4h0.70M452.6 213.7h0.70M450.3 208.7h0.70M445.4 206.3h0.70M441.7 217.6h0.70M445.8 200.6h0.70M450.9 216.5h0.70M447.9 205.0h0.70M440.5 211.1h0.70M445.1 202.8h0.70M449.6 198.9h0.70M450.4 191.7h0.70M443.1 198.0h0.70M445.1 212.0h0.70M439.5 215.6h0.70M442.8 204.0h0.70M451.7 202.4h0.70M454.2 205.7h0.70M445.9 201.0h0.70M452.6 206.6h0.70M443.9 201.0h0.70M443.1 206.4h0.70M442.6 212.0h0.70M446.3 203.1h0.70M448.9 216.0h0.70M435.4 209.3h0.70M452.2 207.9h0.70M450.8 197.3h0.70M442.5 213.3h0.70M446.0 207.4h0.70M449.8 209.3h0.70M448.8 203.9h0.70M444.9 215.2h0.70M443.9 198.0h0.70M444.6 212.6h0.70M456.0 208.0h0.70M443.2 210.8h0.70M448.1 214.4h0.70M449.2 211.7h0.70M449.2 209.6h0.70M441.7 206.0h0.70M455.0 215.3h0.70M451.6 209.5h0.70M445.9 209.2h0.70M444.7 213.8h0.70M444.8 202.3h0.70M438.0 216.7h0.70M442.5 201.6h0.70M448.6 218.3h0.70M450.0 204.9h0.70M449.5 201.9h0.70M445.2 207.2h0.70M446.6 211.9h0.70M449.4 218.8h0.70M450.9 205.2h0.70M447.9 201.7h0.70M443.3 204.9h0.70M451.9 202.7h0.70M438.3 200.7h0.70M440.2 205.9h0.70M444.9 199.7h0.70M442.4 204.4h0.70M448.6 210.8h0.70M453.5 205.4h0.70M449.9 207.5h0.70M440.8 203.1h0.70M458.0 206.0h0.70M455.2 212.2h0.70M455.3 205.8h0.70M451.5 205.1h0.70M440.7 199.7h0.70M448.9 197.0h0.70M448.5 201.6h0.70M448.4 198.5h0.70M451.0 205.6h0.70M438.6 198.0h0.70M446.9 196.8h0.70M448.3 210.0h0.70M443.1 215.7h0.70M454.2 209.0h0.70M449.0 210.0h0.70M445.2 215.2h0.70M443.8 191.3h0.70M446.7 209.8h0.70M450.9 200.1h0.70M453.9 201.9h0.70M449.9 211.6h0.70M447.5 214.1h0.70M444.0 219.8h0.70M449.2 204.4h0.70M460.2 207.0h0.70M438.1 215.9h0.70M454.7 203.4h0.70M441.4 214.1h0.70M446.9 201.0h0.70M444.1 207.4h0.70M451.7 216.8h0.70M443.4 216.6h0.70M438.7 211.5h0.70M445.9 209.7h0.70M444.3 202.6h0.70M448.1 214.1h0.70M435.0 207.3h0.70M444.5 200.3h0.70M439.6 210.2h0.70M449.5 211.0h0.70M436.2 197.5h0.70M443.4 204.3h0.70M455.8 204.6h0.70M447.3 213.2h0.70M455.3 209.3h0.70M448.4 219.1h0.70M444.5 195.8h0.70M442.7 205.1h0.70M453.5 209.0h0.70M452.9 207.7h0.70M446.8 203.4h0.70M440.2 210.2h0.70M448.5 210.6h0.70M443.8 204.4h0.70M448.6 210.8h0.70M457.0 201.6h0.70M451.8 212.5h0.70M445.3 207.9h0.70M446.3 216.6h0.70M459.9 209.0h0.70M445.3 213.0h0.70M449.2 205.9h0.70M450.6 212.5h0.70M444.6 212.3h0.70M434.9 199.0h0.70M445.0 208.0h0.70M439.0 216.2h0.70M444.7 208.0h0.70M446.4 211.7h0.70M443.6 211.7h0.70M442.3 197.8h0.70M449.3 208.0h0.70M451.2 194.9h0.70M447.2 203.0h0.70M445.6 204.6h0.70M444.7 202.8h0.70M452.0 196.3h0.70M437.9 209.2h0.70M457.1 202.2h0.70M441.9 199.7h0.70M441.3 214.8h0.70M450.2 212.6h0.70M448.4 208.5h0.70M443.6 201.0h0.70M449.9 222.5h0.70M444.7 215.0h0.70M443.0 207.3h0.70M455.5 206.6h0.70M449.9 203.5h0.70M456.4 199.3h0.70M449.6 205.5h0.70M447.7 209.3h0.70M453.5 212.5h0.70M452.1 209.3h0.70M441.1 215.4h0.70M454.7 210.0h0.70M450.8 205.6h0.70M439.1 213.2h0.70M442.8 219.0h0.70M450.2 206.9h0.70M443.4 207.7h0.70M441.4 204.7h0.70M455.0 205.2h0.70M456.2 206.4h0.70M448.8 201.2h0.70M445.1 204.2h0.70M439.4 219.1h0.70M449.7 206.5h0.70M440.9 207.2h0.70M441.1 200.9h0.70M445.6 220.6h0.70M437.5 210.5h0.70M443.8 188.8h0.70M439.2 206.2h0.70M446.9 202.3h0.70M455.9 210.4h0.70M443.3 196.7h0.70M447.5 202.8h0.70M452.0 200.5h0.70M452.9 204.1h0.70M447.6 205.3h0.70M449.9 214.2h0.70M443.8 201.3h0.70M456.5 213.0h0.70M456.6 213.0h0.70M447.3 217.3h0.70M443.1 204.3h0.70M444.5 211.3h0.70M442.1 205.9h0.70M442.2 205.5h0.70M452.5 214.0h0.70M445.4 223.0h0.70M442.9 209.9h0.70M444.1 193.1h0.70M440.4 214.8h0.70M437.9 225.4h0.70M445.9 208.7h0.70M453.2 207.2h0.70M443.3 203.2h0.70M441.7 210.5h0.70M444.1 210.2h0.70M438.7 204.3h0.70M457.4 209.3h0.70M446.0 214.5h0.70M448.0 216.7h0.70M440.5 211.8h0.70M441.0 211.3h0.70M459.5 216.7h0.70M442.1 209.7h0.70M449.0 202.5h0.70M447.8 200.3h0.70M451.6 212.8h0.70M445.7 211.3h0.70M459.1 206.0h0.70M436.8 209.1h0.70M444.2 202.1h0.70M451.3 213.3h0.70M449.7 217.3h0.70M443.2 204.4h0.70M448.8 190.0h0.70M432.2 209.2h0.70M445.4 207.4h0.70M441.5 208.4h0.70M452.1 203.0h0.70M449.5 206.0h0.70M445.7 207.7h0.70M454.5 210.3h0.70M450.1 208.0h0.70M435.3 213.0h0.70M446.4 207.6h0.70M443.9 197.3h0.70" stroke="#000" stroke-width="0.70" stroke-opacity="1.0" fill="none"/>
<path d="M461.0 221.8h0.60M461.8 190.2h0.60M452.3 195.9h0.60M445.5 201.6h0.60M441.5 199.4h0.60M442.8 212.7h0.60M462.1 214.0h0.60M447.1 204.8h0.60M445.0 205.8h0.60M441.5 204.5h0.60M455.1 204.1h0.60M439.7 205.0h0.60M448.0 205.3h0.60M444.8 212.1h0.60M446.8 197.3h0.60M452.5 199.9h0.60M454.4 213.1h0.60M451.7 208.7h0.60M434.7 204.3h0.60M448.4 211.5h0.60M436.8 204.7h0.60M432.9 207.5h0.60M447.9 207.1h0.60M462.5 212.3h0.60M445.4 201.0h0.60M443.1 212.8h0.60M455.7 201.7h0.60M446.1 202.3h0.60M453.6 207.7h0.60M440.5 198.4h0.60M459.3 194.0h0.60M430.3 179.5h0.60M466.1 201.4h0.60M455.1 210.8h0.60M455.0 215.8h0.60M442.8 205.9h0.60M456.3 210.8h0.60M440.1 199.5h0.60M433.7 208.3h0.60M442.2 192.6h0.60M442.0 208.8h0.60M448.9 204.1h0.60M448.7 211.6h0.60M436.0 199.0h0.60M456.2 212.3h0.60M434.1 199.8h0.60M460.7 212.5h0.60M445.8 214.8h0.60M460.0 218.2h0.60M434.2 194.9h0.60M442.4 205.6h0.60M443.9 208.1h0.60M461.0 215.5h0.60M456.4 206.0h0.60M462.6 210.0h0.60M449.4 205.9h0.60M430.0 224.5h0.60M447.0 213.8h0.60M468.4 204.4h0.60M436.3 214.8h0.60M449.4 197.9h0.60M456.2 206.1h0.60M438.3 184.3h0.60M437.9 209.3h0.60M437.5 214.4h0.60M467.8 208.8h0.60M449.3 205.4h0.60M455.2 206.3h0.60M456.9 218.2h0.60M455.2 197.8h0.60M453.4 203.8h0.60M450.1 214.4h0.60M441.0 207.8h0.60M460.9 198.9h0.60M445.4 212.3h0.60M445.0 214.8h0.60M437.7 193.2h0.60M450.7 204.9h0.60M450.1 214.3h0.60M457.0 203.0h0.60M443.6 189.4h0.60M438.0 208.1h0.60M449.2 193.3h0.60M454.5 205.7h0.60M457.5 203.0h0.60M456.2 196.5h0.60M429.8 199.1h0.60M453.7 209.5h0.60M429.5 207.3h0.60M453.5 220.4h0.60M454.5 210.4h0.60M432.3 209.2h0.60M428.7 203.5h0.60M443.7 197.7h0.60M437.7 204.8h0.60M452.6 200.5h0.60M450.0 212.1h0.60M447.0 222.4h0.60M444.2 199.8h0.60M429.3 215.2h0.60M453.5 204.4h0.60M450.1 204.9h0.60M455.4 205.9h0.60M449.3 205.4h0.60M438.8 187.1h0.60M452.3 195.4h0.60M450.9 211.5h0.60M464.9 199.7h0.60M448.6 214.1h0.60M440.9 201.0h0.60M451.4 223.7h0.60M457.3 214.2h0.60M438.1 211.7h0.60M457.9 195.2h0.60M447.3 204.4h0.60M453.2 191.2h0.60M453.8 206.0h0.60M444.7 188.0h0.60M427.7 201.4h0.60M453.3 209.7h0.60M454.2 191.5h0.60M449.1 217.5h0.60M432.6 211.6h0.60M440.3 210.7h0.60M448.1 192.2h0.60M437.3 216.9h0.60M446.1 216.6h0.60M450.3 213.6h0.60M443.4 207.9h0.60M443.7 213.8h0.60M441.7 215.5h0.60M461.9 195.7h0.60M445.6 210.6h0.60M463.8 215.8h0.60M448.0 191.3h0.60M455.1 201.0h0.60M449.0 209.5h0.60M433.9 215.1h0.60M455.8 210.9h0.60M452.8 209.1h0.60M434.0 201.7h0.60M454.8 203.2h0.60M447.4 209.2h0.60M448.0 208.2h0.60M451.7 206.0h0.60M436.8 203.7h0.60M456.1 200.3h0.60M451.6 208.6h0.60M438.9 182.0h0.60M447.0 199.4h0.60M441.2 214.0h0.60M439.9 209.0h0.60M448.2 207.7h0.60M465.8 189.3h0.60M456.2 204.8h0.60M444.5 200.3h0.60M447.5 206.4h0.60M438.5 219.9h0.60M440.2 204.9h0.60M435.2 207.3h0.60M450.5 215.2h0.60M456.3 201.8h0.60M462.2 205.1h0.60M461.7 220.6h0.60M443.4 196.9h0.60M452.2 218.2h0.60M450.9 215.3h0.60M452.7 213.6h0.60M459.6 203.5h0.60M433.9 205.0h0.60M439.7 195.9h0.60M445.6 212.1h0.60M429.8 193.2h0.60M454.6 198.5h0.60M443.5 217.5h0.60M457.7 209.1h0.60M452.2 183.0h0.60M452.3 209.3h0.60M434.1 207.6h0.60M451.4 205.0h0.60M454.5 213.5h0.60M447.6 203.9h0.60M436.1 215.7h0.60M441.8 208.7h0.60M461.5 212.6h0.60M435.2 205.3h0.60M440.4 192.1h0.60M439.6 211.0h0.60M450.3 204.3h0.60M448.8 196.1h0.60M439.9 204.6h0.60M454.6 203.3h0.60M445.6 208.8h0.60M460.9 195.3h0.60M452.1 207.6h0.60M446.5 208.1h0.60M428.5 206.3h0.60M444.9 195.5h0.60M455.0 205.0h0.60M443.9 212.4h0.60M438.5 199.9h0.60M454.8 213.4h0.60M466.0 202.1h0.60M433.5 193.4h0.60M435.9 206.9h0.60M444.9 200.3h0.60M437.7 200.1h0.60M443.7 216.1h0.60M453.0 217.6h0.60M454.8 212.5h0.60M458.1 209.8h0.60M461.5 215.6h0.60M464.1 207.9h0.60M439.9 227.3h0.60M444.5 210.4h0.60M443.6 200.1h0.60M451.2 196.5h0.60M445.6 218.0h0.60M448.3 213.0h0.60M453.1 209.3h0.60M448.1 211.2h0.60M438.0 210.9h0.60M437.0 199.6h0.60M441.6 194.7h0.60M428.7 209.2h0.60M451.8 211.6h0.60M467.8 207.5h0.60M454.1 199.7h0.60M453.7 196.3h0.60M465.5 197.8h0.60M443.2 212.3h0.60M426.5 217.4h0.60M438.2 207.7h0.60M456.3 207.3h0.60M455.8 201.8h0.60M452.6 187.6h0.60M461.2 200.4h0.60M439.0 206.2h0.60M463.0 200.0h0.60M446.9 203.0h0.60M438.3 194.9h0.60M452.6 212.0h0.60M440.0 207.9h0.60M451.3 209.2h0.60M445.5 206.4h0.60M449.6 197.0h0.60M445.7 212.7h0.60M441.8 217.1h0.60M444.8 196.7h0.60M444.3 194.5h0.60M452.8 192.5h0.60M447.2 204.0h0.60M444.2 209.6h0.60M449.7 201.3h0.60M454.7 202.2h0.60M455.5 217.4h0.60M450.6 213.9h0.60M434.5 210.8h0.60M433.1 204.5h0.60M453.6 183.3h0.60M439.7 199.5h0.60M438.2 206.2h0.60M453.0 196.2h0.60M441.2 190.3h0.60M440.4 188.3h0.60M432.9 210.0h0.60M455.2 199.1h0.60M450.3 199.4h0.60M457.0 220.8h0.60M424.0 198.7h0.60M441.0 202.0h0.60M461.7 219.3h0.60M446.9 211.4h0.60M432.1 203.5h0.60M444.3 204.7h0.60M449.8 192.8h0.60M437.3 224.1h0.60M430.8 206.5h0.60M453.8 210.2h0.60M447.6 192.3h0.60M442.6 192.8h0.60M465.4 209.1h0.60M453.8 207.7h0.60M443.4 216.0h0.60M455.3 211.4h0.60M452.5 212.3h0.60M444.4 209.7h0.60M447.8 203.9h0.60M453.1 224.1h0.60M428.0 218.2h0.60M442.9 216.2h0.60M437.5 204.4h0.60M456.6 205.4h0.60M450.3 195.8h0.60M436.3 220.1h0.60M448.5 205.3h0.60M434.1 197.2h0.60M437.3 205.6h0.60M445.9 200.8h0.60M440.7 206.9h0.60M458.0 194.1h0.60M433.7 215.6h0.60M433.6 202.5h0.60M448.1 221.4h0.60M427.9 181.4h0.60M446.3 215.1h0.60M448.3 199.2h0.60M448.8 188.6h0.60M454.7 218.5h0.60M445.1 213.0h0.60M437.1 218.5h0.60M441.0 199.2h0.60M439.9 191.0h0.60M453.3 223.0h0.60M433.6 204.3h0.60M451.2 201.2h0.60M432.4 208.8h0.60M456.4 206.9h0.60M437.0 203.5h0.60M428.9 205.5h0.60" stroke="#333" stroke-width="0.60" stroke-opacity="1.0" fill="none"/>
<path d="M452.1 201.4h0.66M447.2 195.7h0.66M445.6 193.1h0.66M445.3 193.4h0.66M445.6 193.7h0.66M450.1 191.8h0.66M442.6 196.2h0.66M446.6 187.8h0.66M449.6 184.9h0.66M451.0 196.7h0.66M444.9 186.1h0.66M447.0 184.3h0.66M451.1 172.9h0.66M448.1 189.0h0.66M443.4 197.4h0.66M445.7 195.9h0.66M445.9 189.6h0.66M449.5 200.1h0.66M451.2 191.8h0.66M453.1 189.1h0.66M442.4 176.1h0.66M442.1 184.7h0.66M440.8 194.8h0.66M447.6 191.7h0.66M448.4 191.1h0.66M446.6 189.3h0.66M447.7 182.4h0.66M452.3 205.1h0.66M447.6 211.4h0.66M443.9 199.7h0.66M441.4 197.1h0.66M444.7 200.6h0.66M447.9 200.1h0.66M449.8 196.5h0.66M446.5 205.6h0.66M448.8 196.1h0.66M452.9 189.8h0.66M454.0 201.2h0.66M447.8 179.7h0.66M452.1 189.4h0.66M447.9 193.1h0.66M451.1 197.4h0.66M440.7 186.4h0.66M448.8 193.5h0.66M450.5 196.8h0.66M453.6 185.9h0.66M452.4 195.3h0.66M448.6 197.8h0.66M446.3 198.1h0.66M446.7 198.1h0.66M444.7 202.0h0.66M441.8 186.4h0.66M447.3 194.1h0.66M444.5 188.6h0.66M448.5 200.9h0.66M452.3 188.0h0.66M447.3 189.4h0.66M441.8 188.2h0.66M451.7 180.6h0.66M458.2 200.3h0.66M454.0 193.6h0.66M438.9 195.8h0.66M453.5 187.1h0.66M452.3 198.5h0.66M450.4 198.4h0.66M449.7 197.5h0.66M452.0 195.6h0.66M449.9 195.7h0.66M448.0 184.6h0.66M440.8 183.4h0.66M442.9 179.4h0.66M450.1 189.2h0.66M452.3 218.6h0.66M450.4 188.1h0.66M448.9 190.3h0.66M448.6 209.8h0.66M453.5 202.9h0.66M448.6 207.2h0.66M450.6 199.6h0.66M443.2 186.8h0.66M448.2 190.2h0.66M445.6 175.0h0.66M444.7 191.1h0.66M448.7 182.9h0.66M447.0 207.5h0.66M448.1 175.3h0.66M446.8 192.1h0.66M452.3 193.7h0.66M452.7 194.9h0.66M451.9 203.6h0.66M453.3 193.7h0.66M449.9 225.5h0.66M443.0 193.7h0.66M449.3 186.0h0.66M450.6 190.7h0.66M450.5 193.7h0.66M444.1 201.0h0.66M455.0 199.9h0.66M448.6 177.3h0.66M448.7 191.8h0.66M444.6 175.7h0.66M449.2 200.3h0.66M450.2 211.5h0.66M440.5 195.0h0.66M447.4 204.2h0.66M447.4 183.8h0.66M447.3 195.8h0.66M444.8 185.3h0.66M448.5 199.5h0.66M446.7 196.2h0.66M445.7 189.1h0.66M448.3 200.3h0.66M453.5 191.0h0.66M449.2 208.9h0.66M450.7 189.0h0.66M449.1 179.9h0.66M439.7 185.5h0.66M444.9 180.6h0.66M451.4 188.2h0.66M447.9 192.7h0.66M446.8 182.0h0.66M454.8 175.1h0.66M447.4 198.0h0.66M446.8 191.2h0.66M448.7 194.1h0.66M446.3 201.3h0.66M449.4 204.9h0.66M447.9 175.0h0.66M441.4 187.7h0.66M449.2 178.1h0.66M445.5 202.7h0.66M448.8 186.0h0.66M447.1 193.0h0.66M446.0 189.4h0.66M445.2 194.0h0.66M453.4 204.5h0.66M442.9 211.9h0.66M447.1 180.1h0.66M442.0 193.3h0.66M448.4 186.6h0.66M444.6 190.2h0.66M448.5 197.8h0.66M449.6 171.7h0.66M445.4 194.3h0.66M448.9 198.9h0.66M442.0 205.5h0.66M443.1 190.3h0.66M445.8 188.0h0.66M444.7 199.0h0.66M450.5 195.1h0.66M442.9 186.7h0.66M447.4 195.5h0.66M445.5 189.8h0.66M457.3 192.6h0.66M446.5 171.0h0.66M444.8 206.0h0.66M450.7 181.8h0.66M450.5 193.5h0.66M444.6 198.9h0.66M445.3 189.5h0.66M447.6 193.9h0.66M445.9 194.6h0.66M447.6 193.7h0.66M449.0 186.6h0.66M442.5 191.4h0.66M452.1 194.9h0.66M448.4 185.7h0.66M443.3 181.4h0.66M444.2 188.9h0.66M441.9 191.0h0.66M441.8 197.6h0.66M447.5 177.0h0.66M445.5 194.0h0.66M449.0 198.7h0.66M446.3 190.8h0.66M446.7 196.7h0.66M445.0 190.7h0.66M448.1 189.1h0.66M443.6 203.7h0.66M449.4 184.2h0.66M454.8 185.5h0.66M444.4 188.9h0.66M449.5 204.9h0.66M452.6 196.8h0.66M447.8 197.7h0.66M444.7 186.0h0.66M449.5 193.8h0.66M448.4 183.3h0.66M448.5 179.7h0.66M451.0 192.2h0.66M445.2 188.0h0.66M457.8 218.9h0.66M445.0 203.8h0.66M436.9 201.7h0.66M447.6 194.3h0.66M444.0 180.8h0.66M448.4 188.3h0.66M449.4 201.1h0.66M447.1 196.7h0.66M448.2 194.1h0.66M445.7 194.1h0.66M449.2 192.7h0.66M445.9 179.6h0.66M443.6 205.5h0.66M451.3 194.6h0.66M448.6 190.8h0.66M450.1 200.3h0.66M446.7 194.7h0.66M451.1 178.5h0.66M444.1 187.2h0.66M443.3 188.3h0.66M444.5 188.7h0.66M449.3 182.0h0.66M447.9 203.9h0.66M448.3 181.6h0.66M445.4 202.1h0.66M446.6 186.7h0.66M450.4 185.9h0.66M443.5 197.3h0.66M447.6 186.5h0.66M449.3 201.5h0.66M451.5 193.0h0.66M449.3 196.3h0.66M442.1 206.3h0.66M445.1 187.3h0.66M444.6 183.8h0.66M451.6 192.1h0.66M445.5 176.4h0.66M448.2 191.6h0.66M443.8 191.2h0.66M440.9 197.6h0.66M443.1 196.3h0.66M447.9 173.9h0.66M443.5 186.5h0.66M450.5 197.2h0.66M449.9 206.4h0.66M446.5 187.7h0.66M440.7 183.2h0.66M449.6 184.9h0.66M444.4 200.2h0.66" stroke="#111" stroke-width="0.66" stroke-opacity="1.0" fill="none"/>
<path d="M468.4 183.2h0.68M472.1 175.9h0.68M471.3 180.0h0.68M471.7 179.2h0.68M470.7 183.2h0.68M470.2 181.0h0.68M471.4 179.8h0.68M471.7 181.2h0.68M471.6 176.1h0.68M469.8 180.7h0.68M471.9 183.3h0.68M470.8 178.3h0.68M469.8 175.6h0.68M470.3 181.3h0.68M470.8 176.6h0.68M470.7 180.1h0.68M470.1 183.4h0.68M471.2 182.5h0.68M470.9 177.8h0.68M471.9 182.6h0.68M470.3 177.0h0.68M471.6 178.7h0.68M469.7 179.8h0.68M471.4 178.3h0.68M470.9 182.3h0.68M471.5 176.5h0.68M471.5 184.1h0.68M471.7 179.8h0.68M471.2 176.4h0.68M470.3 178.8h0.68M472.8 180.0h0.68M469.9 183.9h0.68M472.0 176.2h0.68M470.6 176.2h0.68M471.8 174.8h0.68M472.6 177.6h0.68M469.8 184.9h0.68M471.3 180.8h0.68M471.6 177.8h0.68M471.7 179.4h0.68M471.3 180.6h0.68M472.1 177.1h0.68M469.5 181.5h0.68M473.1 181.3h0.68M470.7 181.6h0.68M469.7 180.2h0.68M469.2 180.3h0.68M471.5 183.9h0.68M470.3 182.2h0.68M472.1 177.6h0.68M470.6 175.8h0.68M470.0 181.0h0.68M468.9 179.3h0.68M471.5 183.3h0.68M468.4 180.9h0.68M470.2 174.7h0.68M469.8 181.4h0.68M470.8 181.6h0.68M470.5 181.5h0.68M469.9 177.8h0.68M470.7 176.0h0.68M472.0 179.5h0.68M469.9 178.0h0.68M469.9 180.3h0.68M470.5 182.0h0.68M469.7 179.9h0.68M469.4 179.0h0.68M472.1 179.7h0.68M471.7 179.9h0.68M469.8 178.0h0.68M469.7 180.8h0.68M471.0 186.8h0.68M472.4 182.0h0.68M469.9 180.3h0.68M470.0 185.4h0.68M470.1 182.7h0.68M469.5 181.8h0.68M469.6 179.0h0.68M471.0 180.3h0.68M470.8 179.9h0.68M470.0 179.8h0.68M470.8 177.9h0.68M471.4 180.4h0.68M470.1 183.0h0.68M470.3 175.6h0.68M472.0 179.2h0.68M472.2 181.0h0.68M470.0 182.6h0.68M471.3 182.2h0.68M470.9 183.6h0.68" stroke="#000" stroke-width="0.68" stroke-opacity="1.0" fill="none"/>
<path d="M464.5 176.3h0.64M461.7 176.9h0.64M463.5 174.9h0.64M463.2 180.2h0.64M462.9 179.4h0.64M462.3 175.0h0.64M464.5 176.7h0.64M463.7 179.2h0.64M465.3 174.4h0.64M464.1 177.5h0.64M463.6 180.8h0.64M463.1 175.8h0.64M464.0 172.7h0.64M463.8 175.1h0.64M463.8 175.4h0.64M464.0 176.5h0.64M462.6 178.2h0.64M464.3 173.6h0.64M461.9 176.5h0.64M463.0 179.8h0.64M465.2 178.0h0.64M464.7 176.3h0.64M461.8 177.7h0.64M461.4 180.5h0.64M463.7 179.5h0.64M462.7 173.6h0.64M463.2 178.1h0.64M463.2 175.9h0.64M463.5 176.6h0.64M465.0 174.2h0.64M460.9 176.8h0.64M463.7 173.8h0.64M463.4 178.0h0.64M463.8 177.7h0.64M462.6 174.0h0.64M464.5 176.3h0.64M461.8 180.3h0.64M464.3 171.1h0.64M466.4 177.3h0.64M461.6 179.0h0.64M463.8 179.7h0.64M463.4 173.5h0.64M463.2 176.1h0.64M463.7 176.6h0.64M464.1 174.4h0.64" stroke="#111" stroke-width="0.64" stroke-opacity="1.0" fill="none"/>
<path d="M457.4 175.4h0.64M458.5 172.9h0.64M458.0 181.6h0.64M455.9 178.7h0.64M458.1 178.6h0.64M458.1 177.1h0.64M458.4 177.5h0.64M456.6 176.2h0.64M460.1 179.5h0.64M457.0 174.5h0.64M457.8 178.8h0.64M459.1 175.3h0.64M455.3 176.4h0.64M456.1 179.1h0.64M459.7 177.9h0.64M458.7 177.7h0.64M460.1 178.8h0.64M459.7 174.1h0.64M457.4 176.5h0.64M455.5 175.9h0.64M458.0 176.4h0.64M460.9 176.1h0.64M457.8 176.3h0.64M457.6 173.5h0.64M459.3 176.6h0.64M458.4 176.6h0.64M457.1 173.1h0.64M457.7 177.6h0.64M457.9 178.1h0.64M457.1 175.9h0.64M458.2 176.3h0.64M458.2 179.6h0.64M457.5 176.8h0.64M457.3 177.7h0.64M458.3 174.9h0.64" stroke="#111" stroke-width="0.64" stroke-opacity="1.0" fill="none"/>
<path d="M456.2 177.1h0.56M460.4 184.9h0.56M459.2 183.4h0.56M462.8 197.6h0.56M468.8 197.5h0.56M462.8 185.3h0.56M473.3 186.2h0.56M465.8 181.1h0.56M458.9 188.5h0.56M458.6 180.2h0.56M453.5 185.7h0.56M461.5 187.2h0.56M457.0 176.8h0.56M468.4 184.2h0.56M466.6 177.4h0.56M454.6 169.4h0.56M463.8 189.8h0.56M469.7 194.3h0.56M451.5 177.7h0.56M459.0 179.4h0.56M460.8 179.4h0.56M453.6 183.8h0.56M462.7 179.6h0.56M462.2 176.5h0.56M460.1 182.1h0.56M459.4 183.6h0.56M454.7 176.2h0.56M457.2 188.3h0.56M456.5 178.6h0.56M473.4 182.5h0.56M459.8 178.9h0.56M470.5 187.1h0.56M463.5 193.2h0.56M455.1 174.3h0.56M468.4 186.5h0.56M459.1 188.6h0.56M461.5 195.3h0.56M454.7 186.1h0.56M467.7 189.2h0.56M459.9 181.7h0.56M459.5 188.0h0.56M459.7 183.2h0.56M467.9 183.4h0.56M463.4 183.3h0.56M462.1 171.1h0.56M456.6 186.1h0.56M458.3 180.4h0.56M462.3 197.3h0.56M457.6 178.5h0.56M451.7 186.7h0.56M461.7 179.1h0.56M459.6 189.7h0.56M467.9 186.1h0.56M468.7 189.9h0.56M459.4 188.6h0.56M462.9 188.5h0.56M463.6 196.4h0.56M454.8 186.1h0.56M455.8 197.5h0.56M459.0 181.9h0.56M461.9 183.7h0.56M471.9 183.7h0.56M463.4 190.2h0.56M470.7 178.4h0.56M463.8 176.3h0.56M464.8 192.2h0.56M459.0 182.4h0.56M468.9 186.6h0.56M466.6 181.3h0.56M460.2 181.9h0.56" stroke="#444" stroke-width="0.56" stroke-opacity="1.0" fill="none"/>
<rect x="423.4" y="163.2" width="59.0" height="32.20000000000002" fill="none" stroke="#222" stroke-width="0.9"/>
<rect x="418.9" y="143.6" width="89.80000000000001" height="89.80000000000001" fill="none" stroke="#222" stroke-width="1.0"/>
<text x="455" y="161.2" font-size="10.4" font-weight="bold" font-style="normal" text-anchor="middle">53.4</text>
<text x="415.6" y="43.9" font-size="3.6" text-anchor="end" fill="#333" class="t">10<tspan font-size="2.6" dy="-1.2">5</tspan></text>
<line x1="417.4" y1="42.9" x2="418.8" y2="42.9" stroke="#333" stroke-width="0.5"/>
<text x="415.6" y="63.9" font-size="3.6" text-anchor="end" fill="#333" class="t">10<tspan font-size="2.6" dy="-1.2">4</tspan></text>
<line x1="417.4" y1="62.9" x2="418.8" y2="62.9" stroke="#333" stroke-width="0.5"/>
<text x="415.6" y="84.4" font-size="3.6" text-anchor="end" fill="#333" class="t">10<tspan font-size="2.6" dy="-1.2">3</tspan></text>
<line x1="417.4" y1="83.4" x2="418.8" y2="83.4" stroke="#333" stroke-width="0.5"/>
<text x="415.6" y="105.4" font-size="3.6" text-anchor="end" fill="#333" class="t">10<tspan font-size="2.6" dy="-1.2">2</tspan></text>
<line x1="417.4" y1="104.4" x2="418.8" y2="104.4" stroke="#333" stroke-width="0.5"/>
<text x="415.6" y="120.9" font-size="3.6" text-anchor="end" fill="#333" class="t">0</text>
<line x1="417.4" y1="119.9" x2="418.8" y2="119.9" stroke="#333" stroke-width="0.5"/>
<text x="423.6" y="132.5" font-size="3.6" text-anchor="middle" fill="#333" class="t">0</text>
<line x1="423.6" y1="124.9" x2="423.6" y2="126.5" stroke="#333" stroke-width="0.5"/>
<text x="439" y="132.5" font-size="3.6" text-anchor="middle" fill="#333" class="t">10<tspan font-size="2.6" dy="-1.2">2</tspan></text>
<line x1="439" y1="124.9" x2="439" y2="126.5" stroke="#333" stroke-width="0.5"/>
<text x="460.5" y="132.5" font-size="3.6" text-anchor="middle" fill="#333" class="t">10<tspan font-size="2.6" dy="-1.2">3</tspan></text>
<line x1="460.5" y1="124.9" x2="460.5" y2="126.5" stroke="#333" stroke-width="0.5"/>
<text x="480.5" y="132.5" font-size="3.6" text-anchor="middle" fill="#333" class="t">10<tspan font-size="2.6" dy="-1.2">4</tspan></text>
<line x1="480.5" y1="124.9" x2="480.5" y2="126.5" stroke="#333" stroke-width="0.5"/>
<text x="501" y="132.5" font-size="3.6" text-anchor="middle" fill="#333" class="t">10<tspan font-size="2.6" dy="-1.2">5</tspan></text>
<line x1="501" y1="124.9" x2="501" y2="126.5" stroke="#333" stroke-width="0.5"/>
<text x="415.6" y="152.1" font-size="3.6" text-anchor="end" fill="#333" class="t">10<tspan font-size="2.6" dy="-1.2">5</tspan></text>
<line x1="417.4" y1="151.1" x2="418.8" y2="151.1" stroke="#333" stroke-width="0.5"/>
<text x="415.6" y="172.1" font-size="3.6" text-anchor="end" fill="#333" class="t">10<tspan font-size="2.6" dy="-1.2">4</tspan></text>
<line x1="417.4" y1="171.1" x2="418.8" y2="171.1" stroke="#333" stroke-width="0.5"/>
<text x="415.6" y="192.6" font-size="3.6" text-anchor="end" fill="#333" class="t">10<tspan font-size="2.6" dy="-1.2">3</tspan></text>
<line x1="417.4" y1="191.6" x2="418.8" y2="191.6" stroke="#333" stroke-width="0.5"/>
<text x="415.6" y="213.6" font-size="3.6" text-anchor="end" fill="#333" class="t">10<tspan font-size="2.6" dy="-1.2">2</tspan></text>
<line x1="417.4" y1="212.6" x2="418.8" y2="212.6" stroke="#333" stroke-width="0.5"/>
<text x="415.6" y="229.1" font-size="3.6" text-anchor="end" fill="#333" class="t">0</text>
<line x1="417.4" y1="228.1" x2="418.8" y2="228.1" stroke="#333" stroke-width="0.5"/>
<text x="423.6" y="241.0" font-size="3.6" text-anchor="middle" fill="#333" class="t">0</text>
<line x1="423.6" y1="233.4" x2="423.6" y2="235.0" stroke="#333" stroke-width="0.5"/>
<text x="439" y="241.0" font-size="3.6" text-anchor="middle" fill="#333" class="t">10<tspan font-size="2.6" dy="-1.2">2</tspan></text>
<line x1="439" y1="233.4" x2="439" y2="235.0" stroke="#333" stroke-width="0.5"/>
<text x="460.5" y="241.0" font-size="3.6" text-anchor="middle" fill="#333" class="t">10<tspan font-size="2.6" dy="-1.2">3</tspan></text>
<line x1="460.5" y1="233.4" x2="460.5" y2="235.0" stroke="#333" stroke-width="0.5"/>
<text x="480.5" y="241.0" font-size="3.6" text-anchor="middle" fill="#333" class="t">10<tspan font-size="2.6" dy="-1.2">4</tspan></text>
<line x1="480.5" y1="233.4" x2="480.5" y2="235.0" stroke="#333" stroke-width="0.5"/>
<text x="501" y="241.0" font-size="3.6" text-anchor="middle" fill="#333" class="t">10<tspan font-size="2.6" dy="-1.2">5</tspan></text>
<line x1="501" y1="233.4" x2="501" y2="235.0" stroke="#333" stroke-width="0.5"/>
<line x1="420" y1="248" x2="449" y2="248" stroke="#000" stroke-width="1.8"/>
<line x1="477.5" y1="248" x2="508" y2="248" stroke="#000" stroke-width="1.8"/>
<text x="462.3" y="252.5" font-size="9.2" font-weight="bold" font-style="italic" text-anchor="middle">CFSE</text>
</g>
</svg>
</body></html>
